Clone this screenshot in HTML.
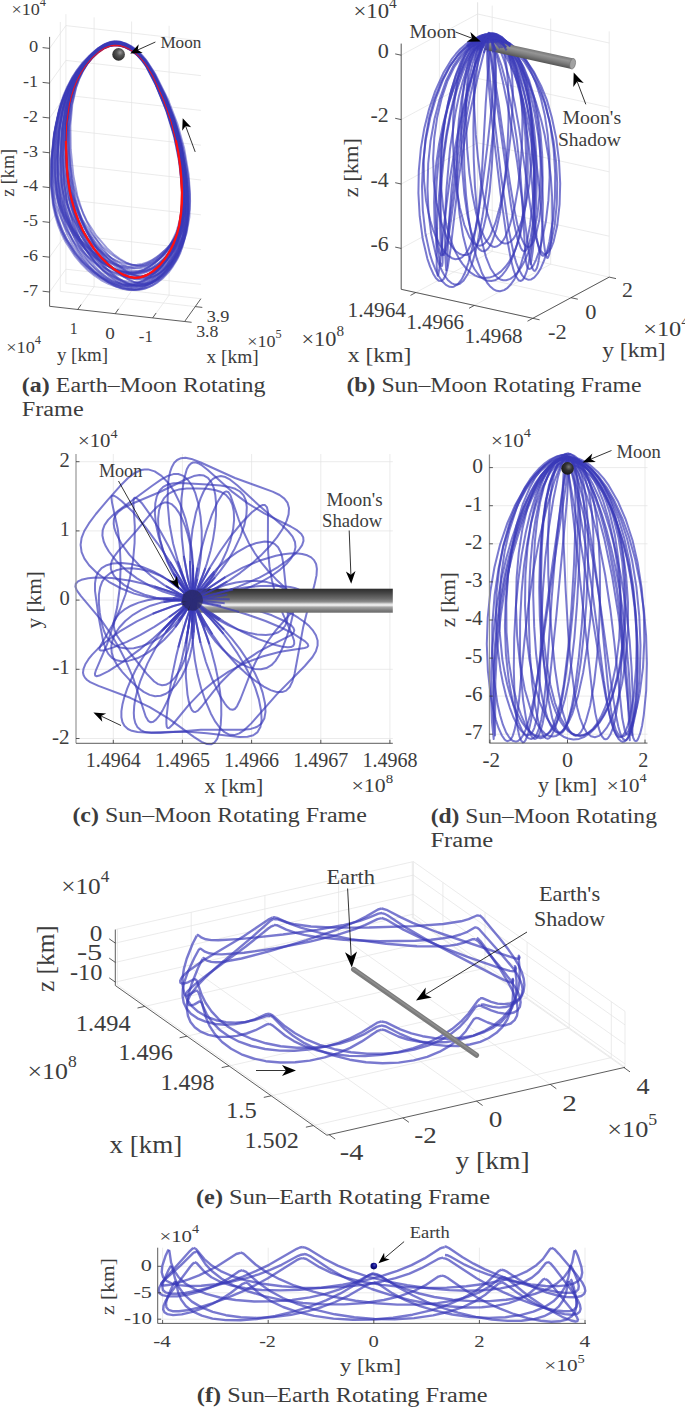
<!DOCTYPE html>
<html><head><meta charset="utf-8"><style>
html,body{margin:0;padding:0;background:#fff;}
svg{display:block;}
text{font-family:"Liberation Serif",serif;fill:#3c3c3c;}
</style></head><body>
<svg width="685" height="1408" viewBox="0 0 685 1408">
<defs>
<radialGradient id="gm" cx="0.62" cy="0.35" r="0.75"><stop offset="0" stop-color="#9a9a9a"/><stop offset="0.35" stop-color="#555"/><stop offset="1" stop-color="#222"/></radialGradient>
<radialGradient id="gm2" cx="0.6" cy="0.38" r="0.7"><stop offset="0" stop-color="#777"/><stop offset="0.4" stop-color="#333"/><stop offset="1" stop-color="#111"/></radialGradient>
<radialGradient id="gearth" cx="0.6" cy="0.35" r="0.75"><stop offset="0" stop-color="#4a4ac0"/><stop offset="0.4" stop-color="#10108a"/><stop offset="1" stop-color="#000050"/></radialGradient>
<linearGradient id="gshc" x1="0" y1="0" x2="0" y2="1"><stop offset="0" stop-color="#2c2c2c"/><stop offset="0.18" stop-color="#454545"/><stop offset="0.42" stop-color="#6c6c6c"/><stop offset="0.55" stop-color="#8c8c8c"/><stop offset="0.64" stop-color="#e2e2e2"/><stop offset="0.69" stop-color="#f0f0f0"/><stop offset="0.77" stop-color="#a4a4a4"/><stop offset="0.9" stop-color="#7c7c7c"/><stop offset="1" stop-color="#6a6a6a"/></linearGradient>
<linearGradient id="gshb" x1="0" y1="0" x2="0" y2="1"><stop offset="0" stop-color="#777"/><stop offset="0.3" stop-color="#959595"/><stop offset="0.6" stop-color="#7d7d7d"/><stop offset="1" stop-color="#555"/></linearGradient>
</defs>
<rect width="685" height="1408" fill="#fff"/>
<line x1="152.7" y1="317.9" x2="169.1" y2="295.1" stroke="#e3e3e3" stroke-width="0.7" />
<line x1="115.2" y1="313.7" x2="131.6" y2="290.9" stroke="#e3e3e3" stroke-width="0.7" />
<line x1="77.7" y1="309.5" x2="94.1" y2="286.7" stroke="#e3e3e3" stroke-width="0.7" />
<line x1="195.3" y1="306.6" x2="60.3" y2="291.4" stroke="#e3e3e3" stroke-width="0.7" />
<line x1="200.9" y1="298.7" x2="65.9" y2="283.5" stroke="#e3e3e3" stroke-width="0.7" />
<line x1="169.1" y1="295.1" x2="169.1" y2="25.8" stroke="#e3e3e3" stroke-width="0.7" />
<line x1="131.6" y1="290.9" x2="131.6" y2="21.5" stroke="#e3e3e3" stroke-width="0.7" />
<line x1="94.1" y1="286.7" x2="94.1" y2="17.3" stroke="#e3e3e3" stroke-width="0.7" />
<line x1="200.9" y1="40.8" x2="65.9" y2="25.6" stroke="#e3e3e3" stroke-width="0.7" />
<line x1="200.9" y1="75.6" x2="65.9" y2="60.4" stroke="#e3e3e3" stroke-width="0.7" />
<line x1="200.9" y1="110.4" x2="65.9" y2="95.2" stroke="#e3e3e3" stroke-width="0.7" />
<line x1="200.9" y1="145.2" x2="65.9" y2="130.0" stroke="#e3e3e3" stroke-width="0.7" />
<line x1="200.9" y1="180.0" x2="65.9" y2="164.8" stroke="#e3e3e3" stroke-width="0.7" />
<line x1="200.9" y1="214.8" x2="65.9" y2="199.6" stroke="#e3e3e3" stroke-width="0.7" />
<line x1="200.9" y1="249.6" x2="65.9" y2="234.4" stroke="#e3e3e3" stroke-width="0.7" />
<line x1="200.9" y1="284.4" x2="65.9" y2="269.2" stroke="#e3e3e3" stroke-width="0.7" />
<line x1="65.9" y1="283.5" x2="65.9" y2="14.2" stroke="#e3e3e3" stroke-width="0.7" />
<line x1="60.3" y1="291.4" x2="60.3" y2="22.0" stroke="#e3e3e3" stroke-width="0.7" />
<line x1="49.6" y1="48.4" x2="65.9" y2="25.6" stroke="#e3e3e3" stroke-width="0.7" />
<line x1="49.6" y1="83.2" x2="65.9" y2="60.4" stroke="#e3e3e3" stroke-width="0.7" />
<line x1="49.6" y1="118.0" x2="65.9" y2="95.2" stroke="#e3e3e3" stroke-width="0.7" />
<line x1="49.6" y1="152.8" x2="65.9" y2="130.0" stroke="#e3e3e3" stroke-width="0.7" />
<line x1="49.6" y1="187.6" x2="65.9" y2="164.8" stroke="#e3e3e3" stroke-width="0.7" />
<line x1="49.6" y1="222.4" x2="65.9" y2="199.6" stroke="#e3e3e3" stroke-width="0.7" />
<line x1="49.6" y1="257.2" x2="65.9" y2="234.4" stroke="#e3e3e3" stroke-width="0.7" />
<line x1="49.6" y1="292.0" x2="65.9" y2="269.2" stroke="#e3e3e3" stroke-width="0.7" />
<path d="M115.1 45.2l4.8 0.4l4.9 1.4l4.6 2.2l5.9 4l4 3.6l4.7 5.4l4.2 6l4.5 7.9l10.5 23l8 22.9l5.8 23.3l2 11.9l1.7 13.9l1.3 21.4l-0.6 18l-2.4 16l-2.3 8.5l-2.3 6.7l-3.7 8l-3.6 6.1l-4.2 5.8l-4.8 5.3l-5.2 4.5l-4.2 2.7l-5.9 2.6l-4.5 0.9l-4.7 0.1l-6.3 -1.4l-6.3 -2.7l-6.1 -3.8l-5.8 -4.5l-6.7 -6.4l-4.9 -5.6l-5.6 -7.4l-4.9 -7.8l-4.3 -7.9l-3.7 -8l-3.7 -9.6l-4.9 -18l-3 -20.3l-1.4 -26.2l0.6 -23.5l2.7 -19.5l2.1 -8.7l2.6 -8.4l3.3 -8.1l4.1 -7.7l4.9 -7.4l5.7 -6.8l6.6 -6l5.7 -3.8l6.1 -2.4l4.7 -0.6" fill="none" stroke="#ff1010" stroke-width="2.2" stroke-opacity="1.0" stroke-linejoin="round"/>
<path d="M115.2 43.4l4.8 0.4l4.9 1.5l4.9 2.3l6.1 4.2l4.2 3.7l5 5.6l4.4 6.2l5 8.2l11.5 23.7l9 23.8l6.7 24.1l4.7 26.7l2.1 22.2l0 18.6l-1.9 16.5l-4.2 15.8l-3.5 8.3l-3.5 6.3l-4.1 6l-4.7 5.5l-5.2 4.6l-4.2 2.9l-5.9 2.6l-4.6 1l-4.8 0.1l-6.5 -1.5l-6.4 -2.8l-6.4 -3.9l-6 -4.6l-7 -6.7l-11 -13.5l-9.8 -16.2l-7.4 -16.5l-5.6 -18.7l-3.8 -20.9l-2.4 -27.1l-0.1 -24.2l2.2 -22.2l4.2 -17.6l3 -8.4l3.8 -8l4.6 -7.6l5.5 -7.1l6.2 -6.2l5.6 -3.9l5.9 -2.5l4.7 -0.7" fill="none" stroke="#3a3ab8" stroke-width="1.8" stroke-opacity="0.5" stroke-linejoin="round"/>
<path d="M115.1 43.1l4.8 0.4l6.2 2l6 3.3l5.5 4.4l4.8 5l4.4 5.6l9.1 15.4l11.9 25.2l8.6 23.8l6.1 24.3l3.5 25.4l0.6 17.3l-1.5 15.5l-3.5 13.3l-5.9 12.7l-4 6l-4.8 5.8l-10.2 8.9l-6.7 4.2l-5.4 2.4l-5.6 1.7l-5.8 0.9l-5.9 0.1l-7.9 -1.4l-5.9 -1.8l-7.6 -3.4l-7.2 -4.2l-6.7 -4.7l-6.1 -5.2l-6.8 -7l-10 -13.4l-4.4 -7.6l-3.6 -7.7l-2.9 -7.7l-2.6 -9.5l-2.6 -17.6l-0.5 -11.5l0.2 -11.7l1 -13.7l1.6 -12.1l4.5 -20.7l3.5 -10.1l3.5 -8.2l5 -9.4l5 -7.5l5.6 -7.2l6.5 -6.6l7.2 -6l6.2 -3.9l6.4 -2.7l6.4 -1.1" fill="none" stroke="#3a3ab8" stroke-width="1.8" stroke-opacity="0.5" stroke-linejoin="round"/>
<path d="M115.1 42.4l4.9 0.5l6.4 2.1l4.7 2.6l5.8 4.5l8.6 9.8l8.9 14.7l11.6 25.8l8.4 24.1l6.2 24.5l4.2 27.2l1.4 20.7l-0.4 18.9l-2.5 16.6l-2.4 8.9l-2.5 6.9l-6.8 13.1l-4.4 6.1l-5 5.6l-5.5 4.7l-4.5 2.9l-6.2 2.7l-4.9 1l-5 0l-6.8 -1.4l-5.1 -2.1l-6.6 -3.6l-6.3 -4.6l-7.3 -6.6l-5.3 -5.7l-6.1 -7.8l-10 -16.3l-7.4 -16.8l-5.5 -18.8l-3.4 -21.1l-1.6 -27.4l0.8 -26.4l1.2 -11.3l1.9 -11.1l4.9 -17.9l3.5 -8.5l4.2 -8.1l5 -7.7l5.8 -7.2l6.6 -6.3l5.7 -3.9l6.1 -2.5l4.7 -0.8" fill="none" stroke="#3a3ab8" stroke-width="1.8" stroke-opacity="0.5" stroke-linejoin="round"/>
<path d="M115.1 44l4.8 0.4l6.3 2.2l4.6 2.6l5.6 4.5l5 5.4l4.3 6l8.2 15l10.9 25.9l8.2 26l5.4 24.7l3.4 27.5l0.8 20.9l-1 17.1l-3.1 16.6l-4.9 14.1l-7.2 13.2l-4.6 6.1l-5.3 5.6l-5.8 4.7l-4.6 2.9l-6.5 2.7l-5 1l-5.2 0.1l-6.9 -1.5l-5.2 -2l-6.7 -3.7l-6.4 -4.6l-7.3 -6.6l-5.3 -5.8l-6 -7.8l-5.3 -8.1l-4.6 -8.3l-7 -16.8l-5.1 -19l-2.8 -21.2l-0.7 -25.6l1.4 -26.6l3.7 -22.6l5.5 -18.1l4.5 -10.3l4.5 -8.1l5.3 -7.7l6.2 -7.2l6.9 -6.4l6 -4l6.2 -2.5l4.8 -0.7" fill="none" stroke="#3a3ab8" stroke-width="1.8" stroke-opacity="0.5" stroke-linejoin="round"/>
<path d="M115.1 41.4l4.9 0.4l6.4 2l4.7 2.4l5.8 4.1l8.6 9l8.8 13.5l10.9 22.1l9 23.7l6.1 22.5l4.1 25l1.4 19l-0.5 17.4l-2.4 15.2l-4.9 14.6l-6.7 12l-4.4 5.6l-4.9 5.1l-5.5 4.3l-4.3 2.7l-6.2 2.4l-4.8 1l-5 0l-6.7 -1.3l-6.6 -2.6l-6.5 -3.7l-6.1 -4.3l-7.1 -6.2l-11 -12.5l-9.7 -15.1l-7.1 -15.4l-5.3 -17.4l-3.3 -19.4l-1.5 -25.2l0.7 -22.6l1.1 -10.4l1.8 -10.2l4.9 -16.4l3.4 -7.8l4.2 -7.5l4.9 -7l5.7 -6.6l6.6 -5.8l5.8 -3.6l6 -2.3l4.7 -0.7" fill="none" stroke="#3a3ab8" stroke-width="1.8" stroke-opacity="0.5" stroke-linejoin="round"/>
<path d="M115.1 44.2l4.9 0.4l6.4 2.1l4.7 2.5l5.9 4.4l5.3 5.1l4.6 5.8l9 14.4l12.1 24.8l9.5 25l6.9 25.4l4.4 26.5l1.4 20l-0.7 16.4l-2.8 15.9l-4.9 13.4l-3.4 6.4l-4.2 6.1l-4.8 5.8l-5.5 5.2l-6.1 4.3l-4.8 2.5l-5.1 1.9l-5.3 0.9l-5.5 0.1l-7.3 -1.4l-5.5 -2l-7.1 -3.5l-6.9 -4.4l-6.3 -5l-5.8 -5.5l-6.7 -7.4l-5.8 -7.7l-5.1 -7.9l-7.9 -16.2l-5.8 -18.1l-3.3 -18.6l-1.5 -24.5l0.9 -27.2l3.2 -21.7l2.7 -10.6l2.9 -8.5l4.3 -9.9l4.4 -7.8l5.2 -7.5l6 -6.9l6.8 -6.1l5.8 -3.8l6.1 -2.4l4.7 -0.7" fill="none" stroke="#3a3ab8" stroke-width="1.8" stroke-opacity="0.5" stroke-linejoin="round"/>
<path d="M115.1 43.1l4.7 0.4l6.2 2.1l5.9 3.6l5.3 4.7l4.8 5.5l4.1 6l9.5 18.4l11.2 27.2l7.9 25.8l5.4 26.4l2.8 27.5l0 18.8l-2 16.7l-3.9 14.3l-2.9 6.9l-3.5 6.7l-4.2 6.4l-5.1 6.2l-5.7 5.6l-4.8 3.8l-6.8 4.2l-5.4 2.4l-5.6 1.6l-5.8 0.7l-5.8 -0.3l-7.8 -1.8l-5.7 -2.3l-7.4 -3.9l-6.9 -4.7l-6.4 -5.2l-5.8 -5.8l-6.4 -7.6l-9.4 -14.6l-4.1 -8.2l-3.3 -8.4l-2.6 -8.4l-2.3 -10.2l-2.2 -19.1l0.2 -25.2l2.7 -26.1l4.9 -22.3l3.5 -11l3.6 -8.8l5.1 -10.2l5.1 -8.2l5.8 -7.7l6.6 -7.2l7.3 -6.5l6.3 -4.2l6.4 -2.9l6.5 -1.1" fill="none" stroke="#3a3ab8" stroke-width="1.8" stroke-opacity="0.5" stroke-linejoin="round"/>
<path d="M115.1 44.3l4.8 0.4l6.3 2.1l4.6 2.5l5.7 4.3l5 5.1l4.5 5.7l9.4 16l11.2 24.7l8.7 24.7l6.2 25.4l3.7 26.3l0.8 19.9l-1.2 16.2l-3 14.1l-5.3 13.3l-3.6 6.3l-4.3 6.1l-5 5.7l-5.7 5.2l-6.3 4.3l-5 2.5l-5.2 1.8l-5.4 1l-5.5 0l-7.4 -1.4l-5.6 -1.9l-7.2 -3.5l-6.8 -4.4l-6.3 -5l-5.8 -5.4l-6.5 -7.3l-5.7 -7.7l-5 -7.9l-7.6 -16l-2.8 -8.1l-2.5 -9.9l-2.8 -18.4l-0.8 -24.3l1.5 -25.3l3.8 -21.6l2.9 -10.5l3.1 -8.6l4.6 -9.9l4.6 -7.8l5.3 -7.5l6.1 -6.9l7 -6.3l5.9 -4.1l6.2 -2.7l6.4 -1.2" fill="none" stroke="#3a3ab8" stroke-width="1.8" stroke-opacity="0.5" stroke-linejoin="round"/>
<path d="M115.1 43.7l4.8 0.4l6.4 2.2l4.7 2.6l5.8 4.5l8.6 9.7l8.7 14.8l11.7 25.7l8.9 25.8l6 24.5l4.1 27.2l1.3 20.7l-0.7 18.9l-2.8 16.5l-4.6 14l-7 13.1l-4.5 6.1l-5.2 5.5l-5.7 4.7l-4.6 2.9l-6.4 2.7l-5 1l-5.1 0l-7 -1.4l-5.2 -2l-6.7 -3.7l-6.5 -4.6l-7.4 -6.5l-5.4 -5.8l-6.2 -7.7l-5.4 -8.1l-4.7 -8.2l-7.3 -16.7l-5.4 -18.8l-3.2 -21.1l-1.2 -25.5l0.9 -26.4l3.2 -22.4l5.1 -18l4.2 -10.2l4.3 -8.1l5.2 -7.7l5.9 -7.1l6.7 -6.4l5.9 -3.9l6.1 -2.5l4.7 -0.7" fill="none" stroke="#3a3ab8" stroke-width="1.8" stroke-opacity="0.5" stroke-linejoin="round"/>
<path d="M115.1 42.9l4.8 0.4l6.2 2l4.5 2.4l5.7 4.3l4.9 5l4.4 5.6l9.2 15.6l11.7 25.9l8.4 24.3l5.9 24.9l3.3 26l0.5 19.5l-1.6 15.9l-3.4 13.7l-5.8 13l-3.9 6.2l-4.6 5.9l-9.8 9.2l-6.5 4.2l-5.1 2.5l-5.4 1.8l-5.5 0.9l-5.6 0l-7.6 -1.3l-5.7 -1.9l-7.3 -3.5l-6.9 -4.3l-6.3 -4.8l-5.9 -5.4l-6.6 -7.1l-5.7 -7.6l-4.9 -7.7l-7.5 -15.8l-2.7 -7.9l-2.5 -9.7l-2.5 -18.1l-0.3 -23.9l2 -24.7l4.2 -21.3l3.2 -10.3l3.3 -8.4l4.8 -9.7l4.8 -7.7l5.6 -7.3l6.3 -6.9l7.1 -6.1l6.1 -4l6.3 -2.7l6.4 -1.1" fill="none" stroke="#3a3ab8" stroke-width="1.8" stroke-opacity="0.5" stroke-linejoin="round"/>
<path d="M115.1 42.5l4.8 0.4l6.4 2.1l4.6 2.5l5.7 4.2l5.1 5.1l4.4 5.7l8.5 14.2l11.2 24.5l8.7 24.6l5.7 23.5l3.8 26l1 19.8l-0.8 16.1l-2.9 15.8l-4.8 13.3l-3.3 6.4l-3.9 6.1l-4.6 5.8l-5.3 5.3l-5.9 4.5l-4.6 2.7l-6.6 2.6l-5.1 0.9l-5.3 0.1l-7 -1.4l-5.3 -1.9l-6.9 -3.5l-6.5 -4.4l-7.5 -6.2l-5.4 -5.5l-6.2 -7.4l-5.4 -7.7l-4.7 -7.8l-7.3 -16l-5.1 -17.9l-2.9 -18.4l-1 -26l1.3 -25.1l3.2 -19.7l2.8 -10.4l3 -8.4l4.5 -9.8l4.5 -7.7l5.3 -7.3l6.1 -6.9l6.8 -6l6 -3.7l6.2 -2.4l4.7 -0.7" fill="none" stroke="#3a3ab8" stroke-width="1.8" stroke-opacity="0.5" stroke-linejoin="round"/>
<path d="M115.1 43.5l4.9 0.4l6.4 2.2l4.7 2.6l5.8 4.5l5.2 5.4l4.6 6l8.8 15.1l11.8 25.9l9.1 26l6.2 24.8l4.2 27.6l1.4 20.8l-0.6 17.2l-2.7 16.6l-4.5 14.2l-3.2 6.7l-3.9 6.4l-4.5 6.2l-5.2 5.6l-5.8 4.7l-4.7 2.9l-6.5 2.7l-5.1 1l-5.3 0.1l-7.1 -1.5l-5.3 -2l-6.9 -3.7l-6.6 -4.6l-7.6 -6.6l-5.5 -5.8l-6.3 -7.8l-5.6 -8.2l-4.8 -8.3l-7.5 -16.8l-5.5 -19l-3.1 -19.4l-1.4 -27.6l0.9 -26.5l2.8 -20.8l2.6 -11.1l2.8 -8.9l4.3 -10.3l4.3 -8.2l5.1 -7.7l6 -7.2l6.7 -6.4l5.8 -3.9l6.1 -2.6l4.7 -0.7" fill="none" stroke="#3a3ab8" stroke-width="1.8" stroke-opacity="0.5" stroke-linejoin="round"/>
<path d="M115.1 43.5l4.9 0.4l6.5 2l4.8 2.5l5.9 4.3l8.8 9.3l9.1 14.1l11.3 23l8.8 22.9l6.5 23.4l4.6 25.8l1.9 19.7l-0.1 18.1l-2 15.9l-4.3 15.2l-3.6 8l-3.6 6.2l-4.2 5.8l-4.9 5.3l-5.3 4.5l-4.3 2.7l-6.1 2.6l-4.8 0.9l-4.9 0.1l-6.6 -1.4l-6.7 -2.7l-6.4 -3.8l-6.2 -4.5l-7.1 -6.4l-11.2 -13.1l-9.8 -15.6l-7.3 -16l-5.5 -18l-3.7 -20.2l-1.9 -26.2l0.2 -23.5l2.5 -21.4l4.6 -17.1l3.2 -8.1l3.9 -7.7l4.8 -7.3l5.6 -6.9l6.4 -6l5.6 -3.8l6 -2.4l4.6 -0.6" fill="none" stroke="#3a3ab8" stroke-width="1.8" stroke-opacity="0.5" stroke-linejoin="round"/>
<path d="M115.1 43.5l4.8 0.4l6.3 1.9l4.6 2.4l5.8 4.1l5.1 4.8l4.5 5.4l9.4 15.1l11.3 23.4l8.8 23.5l6.2 24l3.7 24.9l0.9 18.9l-1.2 15.4l-3 13.2l-5.1 12.7l-3.6 6l-4.2 5.7l-5 5.5l-5.7 4.8l-6.2 4.1l-4.9 2.4l-5.2 1.7l-5.3 0.9l-5.5 0.1l-7.4 -1.3l-5.5 -1.9l-7.1 -3.3l-6.8 -4.2l-6.3 -4.7l-5.7 -5.1l-6.6 -6.9l-5.7 -7.3l-4.9 -7.5l-7.7 -15.2l-2.8 -7.6l-2.6 -9.4l-2.9 -17.5l-0.9 -23l1.5 -25.6l3.8 -20.5l3 -9.9l3.2 -8.1l4.6 -9.2l4.7 -7.4l5.4 -7l6.2 -6.5l7 -5.7l6 -3.6l6.2 -2.3l4.8 -0.6" fill="none" stroke="#3a3ab8" stroke-width="1.8" stroke-opacity="0.5" stroke-linejoin="round"/>
<path d="M115.1 43.1l4.9 0.4l4.9 1.4l4.8 2.3l6.1 4.2l4.2 3.7l4.9 5.6l4.5 6.2l4.9 8.2l11.4 23.7l8.9 23.7l6.6 24.1l4.7 26.6l2 22.2l-0.1 18.6l-1.9 16.5l-4.3 15.7l-3.5 8.3l-3.5 6.3l-4.2 6l-4.7 5.5l-5.2 4.6l-4.2 2.8l-6 2.7l-4.6 1l-4.8 0l-6.5 -1.4l-6.5 -2.8l-6.4 -3.9l-6 -4.7l-7 -6.6l-11 -13.5l-9.8 -16.1l-7.3 -16.6l-5.5 -18.6l-3.8 -20.8l-2.2 -27.1l0 -24.2l2.3 -22.1l4.3 -17.6l3.1 -8.4l3.9 -8l4.6 -7.6l5.5 -7.1l6.4 -6.2l5.5 -3.9l6 -2.4l4.6 -0.7" fill="none" stroke="#3a3ab8" stroke-width="1.8" stroke-opacity="0.5" stroke-linejoin="round"/>
<path d="M115.1 44.9l4.8 0.4l6.3 2.1l6 3.3l5.5 4.5l5 5.1l4.3 5.7l9.3 15.8l12.1 25.6l8.8 24.3l6.3 24.8l3.7 25.9l0.6 17.7l-1.4 15.8l-3.3 13.6l-5.8 13l-4 6.1l-4.7 5.8l-10.1 9.2l-6.7 4.2l-5.3 2.5l-5.6 1.8l-5.7 0.9l-5.9 0l-7.9 -1.3l-5.9 -1.9l-7.6 -3.5l-7.2 -4.2l-6.6 -4.9l-6.1 -5.3l-6.9 -7.1l-10.1 -13.7l-4.4 -7.7l-3.7 -7.9l-2.9 -7.9l-2.6 -9.6l-2.8 -18l-0.6 -11.7l0.1 -12l0.8 -13.9l1.5 -12.4l4.3 -21.1l3.3 -10.3l3.4 -8.4l4.9 -9.6l4.9 -7.7l5.6 -7.3l6.4 -6.8l7.1 -6.1l6.1 -3.9l6.3 -2.8l6.4 -1.1" fill="none" stroke="#3a3ab8" stroke-width="1.8" stroke-opacity="0.5" stroke-linejoin="round"/>
<path d="M115.1 41.3l4.8 0.4l6.3 2.2l4.5 2.7l5.6 4.6l5 5.4l4.4 6.1l9.2 17l10.9 26.3l8.4 26.4l5.8 27l3.4 28l0.6 21.2l-1.4 17.3l-3.1 14.9l-5.3 14.2l-3.6 6.8l-4.3 6.5l-5 6l-5.6 5.5l-6.2 4.6l-4.9 2.7l-5.2 1.9l-5.3 1.1l-5.4 0l-7.3 -1.5l-5.4 -2l-7 -3.8l-6.7 -4.7l-7.7 -6.6l-5.5 -5.9l-6.3 -7.9l-5.4 -8.3l-4.7 -8.4l-7.1 -17.1l-5 -19.2l-2.5 -19.7l-0.6 -12.8l0.1 -15.1l1.9 -26.9l3.7 -21l3.1 -11.2l3.3 -9.1l4.7 -10.4l4.8 -8.3l5.5 -7.8l6.3 -7.4l7.1 -6.4l6 -4l6.3 -2.6l4.8 -0.7" fill="none" stroke="#3a3ab8" stroke-width="1.8" stroke-opacity="0.5" stroke-linejoin="round"/>
<path d="M115.1 41.8l4.8 0.4l6.2 2l4.6 2.4l5.6 4.2l5 4.9l4.5 5.6l9.3 15.4l11.9 25.5l8.7 24.1l6.1 24.6l3.6 25.6l0.6 19.4l-1.5 15.6l-3.4 13.5l-5.8 12.9l-3.9 6.1l-4.7 5.8l-9.9 9.1l-6.6 4.2l-5.2 2.4l-5.4 1.8l-5.7 0.9l-5.7 0l-7.7 -1.3l-5.8 -1.9l-7.4 -3.4l-7 -4.2l-6.5 -4.8l-6 -5.3l-6.7 -7.1l-9.8 -13.6l-4.4 -7.7l-3.6 -7.8l-2.8 -7.8l-2.7 -9.6l-2.7 -17.8l-0.6 -11.6l0.1 -11.9l2.1 -26.2l4.3 -20.9l3.2 -10.3l3.4 -8.2l4.8 -9.6l4.9 -7.6l5.5 -7.3l6.4 -6.7l7.1 -6.1l6.1 -3.9l6.3 -2.7l6.4 -1.1" fill="none" stroke="#3a3ab8" stroke-width="1.8" stroke-opacity="0.5" stroke-linejoin="round"/>
<path d="M115.1 42.2l4.8 0.4l6.5 2.1l4.6 2.5l5.8 4.3l8.6 9.5l8.8 14.2l11.6 24.9l8.9 25l6 23.7l4 26.3l1.2 20l-0.7 18.3l-2.7 16l-4.5 13.5l-7 12.7l-4.4 5.9l-5.1 5.3l-5.6 4.6l-4.5 2.8l-6.3 2.6l-4.9 0.9l-5.1 0.1l-6.8 -1.4l-5.1 -2l-6.7 -3.5l-6.4 -4.4l-7.3 -6.4l-5.4 -5.6l-6 -7.4l-10.1 -15.8l-7.3 -16.2l-5.4 -18.2l-3.4 -20.4l-1.4 -24.6l0.8 -25.5l3 -21.7l4.9 -17.4l4.2 -9.9l4.2 -7.9l5.1 -7.4l5.8 -6.9l6.7 -6.1l5.8 -3.8l6.1 -2.4l4.7 -0.7" fill="none" stroke="#3a3ab8" stroke-width="1.8" stroke-opacity="0.5" stroke-linejoin="round"/>
<path d="M115.1 43.9l4.9 0.4l6.4 2l4.7 2.4l5.8 4.2l8.6 9.2l8.7 13.9l10.7 22.5l8.4 22.6l6 23l4.1 25.5l1.5 19.3l-0.4 17.8l-2.2 15.7l-4.6 14.9l-3.7 7.9l-3.6 6l-4.3 5.8l-4.9 5.2l-5.3 4.4l-4.4 2.7l-6 2.5l-4.7 1l-4.9 0l-6.5 -1.3l-6.6 -2.7l-6.3 -3.7l-6 -4.5l-7 -6.3l-10.8 -12.8l-9.6 -15.4l-7 -15.8l-5.3 -17.7l-3.3 -19.9l-1.6 -25.7l0.5 -23.1l2.9 -21.1l4.7 -16.8l3.4 -7.9l4.1 -7.7l4.9 -7.2l5.7 -6.7l6.5 -5.9l5.8 -3.7l6 -2.4l4.7 -0.6" fill="none" stroke="#3a3ab8" stroke-width="1.8" stroke-opacity="0.5" stroke-linejoin="round"/>
<path d="M115.1 43.4l4.9 0.4l6.4 2.1l4.7 2.6l5.8 4.5l8.6 9.7l8.8 14.6l10.9 23.9l8.4 23.9l6.1 24.3l4.2 26.9l1.5 20.5l-0.3 18.8l-2.2 16.6l-4.5 15.8l-3.7 8.4l-3.7 6.3l-4.2 6.1l-4.9 5.5l-5.4 4.7l-4.4 2.8l-6.1 2.7l-4.7 1l-4.9 0l-6.6 -1.4l-6.6 -2.8l-6.4 -3.9l-6 -4.7l-7.1 -6.7l-10.9 -13.6l-9.6 -16.3l-7.1 -16.7l-5.3 -18.7l-3.3 -21l-1.6 -27.3l0.5 -24.4l1.1 -11.2l1.8 -11l4.8 -17.8l3.3 -8.4l4.1 -8.1l4.9 -7.6l5.7 -7.2l6.6 -6.2l5.7 -3.9l6 -2.5l4.7 -0.7" fill="none" stroke="#3a3ab8" stroke-width="1.8" stroke-opacity="0.5" stroke-linejoin="round"/>
<path d="M115.1 43.3l4.8 0.4l6.3 2.2l4.5 2.6l5.7 4.4l5.1 5.3l4.4 6l9.4 16.5l12 27.3l8.7 25.7l6.1 26.4l3.7 27.4l0.6 20.7l-1.4 16.7l-3.4 14.5l-5.6 13.7l-3.9 6.6l-4.6 6.2l-9.8 9.7l-6.5 4.5l-5.1 2.6l-5.4 1.9l-5.5 1l-5.7 0l-7.7 -1.4l-5.6 -2l-7.4 -3.7l-7 -4.5l-6.4 -5.2l-6 -5.6l-6.6 -7.6l-5.8 -7.9l-5 -8.2l-4.2 -8.3l-3.5 -8.3l-2.8 -8.5l-2.5 -10.2l-2.6 -19.2l-0.5 -25.2l1.8 -26.1l4.1 -22.5l3.1 -10.9l3.3 -8.9l4.7 -10.2l4.7 -8.2l5.5 -7.7l6.3 -7.2l7 -6.5l6 -4.2l6.3 -2.9l6.4 -1.2" fill="none" stroke="#3a3ab8" stroke-width="1.8" stroke-opacity="0.5" stroke-linejoin="round"/>
<path d="M115.1 42l4.8 0.4l6.3 2.2l4.6 2.6l5.7 4.6l5.1 5.4l4.5 6.1l9.5 16.9l12.2 28l8.9 26.3l6.4 27l3.9 28l0.8 21.2l-1.4 17.1l-3.3 14.8l-5.7 14.1l-3.9 6.7l-4.7 6.3l-5.4 6l-4.6 4l-6.5 4.6l-5.3 2.7l-5.4 1.9l-5.7 1l-5.8 0l-7.8 -1.4l-5.8 -2.1l-7.5 -3.7l-7.1 -4.7l-6.6 -5.2l-6 -5.8l-6.8 -7.8l-10.1 -14.8l-4.4 -8.5l-3.6 -8.5l-3 -8.6l-2.6 -10.4l-2.9 -19.6l-0.7 -12.7l0 -13l2.1 -28.7l4.1 -22.9l3.2 -11.2l3.3 -9.1l4.8 -10.5l4.8 -8.3l5.5 -7.9l6.3 -7.4l7.1 -6.7l6 -4.3l6.3 -2.9l6.4 -1.2" fill="none" stroke="#3a3ab8" stroke-width="1.8" stroke-opacity="0.5" stroke-linejoin="round"/>
<path d="M115.2 44l4.8 0.5l5 1.4l4.8 2.2l6.2 4l4.2 3.7l5.1 5.4l4.5 6l4.9 8l11.7 23l9.1 23l6.8 23.4l4.6 24.1l2.3 21.5l0.2 18.1l-1.6 16l-3.8 15.4l-3.2 8.1l-3.3 6.2l-3.9 5.9l-4.5 5.5l-5 4.8l-4 2.9l-5.8 2.9l-4.5 1.3l-4.7 0.3l-6.4 -1l-6.4 -2.4l-6.4 -3.5l-6.1 -4.4l-7.1 -6.3l-11.2 -12.9l-10.1 -15.7l-8.3 -17.6l-5.7 -18.1l-4 -20.2l-2.6 -26.3l-0.3 -23.5l1.9 -21.5l4 -17.1l3 -8.2l3.7 -7.7l4.5 -7.4l5.4 -6.9l6.2 -6l5.4 -3.8l5.9 -2.4l4.7 -0.7" fill="none" stroke="#3a3ab8" stroke-width="1.8" stroke-opacity="0.5" stroke-linejoin="round"/>
<path d="M115.1 44.6l4.8 0.4l6.3 2.1l4.7 2.5l5.7 4.4l5.1 5.2l4.6 5.8l9.5 16.3l12.3 26.8l9 25.2l6.3 25.9l3.9 26.9l0.8 20.3l-1.3 16.5l-3.2 14.2l-5.6 13.4l-3.8 6.4l-4.5 6.1l-9.8 9.6l-6.4 4.4l-5.1 2.6l-5.4 1.8l-5.5 1l-5.7 0l-7.6 -1.4l-5.7 -1.9l-7.4 -3.7l-7 -4.4l-6.5 -5.1l-6 -5.5l-6.7 -7.4l-5.9 -7.8l-5.1 -8.1l-7.7 -16.3l-2.9 -8.3l-2.6 -10l-2.8 -18.8l-0.8 -24.8l1.7 -25.6l3.8 -22.1l3 -10.7l3.2 -8.7l4.6 -10.1l4.7 -8l5.4 -7.5l6.1 -7.1l7 -6.4l5.9 -4.1l6.2 -2.9l6.4 -1.1" fill="none" stroke="#3a3ab8" stroke-width="1.8" stroke-opacity="0.5" stroke-linejoin="round"/>
<path d="M115.1 41.9l4.9 0.4l4.8 1.4l4.8 2.3l5.9 4l4.1 3.7l4.9 5.4l4.2 6l4.8 8l10.9 23.1l8.5 23.1l6.2 23.5l4.2 26l1.7 21.6l-0.4 18.2l-2.2 16l-4.4 15.3l-3.7 8.1l-3.5 6.1l-4.2 5.9l-4.8 5.3l-5.3 4.6l-4.2 2.7l-5.9 2.6l-4.7 1l-4.7 0l-6.5 -1.4l-6.4 -2.7l-6.3 -3.8l-5.9 -4.5l-6.9 -6.5l-10.7 -13.1l-9.6 -15.8l-7.6 -17.8l-5.1 -18.1l-3.3 -20.4l-1.7 -26.5l0.5 -23.6l2.5 -19.7l4.6 -17.2l3.3 -8.2l4 -7.8l4.7 -7.4l5.7 -6.9l6.4 -6l5.7 -3.8l6 -2.4l4.7 -0.7" fill="none" stroke="#3a3ab8" stroke-width="1.8" stroke-opacity="0.5" stroke-linejoin="round"/>
<path d="M115.1 41.9l4.8 0.4l6.4 2.2l4.7 2.5l5.8 4.5l5.2 5.3l4.6 6l8.7 14.9l11.8 25.7l9.2 25.8l6.6 26.3l4.1 27.4l1.3 20.7l-0.8 16.9l-3.1 16.5l-5 13.9l-3.5 6.6l-4.1 6.3l-4.9 5.9l-5.6 5.4l-6.1 4.5l-4.9 2.6l-5.1 1.9l-5.3 1l-5.4 0l-7.3 -1.4l-5.5 -2l-7.1 -3.7l-6.8 -4.5l-6.3 -5.2l-5.8 -5.7l-6.5 -7.6l-5.8 -8l-5 -8.2l-7.8 -16.7l-5.6 -18.7l-3.1 -19.2l-1.3 -25.3l1.2 -28.2l3.4 -22.5l2.9 -10.9l3 -8.9l4.5 -10.2l4.5 -8.1l5.3 -7.6l6 -7.2l6.9 -6.3l5.9 -3.9l6.2 -2.5l4.7 -0.7" fill="none" stroke="#3a3ab8" stroke-width="1.8" stroke-opacity="0.5" stroke-linejoin="round"/>
<path d="M115.1 43.3l4.9 0.4l4.9 1.3l4.7 2.2l6.1 3.8l4 3.5l4.9 5.2l4.3 5.7l4.8 7.6l11 22l8.6 22l6.2 22.3l4.3 24.7l1.7 20.6l-0.3 17.3l-2.1 15.2l-4.4 14.6l-3.5 7.7l-3.5 5.8l-4.1 5.6l-4.7 5.1l-5.2 4.3l-4.1 2.6l-5.8 2.5l-4.6 0.9l-4.7 0l-6.3 -1.3l-6.4 -2.6l-6.1 -3.6l-5.9 -4.3l-6.8 -6.2l-10.7 -12.5l-9.6 -15l-7.7 -16.9l-5.2 -17.2l-3.4 -19.4l-1.9 -25.2l0.2 -22.5l2.2 -18.8l4.4 -16.3l3.1 -7.8l3.9 -7.4l4.7 -7l5.5 -6.6l6.4 -5.8l5.6 -3.6l6 -2.3l4.6 -0.6" fill="none" stroke="#3a3ab8" stroke-width="1.8" stroke-opacity="0.5" stroke-linejoin="round"/>
<path d="M115.1 41.9l4.8 0.4l6.4 2.2l4.7 2.6l5.7 4.6l5.2 5.4l4.5 6.1l8.7 15.2l11.6 26.2l9 26.3l6.5 26.9l3.9 27.9l1.1 21.1l-0.9 17.3l-3 16.8l-5 14.1l-3.5 6.8l-4.1 6.4l-4.9 6.1l-5.5 5.5l-6 4.5l-4.9 2.7l-5 1.9l-5.2 1.1l-5.4 0l-7.2 -1.5l-5.4 -2l-7 -3.8l-6.7 -4.6l-7.7 -6.7l-5.6 -5.9l-6.3 -7.8l-5.5 -8.2l-4.8 -8.5l-7.4 -17l-5.4 -19.1l-2.9 -19.7l-1 -27.8l1.3 -26.9l3.2 -21l2.8 -11.1l3 -9l4.4 -10.5l4.5 -8.2l5.3 -7.8l6 -7.3l6.9 -6.5l5.9 -4l6.2 -2.5l4.7 -0.7" fill="none" stroke="#3a3ab8" stroke-width="1.8" stroke-opacity="0.5" stroke-linejoin="round"/>
<path d="M115.1 42.5l4.9 0.4l6.4 2l4.6 2.4l5.8 4.2l8.5 9l8.6 13.7l10.6 22.2l8.2 22.3l5.9 22.7l4 25.1l1.3 19.1l-0.4 17.5l-2.3 15.5l-4.7 14.7l-3.7 7.8l-3.7 5.9l-4.2 5.7l-4.9 5.1l-5.4 4.4l-4.3 2.6l-6.1 2.5l-4.7 1l-4.8 0l-6.5 -1.3l-6.5 -2.7l-6.4 -3.6l-6 -4.4l-6.9 -6.2l-10.8 -12.7l-9.4 -15.2l-7 -15.5l-5.2 -17.5l-3.2 -19.6l-1.5 -25.4l0.7 -22.8l2.9 -20.7l4.9 -16.6l3.4 -7.8l4.1 -7.6l4.9 -7.1l5.8 -6.6l6.6 -5.9l5.7 -3.6l6.1 -2.3l4.7 -0.7" fill="none" stroke="#3a3ab8" stroke-width="1.8" stroke-opacity="0.5" stroke-linejoin="round"/>
<path d="M115.1 44.5l4.9 0.4l6.4 2.1l4.7 2.6l5.9 4.4l8.7 9.7l8.9 14.6l11.1 23.8l9.2 25.5l6.2 24.3l4.2 26.9l1.5 20.4l-0.3 18.7l-2.4 16.5l-2.3 8.8l-2.5 6.9l-6.7 12.9l-4.3 6l-5 5.5l-5.4 4.7l-4.4 2.9l-6.2 2.6l-4.8 1l-4.9 0l-6.8 -1.4l-5 -2l-6.5 -3.6l-6.3 -4.6l-7.3 -6.4l-11.3 -13.4l-10.1 -16.2l-7.4 -16.5l-5.6 -18.6l-3.6 -20.9l-1.7 -27.1l0.4 -26.2l1.1 -11.2l1.8 -11l4.8 -17.7l3.4 -8.4l4.1 -8l4.8 -7.6l5.8 -7.1l6.5 -6.2l5.7 -3.9l6 -2.5l4.7 -0.7" fill="none" stroke="#3a3ab8" stroke-width="1.8" stroke-opacity="0.5" stroke-linejoin="round"/>
<path d="M115.1 43l4.7 0.5l6.2 2.1l5.9 3.6l5.3 4.7l4.7 5.5l4.1 6.1l9.4 18.5l11 27.4l7.8 25.8l5.2 26.6l2.7 27.6l-0.1 18.9l-2 16.8l-4 14.4l-6.3 13.7l-4.3 6.5l-4.9 6.1l-5.8 5.7l-4.7 3.8l-6.7 4.2l-5.4 2.4l-5.5 1.6l-5.7 0.7l-5.8 -0.3l-7.7 -1.8l-5.6 -2.2l-7.3 -4l-6.9 -4.7l-6.3 -5.3l-5.7 -5.7l-6.4 -7.7l-9.3 -14.7l-4 -8.3l-3.3 -8.3l-2.6 -8.5l-2.3 -10.3l-2.1 -19.2l0.2 -25.3l2.6 -26.2l4.8 -22.5l3.5 -11l3.6 -8.9l5.1 -10.3l5 -8.2l5.8 -7.7l6.6 -7.3l7.3 -6.5l6.3 -4.2l6.4 -2.9l6.5 -1.2" fill="none" stroke="#3a3ab8" stroke-width="1.8" stroke-opacity="0.5" stroke-linejoin="round"/>
<path d="M115.1 44.5l4.7 0.4l6.2 2.2l5.9 3.6l5.4 4.7l4.8 5.5l4.2 6.1l9.6 18.6l11.4 27.4l8.1 25.9l5.6 26.7l3 27.7l0.2 18.9l-2 16.9l-3.9 14.4l-2.8 7l-3.5 6.8l-4.3 6.4l-5.1 6.2l-5.8 5.7l-4.8 3.8l-6.9 4.3l-5.5 2.4l-5.6 1.6l-5.9 0.7l-5.9 -0.3l-7.9 -1.9l-5.8 -2.2l-7.5 -3.9l-7 -4.8l-6.5 -5.3l-5.9 -5.8l-6.5 -7.7l-9.6 -14.7l-4.1 -8.3l-3.4 -8.4l-2.6 -8.5l-2.3 -10.2l-2.2 -19.3l-0.3 -12.6l0.5 -12.8l2.8 -26.3l4.8 -22.6l3.6 -11l3.6 -8.9l5.2 -10.3l5.1 -8.2l5.8 -7.8l6.6 -7.3l7.3 -6.5l6.3 -4.2l6.4 -2.9l6.5 -1.2" fill="none" stroke="#3a3ab8" stroke-width="1.8" stroke-opacity="0.5" stroke-linejoin="round"/>
<path d="M115.1 43.4l4.7 0.4l6.2 2.1l5.9 3.6l5.4 4.7l4.7 5.4l4.2 6.1l9.6 18.2l11.3 27.1l7.9 25.6l5.5 26.3l2.9 27.4l0.1 18.7l-2 16.6l-3.9 14.3l-2.8 6.9l-3.5 6.6l-4.2 6.4l-5 6.1l-5.8 5.7l-4.7 3.7l-6.8 4.2l-5.4 2.4l-5.6 1.5l-5.8 0.7l-5.8 -0.3l-7.8 -1.8l-5.8 -2.2l-7.3 -3.9l-7 -4.6l-6.3 -5.3l-5.9 -5.7l-6.4 -7.6l-9.5 -14.5l-4.1 -8.2l-3.3 -8.3l-2.7 -8.4l-2.3 -10.1l-2.2 -19l0.1 -25.1l2.7 -26l4.7 -22.2l3.5 -10.9l3.6 -8.8l5.1 -10.2l5 -8.1l5.8 -7.7l6.6 -7.1l7.3 -6.5l6.2 -4.2l6.4 -2.8l6.5 -1.2" fill="none" stroke="#3a3ab8" stroke-width="1.8" stroke-opacity="0.5" stroke-linejoin="round"/>
<path d="M115.1 42.5l4.7 0.4l6.2 2.2l5.9 3.6l5.4 4.7l4.8 5.5l4.2 6.2l8.8 16.8l11.3 27.4l8.1 26l5.6 26.5l3 27.7l0.1 20.8l-1.9 16.9l-3.9 14.5l-6.3 13.7l-4.1 6.5l-5 6.1l-5.6 5.8l-4.7 3.8l-6.7 4.2l-5.4 2.4l-5.5 1.6l-5.7 0.7l-5.7 -0.3l-7.7 -1.8l-5.7 -2.3l-7.3 -3.9l-6.8 -4.7l-6.3 -5.4l-5.8 -5.7l-6.4 -7.8l-9.4 -14.6l-4.1 -8.4l-3.3 -8.4l-2.6 -8.5l-2.4 -10.3l-2.3 -19.2l0.1 -25.4l2.4 -26.3l4.6 -22.6l3.4 -11l3.5 -9l5 -10.3l5 -8.2l5.7 -7.8l6.5 -7.2l7.2 -6.6l6.2 -4.2l6.4 -2.9l6.5 -1.2" fill="none" stroke="#3a3ab8" stroke-width="1.8" stroke-opacity="0.5" stroke-linejoin="round"/>
<path d="M115.1 45l4.8 0.4l6.3 2l4.5 2.4l5.6 4.2l5 5l4.4 5.6l8.2 13.9l11 24l8.5 24.1l5.9 24.6l3.4 25.5l0.7 19.4l-1.2 15.8l-3.4 15.4l-5.2 13l-3.6 6.1l-4.3 5.9l-4.9 5.6l-5.6 5l-6.2 4.2l-4.9 2.5l-5.1 1.7l-5.2 1l-5.4 0l-7.2 -1.3l-5.4 -1.9l-6.9 -3.5l-6.6 -4.2l-7.6 -6.1l-5.5 -5.4l-6.2 -7.2l-5.4 -7.5l-4.6 -7.7l-7.2 -15.7l-4.9 -17.5l-2.5 -18l-0.6 -11.7l0 -13.8l1.9 -24.6l3.7 -19.2l3.1 -10.2l3.2 -8.3l4.7 -9.5l4.7 -7.6l5.5 -7.2l6.3 -6.6l7.1 -5.9l6 -3.7l6.3 -2.3l4.8 -0.7" fill="none" stroke="#3a3ab8" stroke-width="1.8" stroke-opacity="0.5" stroke-linejoin="round"/>
<path d="M115.1 45.1l4.7 0.4l6.2 2.1l5.9 3.4l5.4 4.4l4.7 5.2l4.1 5.7l8.7 15.8l11.1 25.9l7.9 24.3l5.4 25l2.9 26l0 19.6l-2 15.9l-3.9 13.6l-6.3 12.9l-4.2 6.1l-4.9 5.8l-10.3 8.9l-6.7 4l-5.3 2.3l-5.4 1.5l-5.7 0.6l-5.7 -0.2l-7.6 -1.8l-5.6 -2.1l-7.2 -3.7l-6.8 -4.4l-7.7 -6.3l-5.6 -5.6l-6.2 -7.3l-9 -13.9l-7 -15.7l-2.5 -8l-2.1 -9.7l-2.1 -18.2l0.3 -23.9l2.7 -24.8l2 -10.7l2.8 -10.5l3.6 -10.3l3.6 -8.4l5.2 -9.6l5.1 -7.6l5.9 -7.3l6.6 -6.7l7.4 -6l6.3 -3.7l6.4 -2.3l4.9 -0.7" fill="none" stroke="#3a3ab8" stroke-width="1.8" stroke-opacity="0.5" stroke-linejoin="round"/>
<path d="M115.1 45.1l4.9 0.4l4.8 1.4l4.7 2.2l5.9 4.1l4 3.6l4.8 5.4l4.1 6l4.7 8l10.6 23.1l8.3 23l5.9 23.4l4 26l1.4 21.5l-0.5 18.1l-2.3 16l-4.6 15.3l-3.7 8.1l-3.6 6.1l-4.2 5.8l-4.9 5.4l-5.3 4.5l-4.2 2.8l-5.9 2.5l-4.7 1l-4.7 0l-6.5 -1.3l-6.4 -2.8l-6.2 -3.8l-5.9 -4.5l-6.8 -6.4l-10.6 -13.1l-9.4 -15.8l-7.5 -17.7l-4.9 -18.1l-3.1 -20.4l-1.5 -26.4l0.7 -23.5l2.8 -19.7l4.7 -17.2l3.3 -8.1l4.1 -7.8l4.9 -7.4l5.7 -6.8l6.6 -6.1l5.7 -3.8l6.1 -2.4l4.7 -0.6" fill="none" stroke="#3a3ab8" stroke-width="1.8" stroke-opacity="0.5" stroke-linejoin="round"/>
<path d="M115.1 44.6l4.8 0.4l6.3 2l4.6 2.5l5.6 4.2l5.1 5l4.4 5.6l9.3 15.7l11.2 24.1l8.7 24.3l6.1 24.9l3.7 25.8l0.7 19.5l-1.2 15.9l-3.1 13.8l-5.3 13.1l-3.6 6.2l-4.3 5.9l-5.1 5.6l-5.8 5.1l-6.3 4.2l-5 2.5l-5.3 1.8l-5.4 0.9l-5.6 0l-7.4 -1.3l-5.6 -1.9l-7.2 -3.5l-6.8 -4.3l-6.4 -4.8l-5.8 -5.4l-6.5 -7.1l-5.7 -7.6l-5 -7.7l-7.6 -15.7l-2.7 -8l-2.6 -9.6l-2.7 -18.1l-0.6 -23.9l1.6 -24.7l3.9 -21.2l3 -10.3l3.2 -8.4l4.6 -9.7l4.6 -7.7l5.4 -7.3l6.2 -6.8l7 -6.2l6 -3.9l6.2 -2.8l6.4 -1.1" fill="none" stroke="#3a3ab8" stroke-width="1.8" stroke-opacity="0.5" stroke-linejoin="round"/>
<path d="M115.1 41.2l4.9 0.4l6.4 2l4.7 2.5l5.9 4.2l5.3 5l4.6 5.7l9 14.1l12.1 24.3l9.4 24.3l6.9 24.9l4.4 25.9l1.4 19.6l-0.7 16l-2.8 15.5l-4.9 13.2l-3.4 6.2l-4.1 6l-4.9 5.6l-5.4 5.1l-6.1 4.3l-4.9 2.4l-5.1 1.8l-5.2 1l-5.4 0l-7.4 -1.3l-5.4 -2l-7.2 -3.4l-6.8 -4.3l-6.3 -4.9l-5.8 -5.4l-6.6 -7.2l-5.9 -7.5l-5 -7.8l-8 -15.8l-5.8 -17.7l-3.3 -18.2l-1.5 -23.9l0.9 -26.6l3.1 -21.3l2.7 -10.3l2.9 -8.4l4.4 -9.6l4.4 -7.7l5.1 -7.2l6 -6.8l6.8 -6l5.8 -3.7l6.1 -2.3l4.7 -0.7" fill="none" stroke="#3a3ab8" stroke-width="1.8" stroke-opacity="0.5" stroke-linejoin="round"/>
<path d="M115.1 45.2l4.8 0.4l4.9 1.4l4.6 2.2l5.9 4l4 3.6l4.7 5.4l4.2 6l4.5 7.9l10.5 23l8 22.9l5.8 23.3l2 11.9l1.7 13.9l1.3 21.4l-0.6 18l-2.4 16l-2.3 8.5l-2.3 6.7l-3.7 8l-3.6 6.1l-4.2 5.8l-4.8 5.3l-5.2 4.5l-4.2 2.7l-5.9 2.6l-4.5 0.9l-4.7 0.1l-6.3 -1.4l-6.3 -2.7l-6.1 -3.8l-5.8 -4.5l-6.7 -6.4l-4.9 -5.6l-5.6 -7.4l-4.9 -7.8l-4.3 -7.9l-3.7 -8l-3.7 -9.6l-4.9 -18l-3 -20.3l-1.4 -26.2l0.6 -23.5l2.7 -19.5l2.1 -8.7l2.6 -8.4l3.3 -8.1l4.1 -7.7l4.9 -7.4l5.7 -6.8l6.6 -6l5.7 -3.8l6.1 -2.4l4.7 -0.6" fill="none" stroke="#ff1010" stroke-width="1.0" stroke-opacity="1.0" stroke-linejoin="round"/>
<path d="M175.9 140.3l2.3 11.8l2 13.7l1.3 14.1l0.5 12.6l-0.1 10.8l-0.9 10.8l-1.6 10.6l-2.2 8.6l-3.5 10l-3.9 7.9l-4.7 7.5l-5.7 6.9l-6.5 5.8l-5.6 3.5l-6 2.2l-6.1 0.7l-6.3 -1l-6.3 -2.4l-7.7 -4.6l-7.2 -5.7l-6.5 -6.6l-7.1 -8.6l-6.1 -9.2l-5.3 -9.5l-4.3 -9.6l-3.6 -9.6l-2.8 -9.8l-2.2 -10l-1.8 -11.7l-1.2 -12l-0.9 -26.6" fill="none" stroke="#ff1010" stroke-width="2.2" stroke-opacity="1.0" stroke-linejoin="round"/>
<line x1="49.6" y1="306.3" x2="49.6" y2="36.9" stroke="#333" stroke-width="0.8" />
<line x1="184.6" y1="321.5" x2="49.6" y2="306.3" stroke="#333" stroke-width="0.8" />
<line x1="184.6" y1="321.5" x2="200.9" y2="298.7" stroke="#333" stroke-width="0.8" />
<line x1="49.6" y1="48.4" x2="42.6" y2="47.6" stroke="#333" stroke-width="0.8" />
<line x1="49.6" y1="83.2" x2="42.6" y2="82.4" stroke="#333" stroke-width="0.8" />
<line x1="49.6" y1="118.0" x2="42.6" y2="117.2" stroke="#333" stroke-width="0.8" />
<line x1="49.6" y1="152.8" x2="42.6" y2="152.0" stroke="#333" stroke-width="0.8" />
<line x1="49.6" y1="187.6" x2="42.6" y2="186.8" stroke="#333" stroke-width="0.8" />
<line x1="49.6" y1="222.4" x2="42.6" y2="221.6" stroke="#333" stroke-width="0.8" />
<line x1="49.6" y1="257.2" x2="42.6" y2="256.4" stroke="#333" stroke-width="0.8" />
<line x1="49.6" y1="292.0" x2="42.6" y2="291.2" stroke="#333" stroke-width="0.8" />
<line x1="152.7" y1="317.9" x2="156.1" y2="313.0" stroke="#333" stroke-width="0.8" />
<line x1="115.2" y1="313.7" x2="118.6" y2="308.8" stroke="#333" stroke-width="0.8" />
<line x1="77.7" y1="309.5" x2="81.1" y2="304.6" stroke="#333" stroke-width="0.8" />
<line x1="184.6" y1="321.5" x2="191.6" y2="322.3" stroke="#333" stroke-width="0.8" />
<line x1="195.3" y1="306.6" x2="202.3" y2="307.4" stroke="#333" stroke-width="0.8" />
<circle cx="118.6" cy="54.4" r="6.3" fill="url(#gm)"/>
<line x1="155.4" y1="42.0" x2="137.7" y2="50.0" stroke="#000" stroke-width="0.8" />
<path d="M130.2 53.4 L138.7 44.3 L137.7 50.0 L142.7 53.0 Z" fill="#000"/>
<line x1="195.2" y1="151.9" x2="185.6" y2="126.0" stroke="#000" stroke-width="0.8" />
<path d="M182.7 118.2 L191.2 127.3 L185.6 126.0 L182.2 130.7 Z" fill="#000"/>
<text x="29.1" y="52.2" font-size="17.5" textLength="9.2" lengthAdjust="spacingAndGlyphs">0</text>
<text x="23.0" y="86.8" font-size="17.5" textLength="15.0" lengthAdjust="spacingAndGlyphs">-1</text>
<text x="23.0" y="121.7" font-size="17.5" textLength="15.0" lengthAdjust="spacingAndGlyphs">-2</text>
<text x="23.0" y="156.5" font-size="17.5" textLength="15.0" lengthAdjust="spacingAndGlyphs">-3</text>
<text x="23.0" y="191.3" font-size="17.5" textLength="15.0" lengthAdjust="spacingAndGlyphs">-4</text>
<text x="23.0" y="226.1" font-size="17.5" textLength="15.0" lengthAdjust="spacingAndGlyphs">-5</text>
<text x="23.0" y="261.0" font-size="17.5" textLength="15.0" lengthAdjust="spacingAndGlyphs">-6</text>
<text x="23.0" y="295.8" font-size="17.5" textLength="15.0" lengthAdjust="spacingAndGlyphs">-7</text>
<text x="11.4" y="15.0" font-size="17.5" textLength="34.6" lengthAdjust="spacingAndGlyphs">&#215;10<tspan dy="-8.8" font-size="11.9">4</tspan></text>
<text transform="translate(13.9,196.7) rotate(-90)" font-size="19" textLength="47.7" lengthAdjust="spacingAndGlyphs">z [km]</text>
<text x="69.7" y="334.1" font-size="17.5" textLength="7.9" lengthAdjust="spacingAndGlyphs">1</text>
<text x="105.2" y="338.5" font-size="17.5" textLength="9.6" lengthAdjust="spacingAndGlyphs">0</text>
<text x="138.8" y="342.1" font-size="17.5" textLength="14.0" lengthAdjust="spacingAndGlyphs">-1</text>
<text x="6.2" y="352.9" font-size="17.5" textLength="34.9" lengthAdjust="spacingAndGlyphs">&#215;10<tspan dy="-8.8" font-size="11.9">4</tspan></text>
<text x="56.9" y="360.9" font-size="19" textLength="51.1" lengthAdjust="spacingAndGlyphs">y [km]</text>
<text x="206.7" y="322.3" font-size="17.5" textLength="22.8" lengthAdjust="spacingAndGlyphs">3.9</text>
<text x="196.2" y="336.6" font-size="17.5" textLength="22.3" lengthAdjust="spacingAndGlyphs">3.8</text>
<text x="247.2" y="346.6" font-size="17.5" textLength="34.5" lengthAdjust="spacingAndGlyphs">&#215;10<tspan dy="-8.8" font-size="11.9">5</tspan></text>
<text x="206.6" y="363.4" font-size="19" textLength="52.1" lengthAdjust="spacingAndGlyphs">x [km]</text>
<text x="160.4" y="48.2" font-size="17" textLength="40.9" lengthAdjust="spacingAndGlyphs">Moon</text>
<text x="21.8" y="391.8" font-size="20" textLength="243.8" lengthAdjust="spacingAndGlyphs"><tspan font-weight="bold">(a)</tspan> Earth–Moon Rotating</text>
<text x="21.8" y="415.8" font-size="20" textLength="61.9" lengthAdjust="spacingAndGlyphs">Frame</text>
<line x1="415.8" y1="292.5" x2="492.2" y2="251.3" stroke="#e3e3e3" stroke-width="0.7" />
<line x1="474.3" y1="305.4" x2="550.7" y2="264.2" stroke="#e3e3e3" stroke-width="0.7" />
<line x1="532.8" y1="318.3" x2="609.2" y2="277.1" stroke="#e3e3e3" stroke-width="0.7" />
<line x1="401.2" y1="289.3" x2="532.8" y2="318.3" stroke="#e3e3e3" stroke-width="0.7" />
<line x1="439.4" y1="268.7" x2="571.0" y2="297.7" stroke="#e3e3e3" stroke-width="0.7" />
<line x1="477.6" y1="248.1" x2="609.2" y2="277.1" stroke="#e3e3e3" stroke-width="0.7" />
<line x1="401.2" y1="289.3" x2="401.2" y2="43.6" stroke="#e3e3e3" stroke-width="0.7" />
<line x1="439.4" y1="268.7" x2="439.4" y2="23.0" stroke="#e3e3e3" stroke-width="0.7" />
<line x1="477.6" y1="248.1" x2="477.6" y2="2.4" stroke="#e3e3e3" stroke-width="0.7" />
<line x1="401.2" y1="55.2" x2="477.6" y2="14.0" stroke="#e3e3e3" stroke-width="0.7" />
<line x1="401.2" y1="119.6" x2="477.6" y2="78.4" stroke="#e3e3e3" stroke-width="0.7" />
<line x1="401.2" y1="184.0" x2="477.6" y2="142.8" stroke="#e3e3e3" stroke-width="0.7" />
<line x1="401.2" y1="248.4" x2="477.6" y2="207.2" stroke="#e3e3e3" stroke-width="0.7" />
<line x1="492.2" y1="251.3" x2="492.2" y2="5.6" stroke="#e3e3e3" stroke-width="0.7" />
<line x1="550.7" y1="264.2" x2="550.7" y2="18.5" stroke="#e3e3e3" stroke-width="0.7" />
<line x1="609.2" y1="277.1" x2="609.2" y2="31.4" stroke="#e3e3e3" stroke-width="0.7" />
<line x1="477.6" y1="14.0" x2="609.2" y2="43.0" stroke="#e3e3e3" stroke-width="0.7" />
<line x1="477.6" y1="78.4" x2="609.2" y2="107.4" stroke="#e3e3e3" stroke-width="0.7" />
<line x1="477.6" y1="142.8" x2="609.2" y2="171.8" stroke="#e3e3e3" stroke-width="0.7" />
<line x1="477.6" y1="207.2" x2="609.2" y2="236.2" stroke="#e3e3e3" stroke-width="0.7" />
<line x1="477.6" y1="248.1" x2="477.6" y2="2.4" stroke="#e3e3e3" stroke-width="0.7" />
<path d="M489.5 39l2.2 -0.7l3 -0.3l5.4 1.6l5.4 4.1l5.3 6.4l5.1 8.8l4.8 10.7l4.2 12.5l3.7 14.1l2.6 13l2.5 16l1.7 16.5l1 16.7l0.4 23.5l-0.8 26.2l-1.8 24.3l-3.5 31.6l2 -12.3l1.8 -19.5l0.9 -30.8l-1.2 -31.7l-3.3 -30.7l-5.2 -27.5l-3.3 -12.9l-4.2 -14l-4 -10.8l-5 -11.1l-4.4 -8.1l-5.2 -7.5l-5.2 -5.3l-4.9 -3" fill="none" stroke="#3a3ab8" stroke-width="2.0" stroke-opacity="0.68" stroke-linejoin="round"/>
<path d="M489.5 42.2l-2.9 -0.5l-2.7 0.3l-2.6 1l-2.9 2.3l-4.1 6l-3.6 10l-2.4 11.5l-1.6 15.4l-0.7 17.7l0.2 21.3l1 22.2l2.2 24.2l3 20.7l3.6 18.3l4.3 15l4.3 10.2l2.5 4.1l2.7 2.9l2.6 1.6l2.2 0.5l2.7 -0.6l2.6 -1.8l2.6 -3l2.6 -4.2l4.7 -11.8l4.6 -17.3l3.7 -21.1l2.6 -23.5l1.5 -24.5l0.2 -22l-1.1 -18.7l-1.8 -15.1l-3.2 -14.8l-3.8 -10.8l-4.7 -8.2l-2.7 -3l-2.9 -2.4l-3 -1.6l-3.3 -0.9l-3.4 -0.1l-3.5 0.7" fill="none" stroke="#3a3ab8" stroke-width="2.0" stroke-opacity="0.68" stroke-linejoin="round"/>
<path d="M489.1 35.4l-5.7 2.4l-6.6 5.4l-6.5 8.2l-5.6 9.2l-5.2 11.1l-5.5 14.5l-4.9 16.2l-4.2 17.4l-3.3 18.2l-2.9 20.7l-2 22.5l-0.9 21l0.2 20.2l1.4 18.5l2.3 11.9l1.4 2.4l1.3 0l1 -1.5l1.2 -3.5l2.4 -11.9l12.2 -93.1l4.5 -28.1l4.7 -24.3l5.8 -24.8l6 -20.1l2.7 -6.8l2.4 -4.4l2.2 -2l1.4 0.9" fill="none" stroke="#3a3ab8" stroke-width="2.0" stroke-opacity="0.68" stroke-linejoin="round"/>
<path d="M488.9 36.6l2 2.7l1.4 3l2.4 9.8l1.2 13.5l0.2 18.6l-1 24.1l-1.6 19.1l-3.7 35.2l-4.1 32.4l-3.5 23.3l-3.4 18.9l-3.3 14.7l-3.6 12.3l-3.9 9.5l-4.3 6.7l-3.9 3.3l-2.4 0.8l-2.4 0.1l-3.6 -1.5l-3.6 -3.2l-3.6 -4.9l-2.8 -5.3l-3.2 -7.9l-2.5 -7.7l-4.5 -20.1l-2.7 -21.6l-1 -23.8l0.7 -25l2.4 -22.9l4 -22.2l4.9 -18.7l6.6 -19.1l7.1 -14.6l8.1 -12.1l4.3 -4.9l4.5 -4.2l4.6 -3.3l4.8 -2.5l4.8 -1.7l4.9 -0.8" fill="none" stroke="#3a3ab8" stroke-width="2.0" stroke-opacity="0.68" stroke-linejoin="round"/>
<path d="M489.2 36.7l3.5 0.4l3.5 1.2l6 4.3l5.6 6.8l6 10.7l5.3 13.5l4.5 15.8l3.8 17.8l2.9 19.2l2.3 22.5l1.4 25.4l0.2 24.6l-0.8 25l-2.1 23.3l-3 17.9l-1.7 6.6l-1.9 4.9l-1.9 3.2l-1.9 1.2l-2.3 -0.8l-2.7 -3.9l-2.3 -6.1l-2.5 -9.7l-5 -27.2l-5.6 -40l-8.2 -69.3l-4.3 -46l-0.8 -15.7l-0.1 -12.4l0.8 -8.7l1.7 -4.6" fill="none" stroke="#3a3ab8" stroke-width="2.0" stroke-opacity="0.68" stroke-linejoin="round"/>
<path d="M489.6 36.9l1.4 -1.8l1.9 0.7l2.5 3.3l2.5 4.7l6 16l6 20.7l4.8 22.9l4.5 25.2l11.3 79.1l3.5 21l2.1 9.7l2.3 7.5l2.5 5.2l2.6 2.7l1.1 0.4l1.6 -0.2l2.3 -1.8l2.8 -4.5l2.2 -5.7l3.7 -16.2l2.4 -21.5l0.6 -20.9l-1.2 -22.6l-2.9 -23.2l-4.3 -20.4l-5 -17.3l-5.7 -14l-7.4 -14.4l-7.3 -10.8l-7.9 -9l-9.5 -7.8l-4.9 -2.9l-4.9 -2.2l-5 -1.4l-4.9 -0.7" fill="none" stroke="#3a3ab8" stroke-width="2.0" stroke-opacity="0.68" stroke-linejoin="round"/>
<path d="M489.4 36l-2.8 -0.1l-2.8 0.7l-2.6 1.4l-2.5 2.2l-4.6 6.6l-4.3 10.7l-3.2 12.3l-2.7 16.2l-1.6 16.4l-0.9 19.8l-0.1 23l1 25.2l2.1 23.9l2.7 19.2l3.8 17.4l4 11.6l2.2 4l2.2 2.9l2.3 1.5l2.3 0.3l1.9 -0.7l2.3 -2l2.2 -3.3l2.2 -4.5l3.7 -10.9l3.7 -16.1l3.1 -19.3l2.7 -23.9l1.9 -25.4l0.9 -23.2l0.1 -22.2l-0.7 -18.2l-1.5 -15.8l-2 -11.7l-3.1 -10l-3.5 -5.7l-2 -1.8l-2.2 -0.9l-2.3 -0.2l-2.4 0.6" fill="none" stroke="#3a3ab8" stroke-width="2.0" stroke-opacity="0.68" stroke-linejoin="round"/>
<path d="M488.9 39.3l-3 2.9l-3.8 6.3l-4.1 9.1l-3.6 10.1l-7.3 25.5l-6.5 30.5l-5 30.8l-3.9 33.1l-2.4 30.5l-2.4 47.7l-0.7 4.4l-0.8 -12.2l-0.4 -22.9l0.4 -23.1l1 -22.2l3.6 -40.8l5.4 -35.7l3.6 -17.6l3.7 -14.1l4.5 -14.1l4.1 -10.3l4.3 -8.2l4.8 -6.4l2.4 -2l2.3 -1.2l1.7 -0.3l2.2 0.3" fill="none" stroke="#3a3ab8" stroke-width="2.0" stroke-opacity="0.68" stroke-linejoin="round"/>
<path d="M489 38l4.4 1.7l3.5 2.3l3.3 3.1l3.2 3.9l3 4.6l3.5 6.9l5.5 14.9l4.4 17.8l3.3 20l2.3 24l0.8 22.3l-0.5 24.7l-1.6 21.2l-3.1 21.7l-3.9 17.1l-4.9 14.3l-3.1 6.5l-3.3 5.5l-3.5 4.4l-3.6 3.3l-3.7 2.1l-3.8 0.8l-3.7 -0.3l-3.6 -1.5l-3.6 -2.7l-2.7 -3.1l-3.3 -4.8l-2.4 -4.6l-4.9 -12.8l-4 -15.9l-3.4 -20.7l-2 -20.6l-0.9 -24.3l0.5 -24.9l1.6 -24.4l3 -22.8l3.7 -18.4l4.7 -15.7l5.7 -12.4l3.5 -5.3l2.9 -3.3l3.9 -3.1l3.2 -1.5" fill="none" stroke="#3a3ab8" stroke-width="2.0" stroke-opacity="0.68" stroke-linejoin="round"/>
<path d="M489.4 33.6l3.3 -0.2l3.5 0.7l6 3.3l6 5.8l6.5 9.6l5.4 10.8l5.5 14.7l4.9 16.7l4.1 18.3l3.6 21.9l2.6 22.4l1.5 22.1l0.6 23.4l-0.5 23.1l-1.7 22.1l-2.5 15.1l-1.4 4.8l-1.6 2.4l-0.6 0.3l-0.9 -0.3l-1.4 -2.6l-1.5 -5l-1.6 -8.5l-12 -92.1l-4.6 -29.3l-5 -28.2l-4.8 -23.4l-5 -21.3l-4.9 -17.9l-3.3 -8.9" fill="none" stroke="#3a3ab8" stroke-width="2.0" stroke-opacity="0.68" stroke-linejoin="round"/>
<path d="M489.6 33.6l-0.6 -0.7l-0.5 0.1l-0.3 2.6l1.5 15.8l21.3 154.2l3.3 19.2l3.3 14.5l3.1 8.4l1.5 2.4l1.5 1.1l1.8 -0.4l1.7 -2.2l1.9 -4.9l1.6 -6l2.5 -16.6l1.6 -21.9l0.5 -23.3l-0.6 -22.8l-1.8 -23.2l-2.6 -20.4l-3.2 -17l-4 -15.6l-4.7 -13.7l-4.8 -10.1l-5.9 -9.2l-5.7 -5.8l-5.9 -3.5l-3.4 -0.9l-3.5 -0.2" fill="none" stroke="#3a3ab8" stroke-width="2.0" stroke-opacity="0.68" stroke-linejoin="round"/>
<path d="M489.2 36.8l-5.1 0.9l-5.1 1.7l-6.3 3.1l-4.9 3.3l-6 5.2l-4.5 4.9l-8.6 11.8l-7.4 14l-7.2 18.1l-4.9 17.6l-3.7 21l-1.8 21.4l0.3 21.1l2.1 20l4.2 19.9l2.7 8.7l3.1 7.8l3.9 7.9l4.2 6.2l3.5 3.9l4.3 2.9l3.5 1l4.2 -0.6l2.6 -1.5l3.1 -3l2.9 -4.3l2.6 -5.4l4.4 -14.4l3.2 -18.1l3 -32.5l4.2 -75.7l4.3 -59.1l0.2 -9.4l-0.5 -0.4l-0.8 2.1" fill="none" stroke="#3a3ab8" stroke-width="2.0" stroke-opacity="0.68" stroke-linejoin="round"/>
<path d="M488.9 36.6l-5.1 16.5l-6.2 24.7l-8 36.9l-4.7 24.4l-6.3 40.2l-8 69.4l-2.9 18.7l-1.8 7l-2.1 4.5l-2.4 2.2l-2.7 -0.3l-2.9 -2.8l-2.6 -4.3l-3.1 -7.1l-2.7 -7.8l-4.7 -20l-3 -22.6l-1.3 -23.1l0.4 -22.2l2.1 -22.7l3.4 -20l4.8 -19.2l6.1 -17.9l8.1 -18l8.1 -13.4l4.4 -5.7l4.5 -5l4.7 -4.1l4.7 -3.4l4.9 -2.5l4.8 -1.6l4.9 -0.8l4.8 0.1" fill="none" stroke="#3a3ab8" stroke-width="2.0" stroke-opacity="0.68" stroke-linejoin="round"/>
<path d="M489 38l4.5 1.2l4.4 2l4.2 2.9l4 3.7l3.7 4.5l3.6 5.3l6.3 12.8l5.3 15.4l4.6 19.7l2.6 19.3l1.6 22.8l0.4 25.8l-1.4 27.9l-2.7 23.6l-4.3 23l-5.1 17.3l-2.9 7.2l-3.6 7.2l-3.3 4.7l-3.3 3.5l-3.4 2.3l-4.2 1.1l-3.4 -0.4l-3.4 -1.7l-3.3 -2.9l-2.6 -3.2l-5.4 -10l-5.4 -15.3l-4.1 -16.9l-3.7 -21.8l-2.7 -24.2l-1.7 -25.5l-0.4 -23.2l0.5 -22.7l1.9 -25.9l2.6 -18.8l3.9 -15.9l4.4 -11.3l3.3 -5.5l2.8 -3.5l3 -2.7l3.2 -1.8" fill="none" stroke="#3a3ab8" stroke-width="2.0" stroke-opacity="0.68" stroke-linejoin="round"/>
<path d="M489.6 36.7l1.9 -1.1l2.1 -0.2l4.1 1.7l4.3 4.1l4.6 6.6l5.2 10.2l4.6 11.1l4.3 12.9l4.1 14.4l5.4 24.6l5 30.9l4 34.9l4.9 57.7l1.3 9.1l1.5 4.1l0.6 0.2l0.6 -0.5l1.3 -3.6l2.1 -14.9l0.9 -20.4l-0.3 -21.6l-1.3 -19.7l-2.4 -20.6l-3.6 -21l-3.7 -15.9l-5.2 -17.5l-5.2 -14.2l-5.8 -13l-7.1 -12.9l-6.6 -9.4l-7.6 -8.3l-6.7 -4.9l-3.8 -1.9l-3.7 -1.1" fill="none" stroke="#3a3ab8" stroke-width="2.0" stroke-opacity="0.68" stroke-linejoin="round"/>
<path d="M489.5 38.4l-2.8 -0.7l-2.1 0.2l-1.9 1l-2.1 2.3l-3.1 7l-2.1 10.4l-1.2 13.6l-0.4 18.1l0.5 18.3l1.5 26.3l2.1 22.4l2.7 21.7l3.4 19.9l3.7 15.5l4.1 12.7l4 8.5l2.6 3.8l2.2 2.2l2.2 1.4l2.2 0.6l2.8 -0.4l2.8 -1.6l2.8 -2.8l3.1 -5l4.9 -11.9l4.5 -17.5l3.5 -21.1l1.9 -21.3l0.8 -24.5l-0.8 -22l-2.1 -18.8l-2.9 -15.3l-4.4 -15l-5 -11l-5.9 -8.5l-3.3 -3.2l-3.4 -2.5l-3.6 -1.8l-3.8 -1.1l-3.9 -0.3l-3.9 0.4" fill="none" stroke="#3a3ab8" stroke-width="2.0" stroke-opacity="0.68" stroke-linejoin="round"/>
<path d="M489.1 37.5l-5 2.1l-5.8 5.1l-5.8 7.9l-5 9l-4.7 10.8l-4.9 14.2l-3.9 13.9l-3.9 17l-3.3 17.8l-2.8 20.4l-2.2 22.4l-1.3 21l-0.5 22.2l0.6 18.6l1.5 12.1l1 2.7l1 0.2l1.9 -4.5l2.3 -11.3l12.4 -88.9l4.6 -28l5 -26.4l5.6 -24.8l5.6 -20.2l4.5 -11.5l1.8 -2.3l1.1 0.6" fill="none" stroke="#3a3ab8" stroke-width="2.0" stroke-opacity="0.68" stroke-linejoin="round"/>
<path d="M488.9 36.1l1.6 2.9l1.1 3.2l1.7 11.5l0.4 16l-0.7 19.7l-1.4 17.9l-4 37l-5.1 40.9l-4.5 31.3l-6.1 33l-3.5 13.3l-3.2 9.4l-3.5 7.2l-3.8 4.8l-4.1 2.5l-1.8 0.3l-2.4 -0.2l-3.7 -1.9l-3.7 -3.7l-3.7 -5.4l-2.9 -5.8l-3.3 -8.3l-2.5 -8.1l-4.5 -20.9l-2.5 -22.2l-0.8 -24.3l1 -22.9l2.7 -23.1l4.5 -22.5l5.4 -18.8l7.4 -19.1l7.7 -14.7l8.7 -12l4.7 -4.9l4.8 -4.1l4.9 -3.3l5.1 -2.4l5.1 -1.6l5.2 -0.6" fill="none" stroke="#3a3ab8" stroke-width="2.0" stroke-opacity="0.68" stroke-linejoin="round"/>
<path d="M489.2 37.5l5.1 0.2l5.1 1l3.8 1.4l4.9 2.5l4.9 3.4l4.7 4.2l4.4 4.9l4.3 5.7l7.9 13.4l6.7 15.7l4.9 15.3l4.6 21.2l3.1 22.3l1.6 25l-0.3 24.2l-1.9 22.4l-3.7 21.7l-2.5 10l-2.8 8.7l-3.1 7.2l-3.2 5.5l-3.3 3.9l-3.2 2.1l-3.2 0.3l-3.1 -1.4l-2.9 -3.2l-3.3 -6l-2.6 -6.8l-2.4 -8.5l-5.1 -24.9l-7.8 -54.9l-10.8 -93.3l-2 -29l0.4 -9.3l1.2 -5" fill="none" stroke="#3a3ab8" stroke-width="2.0" stroke-opacity="0.68" stroke-linejoin="round"/>
<path d="M489.6 36.1l1.2 -1.1l1.8 -0.7l3.5 0.7l3.8 3.3l4 5.7l4.1 8l3.5 8.6l3.9 11.7l3.1 11.4l5.2 25.7l4.4 30.4l2.6 26.1l4.2 54.6l1.7 16.9l2.5 12.6l1.6 3.7l1.4 1.7l0.9 0.4l1.3 -0.2l2.3 -2.3l2.4 -4.8l2 -6l3.6 -16.6l2.2 -22l0.4 -21.2l-1.1 -20.4l-2.5 -21l-4.2 -20.7l-4.9 -17.6l-5.5 -14.4l-6.3 -13.1l-8 -13.1l-7.7 -9.5l-9.1 -8.5l-4.6 -3.2l-4.7 -2.5l-4.6 -1.8l-4.6 -1" fill="none" stroke="#3a3ab8" stroke-width="2.0" stroke-opacity="0.68" stroke-linejoin="round"/>
<path d="M489.4 38.6l-3.8 -0.2l-3.6 0.5l-3.4 1.3l-3.3 1.9l-3 2.7l-2.9 3.4l-5 8.8l-4.2 11.3l-3.1 13.5l-2.6 19.3l-1.3 17l-0.3 22.2l1.2 24.6l2.1 21.4l3.6 21.1l4.5 17.4l4.8 11.6l2.5 4.2l2.7 3l2.7 1.7l2.7 0.5l2.7 -0.8l2.7 -2.1l2.7 -3.2l2.6 -4.5l5 -12.3l4.5 -16.2l4.3 -21.3l3.6 -23.9l2.9 -27.2l1.6 -24.6l0.5 -18.7l-0.7 -15l-1.8 -14.4l-2.5 -10.3l-3.6 -7.6l-2.1 -2.7l-2.4 -1.9l-2.6 -1.2l-2.1 -0.3l-2.9 0.1l-3.2 1" fill="none" stroke="#3a3ab8" stroke-width="2.0" stroke-opacity="0.68" stroke-linejoin="round"/>
<path d="M489 35.9l-6 3.7l-7 7.1l-6.2 8.5l-6 10.4l-5.8 12.3l-5.4 13.7l-5.5 17.3l-4.2 16.1l-3.8 19l-2.8 19.3l-1.6 19l-0.6 20.3l0.5 20.4l1.9 20.2l3.3 18.3l1.3 3.8l0.5 0.7l0.5 -0.2l0.5 -3.1l0.1 -7.2l-2.3 -52.5l0.2 -34.4l0.9 -16.9l1.6 -16.9l2.3 -16.7l2.5 -13.8l3.6 -15.1l4.8 -15.7l4.5 -11.9l5.7 -11.3l5.1 -7.4l6 -5.6l2.9 -1.6l2.9 -0.7l2.8 0.1l2.7 1" fill="none" stroke="#3a3ab8" stroke-width="2.0" stroke-opacity="0.68" stroke-linejoin="round"/>
<path d="M489 34.2l4.7 2.2l3.6 2.6l3.6 3.5l4.1 5.4l3.2 5.2l3.6 7.4l3.3 8.5l2.9 9.4l4.9 21l2.8 21l1.9 27l0.2 24.8l-1.3 24l-2.4 20.1l-3.8 18l-5 15.4l-2.7 5.9l-3.7 6.5l-3.3 4.4l-4.3 4.6l-3.6 2.8l-4.6 2.5l-3.8 1.2l-4.9 0.4l-4.8 -0.7l-4.7 -2l-4.6 -3l-3.6 -3.3l-4.2 -5.1l-3.2 -4.8l-3.7 -7l-3.4 -7.9l-5.2 -16.4l-3.7 -18.8l-2.1 -20.7l-0.5 -24.3l1.4 -24.9l3 -21.9l5 -22.9l5.7 -18.5l6.9 -15.8l4.4 -7.4l3.7 -5.1l4.9 -5.3l4.1 -3.4l5.3 -3.1l4.3 -1.5" fill="none" stroke="#3a3ab8" stroke-width="2.0" stroke-opacity="0.68" stroke-linejoin="round"/>
<path d="M489.4 38.4l4.3 -0.5l4.3 0.3l7.5 2.6l4.2 2.6l4.2 3.3l8 9.1l7.2 11.8l6.4 14.2l5.3 16.3l4.1 17.7l2.8 18.8l1.7 21.6l0.2 21.4l-1.2 22.8l-2.5 20.7l-4.3 20.9l-2.7 9.8l-2.8 7.8l-2.6 5.5l-2.4 3.2l-2 0.8l-1.4 -1.3l-1.1 -3l-1 -5.7l-3.6 -62.7l-1.9 -25.5l-3.3 -31.2l-4 -25.7l-5.3 -25.7l-6.2 -23.2l-6.1 -17l-3 -6.1l-2.6 -3.7" fill="none" stroke="#3a3ab8" stroke-width="2.0" stroke-opacity="0.68" stroke-linejoin="round"/>
<path d="M489.6 37.2l-0.8 -1.1l-0.2 1l0.9 8.1l9.1 58l11.1 78.2l4.5 27.5l3.2 15.9l3.5 12l3.2 7l1.8 2.2l1.5 0.9l2.2 -0.2l2.1 -2l2.1 -3.7l2 -5.5l3.5 -15.4l2.3 -20.7l1 -22.3l-0.4 -22l-1.8 -22.4l-2.9 -19.8l-3.6 -16.6l-4.6 -15.3l-5.5 -13.5l-5.4 -10.1l-6.9 -9.2l-6.5 -5.8l-3.9 -2.4l-3.9 -1.7l-4 -1l-4 -0.2" fill="none" stroke="#3a3ab8" stroke-width="2.0" stroke-opacity="0.68" stroke-linejoin="round"/>
<path d="M489.2 39.7l-4.5 0.6l-4.5 1.3l-5.5 2.7l-4.2 3l-5.2 4.7l-4 4.6l-7.3 10.9l-6.4 13.3l-5.9 17.3l-4.5 19.1l-2.9 20.3l-1.2 20.9l0.7 22.7l2.6 21.3l4.3 18.7l5.5 15.3l3.1 6.2l3.3 4.9l3.4 3.8l3.4 2.5l3.5 1.3l4.1 -0.2l3.9 -2.1l3.7 -4l3.3 -5.6l3.1 -7.3l2.7 -8.9l2.3 -10.2l3.7 -25.8l2.1 -24.6l1.6 -30.3l1.5 -40.1l0.3 -27.8l-0.5 -16.5l-1.1 -9.7l-1 -2.9l-1.1 -1l-1.2 0.2l-1.4 1.5" fill="none" stroke="#3a3ab8" stroke-width="2.0" stroke-opacity="0.68" stroke-linejoin="round"/>
<path d="M488.9 34.2l-2.7 3.2l-3.5 6.5l-4 9.6l-3.7 10.5l-7.7 26.5l-6.9 29.4l-5.7 29.4l-4.8 29.7l-4.6 35l-5.9 54.2l-1 6.2l-0.7 1.2l-1 -9.1l-0.2 -21.3l0.7 -22.7l1.6 -24.7l2 -22l2.7 -22.8l3.1 -20.3l3.8 -19.7l4.3 -18.5l4.2 -14.9l5.1 -14.9l4.8 -11l5.5 -9.7l4.9 -5.9l2.7 -2.2l2.6 -1.4l2 -0.4l2.5 0.2" fill="none" stroke="#3a3ab8" stroke-width="2.0" stroke-opacity="0.68" stroke-linejoin="round"/>
<path d="M489.1 34.3l4.5 0.7l4.4 1.6l4.3 2.5l4.1 3.3l4.1 4.1l3.8 4.9l3.6 5.6l4.2 8l6 14.8l5.4 19.1l4 21.1l2.3 22.3l0.9 25.1l-0.9 24.7l-2.5 23l-3.9 20.6l-2.5 9.2l-2.9 8.2l-3.1 7.3l-4 7.3l-3.5 4.9l-3.5 3.7l-3.6 2.6l-4.3 1.4l-2.8 0l-2.7 -0.8l-2.7 -1.6l-2.5 -2.4l-4.7 -7l-4.6 -11.4l-3.9 -14.7l-2.8 -15.5l-2.6 -19.6l-1.8 -21.5l-1.2 -27.5l-0.3 -30.1l0.6 -26.3l1.5 -21.5l2.4 -18.4l3.1 -13.1l3.9 -9.4l2.5 -3.4l2.1 -1.9" fill="none" stroke="#3a3ab8" stroke-width="2.0" stroke-opacity="0.68" stroke-linejoin="round"/>
<g transform="rotate(12.43 485.5 44.6)"><rect x="485.5" y="39.3" width="89.2" height="10.6" fill="url(#gshb)"/><ellipse cx="574.7" cy="44.6" rx="2.8" ry="5.3" fill="#a2a2a2" stroke="#707070" stroke-width="0.6"/></g>
<path d="M489.5 39l2.9 -0.9l3.1 0l5.3 1.9" fill="none" stroke="#3a3ab8" stroke-width="2.0" stroke-opacity="0.68" stroke-linejoin="round"/>
<path d="M500.3 48.1l-5.1 -5.6l-5.7 -3.7" fill="none" stroke="#3a3ab8" stroke-width="2.0" stroke-opacity="0.68" stroke-linejoin="round"/>
<path d="M489.5 42.2l-3.6 -0.5l-3.3 0.7" fill="none" stroke="#3a3ab8" stroke-width="2.0" stroke-opacity="0.68" stroke-linejoin="round"/>
<path d="M497.6 42l-4.2 -0.5l-4.4 0.7" fill="none" stroke="#3a3ab8" stroke-width="2.0" stroke-opacity="0.68" stroke-linejoin="round"/>
<path d="M489.1 35.4l-3.3 1.1l-4 2.4l-4.2 3.5l-4.1 4.5" fill="none" stroke="#3a3ab8" stroke-width="2.0" stroke-opacity="0.68" stroke-linejoin="round"/>
<path d="M484 38.9l3 -4l0.9 -0.2l1 0.9" fill="none" stroke="#3a3ab8" stroke-width="2.0" stroke-opacity="0.68" stroke-linejoin="round"/>
<path d="M488.9 36.6l2 2.7l1.4 3l2.4 9.8" fill="none" stroke="#3a3ab8" stroke-width="2.0" stroke-opacity="0.68" stroke-linejoin="round"/>
<path d="M467.8 46.9l5.8 -4.6l4.7 -2.7l6 -2.2l4.9 -0.8" fill="none" stroke="#3a3ab8" stroke-width="2.0" stroke-opacity="0.68" stroke-linejoin="round"/>
<path d="M489.2 36.7l4.4 0.6l3.5 1.5l3.4 2.3l4.1 4.1" fill="none" stroke="#3a3ab8" stroke-width="2.0" stroke-opacity="0.68" stroke-linejoin="round"/>
<path d="M487.1 49.9l0.8 -8.7l1.7 -4.6" fill="none" stroke="#3a3ab8" stroke-width="2.0" stroke-opacity="0.68" stroke-linejoin="round"/>
<path d="M489.6 36.9l0.7 -1.4l0.9 -0.5l1.4 0.6l1.3 1.3" fill="none" stroke="#3a3ab8" stroke-width="2.0" stroke-opacity="0.68" stroke-linejoin="round"/>
<path d="M510.2 44.7l-4.9 -3.1l-4.9 -2.3l-4.9 -1.6l-6.2 -1" fill="none" stroke="#3a3ab8" stroke-width="2.0" stroke-opacity="0.68" stroke-linejoin="round"/>
<path d="M489.4 36l-2.8 -0.1l-3.4 1l-2.6 1.6l-3.1 3.1" fill="none" stroke="#3a3ab8" stroke-width="2.0" stroke-opacity="0.68" stroke-linejoin="round"/>
<path d="M498.7 39.4l-2.4 -2.5l-2.1 -1.2l-2.3 -0.3l-3 0.6" fill="none" stroke="#3a3ab8" stroke-width="2.0" stroke-opacity="0.68" stroke-linejoin="round"/>
<path d="M488.9 39.3l-3 2.9l-3.3 5.3" fill="none" stroke="#3a3ab8" stroke-width="2.0" stroke-opacity="0.68" stroke-linejoin="round"/>
<path d="M481 42l4.1 -2.6l1.7 -0.3l2.2 0.3" fill="none" stroke="#3a3ab8" stroke-width="2.0" stroke-opacity="0.68" stroke-linejoin="round"/>
<path d="M489 38l3.6 1.3l3.5 2l3.3 2.9l3.2 3.7" fill="none" stroke="#3a3ab8" stroke-width="2.0" stroke-opacity="0.68" stroke-linejoin="round"/>
<path d="M477.2 49l2.9 -4l3 -3.1l3.1 -2.4l3.2 -1.5" fill="none" stroke="#3a3ab8" stroke-width="2.0" stroke-opacity="0.68" stroke-linejoin="round"/>
<path d="M489.4 33.6l4.2 -0.1l4.3 1.3l4.3 2.6l5.1 4.8" fill="none" stroke="#3a3ab8" stroke-width="2.0" stroke-opacity="0.68" stroke-linejoin="round"/>
<path d="M495.2 50.2l-3.2 -10.6l-2.4 -6.2" fill="none" stroke="#3a3ab8" stroke-width="2.0" stroke-opacity="0.68" stroke-linejoin="round"/>
<path d="M489.6 33.6l-0.8 -0.8l-0.4 0.5l0 5.6" fill="none" stroke="#3a3ab8" stroke-width="2.0" stroke-opacity="0.68" stroke-linejoin="round"/>
<path d="M506.9 42.9l-4.1 -4.1l-4.1 -2.9l-4.3 -1.8l-5.2 -0.6" fill="none" stroke="#3a3ab8" stroke-width="2.0" stroke-opacity="0.68" stroke-linejoin="round"/>
<path d="M489.2 36.8l-5.1 0.9l-5.1 1.7l-6.3 3.1l-4.9 3.3" fill="none" stroke="#3a3ab8" stroke-width="2.0" stroke-opacity="0.68" stroke-linejoin="round"/>
<path d="M490.2 36.2l-0.4 -1.5l-0.9 2.2" fill="none" stroke="#3a3ab8" stroke-width="2.0" stroke-opacity="0.68" stroke-linejoin="round"/>
<path d="M488.9 36.6l-5.1 16.5" fill="none" stroke="#3a3ab8" stroke-width="2.0" stroke-opacity="0.68" stroke-linejoin="round"/>
<path d="M467.3 43.1l6.1 -3.6l4.8 -1.8l6.1 -1.1l4.8 0.1" fill="none" stroke="#3a3ab8" stroke-width="2.0" stroke-opacity="0.68" stroke-linejoin="round"/>
<path d="M489 38l4.5 1.2l4.4 2l4.2 2.9l4 3.7" fill="none" stroke="#3a3ab8" stroke-width="2.0" stroke-opacity="0.68" stroke-linejoin="round"/>
<path d="M477.8 50.3l2.7 -4.3l2.8 -3.5l3 -2.7l3.2 -1.8" fill="none" stroke="#3a3ab8" stroke-width="2.0" stroke-opacity="0.68" stroke-linejoin="round"/>
<path d="M489.6 36.7l1.9 -1.1l2.7 -0.1l2.9 1.2l2.4 1.8" fill="none" stroke="#3a3ab8" stroke-width="2.0" stroke-opacity="0.68" stroke-linejoin="round"/>
<path d="M506.4 47.2l-3.8 -3.6l-4.8 -3.6l-3.8 -2l-4.6 -1.5" fill="none" stroke="#3a3ab8" stroke-width="2.0" stroke-opacity="0.68" stroke-linejoin="round"/>
<path d="M489.5 38.4l-2.3 -0.7l-2.1 0.1l-2 0.8l-1.7 1.6" fill="none" stroke="#3a3ab8" stroke-width="2.0" stroke-opacity="0.68" stroke-linejoin="round"/>
<path d="M504.3 41.2l-3.6 -1.8l-3.8 -1.1l-3.9 -0.3l-3.9 0.4" fill="none" stroke="#3a3ab8" stroke-width="2.0" stroke-opacity="0.68" stroke-linejoin="round"/>
<path d="M489.1 37.5l-2.9 0.9l-2.8 1.7l-3.7 3.1l-2.9 3.3" fill="none" stroke="#3a3ab8" stroke-width="2.0" stroke-opacity="0.68" stroke-linejoin="round"/>
<path d="M485.5 40.4l2.1 -3.3l0.7 -0.1l0.6 0.6" fill="none" stroke="#3a3ab8" stroke-width="2.0" stroke-opacity="0.68" stroke-linejoin="round"/>
<path d="M488.9 36.1l1.6 2.9l1.1 3.2l1.6 10.1" fill="none" stroke="#3a3ab8" stroke-width="2.0" stroke-opacity="0.68" stroke-linejoin="round"/>
<path d="M466.5 46l6.1 -4.5l5 -2.6l6.4 -2.1l5.2 -0.6" fill="none" stroke="#3a3ab8" stroke-width="2.0" stroke-opacity="0.68" stroke-linejoin="round"/>
<path d="M489.2 37.5l5.1 0.2l5.1 1l5 1.9l6.2 3.6" fill="none" stroke="#3a3ab8" stroke-width="2.0" stroke-opacity="0.68" stroke-linejoin="round"/>
<path d="M488 51.7l0.4 -9.3l1.2 -5" fill="none" stroke="#3a3ab8" stroke-width="2.0" stroke-opacity="0.68" stroke-linejoin="round"/>
<path d="M489.6 36.1l1.6 -1.4l2.3 -0.5l2.6 0.8l2.1 1.6" fill="none" stroke="#3a3ab8" stroke-width="2.0" stroke-opacity="0.68" stroke-linejoin="round"/>
<path d="M510.2 46.3l-4.6 -3.6l-5.8 -3.5l-4.7 -1.9l-5.7 -1.4" fill="none" stroke="#3a3ab8" stroke-width="2.0" stroke-opacity="0.68" stroke-linejoin="round"/>
<path d="M489.4 38.6l-6.5 0.1l-3.4 1.1l-3.4 1.8" fill="none" stroke="#3a3ab8" stroke-width="2.0" stroke-opacity="0.68" stroke-linejoin="round"/>
<path d="M499.7 39.1l-2.6 -1.2l-2.1 -0.3l-2.9 0.1l-3.2 1" fill="none" stroke="#3a3ab8" stroke-width="2.0" stroke-opacity="0.68" stroke-linejoin="round"/>
<path d="M489 35.9l-3.4 1.9l-4.3 3.3l-7.9 9" fill="none" stroke="#3a3ab8" stroke-width="2.0" stroke-opacity="0.68" stroke-linejoin="round"/>
<path d="M476.1 38.4l3 -2l3.6 -1.3l2.8 -0.1l3.4 1.1" fill="none" stroke="#3a3ab8" stroke-width="2.0" stroke-opacity="0.68" stroke-linejoin="round"/>
<path d="M489 34.2l4.7 2.2l4.5 3.4l4.4 4.7l4 5.9" fill="none" stroke="#3a3ab8" stroke-width="2.0" stroke-opacity="0.68" stroke-linejoin="round"/>
<path d="M468.9 50l4.8 -5.8l5 -4.6l5.3 -3.3l5.4 -2.1" fill="none" stroke="#3a3ab8" stroke-width="2.0" stroke-opacity="0.68" stroke-linejoin="round"/>
<path d="M489.4 38.4l4.3 -0.5l4.3 0.3l4.3 1.2l4.3 1.9" fill="none" stroke="#3a3ab8" stroke-width="2.0" stroke-opacity="0.68" stroke-linejoin="round"/>
<path d="M496.1 50.3l-3.5 -7.5l-3 -4.5" fill="none" stroke="#3a3ab8" stroke-width="2.0" stroke-opacity="0.68" stroke-linejoin="round"/>
<path d="M489.6 37.2l-0.8 -1l-0.1 2.6" fill="none" stroke="#3a3ab8" stroke-width="2.0" stroke-opacity="0.68" stroke-linejoin="round"/>
<path d="M505.9 43.1l-3.8 -2.6l-3.9 -1.9l-4 -1.1l-5 -0.4" fill="none" stroke="#3a3ab8" stroke-width="2.0" stroke-opacity="0.68" stroke-linejoin="round"/>
<path d="M489.2 39.7l-7.9 1.5l-7.6 3.8" fill="none" stroke="#3a3ab8" stroke-width="2.0" stroke-opacity="0.68" stroke-linejoin="round"/>
<path d="M492.4 38.8l-1.6 -0.7l-1.9 1.7" fill="none" stroke="#3a3ab8" stroke-width="2.0" stroke-opacity="0.68" stroke-linejoin="round"/>
<path d="M488.9 34.2l-3.9 5.3l-4.7 10.1" fill="none" stroke="#3a3ab8" stroke-width="2.0" stroke-opacity="0.68" stroke-linejoin="round"/>
<path d="M475.7 42l3.5 -3.9l3.4 -2.6l3.2 -1.3l3.2 0.1" fill="none" stroke="#3a3ab8" stroke-width="2.0" stroke-opacity="0.68" stroke-linejoin="round"/>
<path d="M489.1 34.3l5.6 1.1l5.4 2.4l5.3 3.7l5.1 5" fill="none" stroke="#3a3ab8" stroke-width="2.0" stroke-opacity="0.68" stroke-linejoin="round"/>
<path d="M480.2 51.5l2 -6.1l2.2 -5l2.4 -3.7l2.7 -2.5" fill="none" stroke="#3a3ab8" stroke-width="2.0" stroke-opacity="0.68" stroke-linejoin="round"/>
<line x1="401.2" y1="289.3" x2="401.2" y2="43.6" stroke="#333" stroke-width="0.8" />
<line x1="401.2" y1="289.3" x2="532.8" y2="318.3" stroke="#333" stroke-width="0.8" />
<line x1="532.8" y1="318.3" x2="609.2" y2="277.1" stroke="#333" stroke-width="0.8" />
<line x1="401.2" y1="55.2" x2="395.2" y2="53.9" stroke="#333" stroke-width="0.8" />
<line x1="401.2" y1="119.6" x2="395.2" y2="118.3" stroke="#333" stroke-width="0.8" />
<line x1="401.2" y1="184.0" x2="395.2" y2="182.7" stroke="#333" stroke-width="0.8" />
<line x1="401.2" y1="248.4" x2="395.2" y2="247.1" stroke="#333" stroke-width="0.8" />
<line x1="415.8" y1="292.5" x2="410.5" y2="295.4" stroke="#333" stroke-width="0.8" />
<line x1="474.3" y1="305.4" x2="469.0" y2="308.3" stroke="#333" stroke-width="0.8" />
<line x1="532.8" y1="318.3" x2="527.5" y2="321.2" stroke="#333" stroke-width="0.8" />
<line x1="532.8" y1="318.3" x2="539.6" y2="319.8" stroke="#333" stroke-width="0.8" />
<line x1="571.0" y1="297.7" x2="577.8" y2="299.2" stroke="#333" stroke-width="0.8" />
<line x1="609.2" y1="277.1" x2="616.0" y2="278.6" stroke="#333" stroke-width="0.8" />
<text x="353.5" y="17.5" font-size="20" textLength="43.3" lengthAdjust="spacingAndGlyphs">&#215;10<tspan dy="-10.0" font-size="13.6">4</tspan></text>
<text x="409.4" y="37.7" font-size="18.5" textLength="46.9" lengthAdjust="spacingAndGlyphs">Moon</text>
<line x1="455.5" y1="32.0" x2="471.9" y2="38.2" stroke="#000" stroke-width="0.8" />
<path d="M480.7 41.5 L466.7 41.8 L471.9 38.2 L470.4 32.0 Z" fill="#000"/>
<text x="377.7" y="57.8" font-size="20" textLength="11.1" lengthAdjust="spacingAndGlyphs">0</text>
<text x="370.4" y="122.4" font-size="20" textLength="18.2" lengthAdjust="spacingAndGlyphs">-2</text>
<text x="370.4" y="186.8" font-size="20" textLength="18.2" lengthAdjust="spacingAndGlyphs">-4</text>
<text x="370.4" y="251.2" font-size="20" textLength="18.2" lengthAdjust="spacingAndGlyphs">-6</text>
<text transform="translate(358.2,197.2) rotate(-90)" font-size="21" textLength="59.1" lengthAdjust="spacingAndGlyphs">z [km]</text>
<text x="347.6" y="317.2" font-size="20" textLength="58.3" lengthAdjust="spacingAndGlyphs">1.4964</text>
<text x="406.3" y="329.4" font-size="20" textLength="57.6" lengthAdjust="spacingAndGlyphs">1.4966</text>
<text x="464.6" y="342.6" font-size="20" textLength="57.8" lengthAdjust="spacingAndGlyphs">1.4968</text>
<text x="301.5" y="345.9" font-size="20" textLength="42.5" lengthAdjust="spacingAndGlyphs">&#215;10<tspan dy="-10.0" font-size="13.6">8</tspan></text>
<text x="347.8" y="362.0" font-size="21" textLength="63.6" lengthAdjust="spacingAndGlyphs">x [km]</text>
<text x="622.1" y="296.9" font-size="20" textLength="10.9" lengthAdjust="spacingAndGlyphs">2</text>
<text x="585.2" y="318.5" font-size="20" textLength="11.2" lengthAdjust="spacingAndGlyphs">0</text>
<text x="548.0" y="338.8" font-size="20" textLength="18.7" lengthAdjust="spacingAndGlyphs">-2</text>
<text x="643.2" y="336.1" font-size="20" textLength="46.4" lengthAdjust="spacingAndGlyphs">&#215;10<tspan dy="-10.0" font-size="13.6">4</tspan></text>
<text x="602.2" y="357.3" font-size="21" textLength="63.3" lengthAdjust="spacingAndGlyphs">y [km]</text>
<text x="562.5" y="123.9" font-size="19.4" textLength="58.6" lengthAdjust="spacingAndGlyphs">Moon's</text>
<text x="557.9" y="145.8" font-size="19.4" textLength="63.0" lengthAdjust="spacingAndGlyphs">Shadow</text>
<line x1="585.8" y1="104.3" x2="577.2" y2="81.6" stroke="#000" stroke-width="0.8" />
<path d="M573.7 72.5 L583.7 83.1 L577.2 81.6 L573.3 87.1 Z" fill="#000"/>
<text x="346.4" y="392.0" font-size="20" textLength="295.2" lengthAdjust="spacingAndGlyphs"><tspan font-weight="bold">(b)</tspan> Sun–Moon Rotating Frame</text>
<line x1="113.3" y1="454.0" x2="113.3" y2="743.3" stroke="#e3e3e3" stroke-width="0.7" />
<line x1="182.4" y1="454.0" x2="182.4" y2="743.3" stroke="#e3e3e3" stroke-width="0.7" />
<line x1="251.6" y1="454.0" x2="251.6" y2="743.3" stroke="#e3e3e3" stroke-width="0.7" />
<line x1="320.8" y1="454.0" x2="320.8" y2="743.3" stroke="#e3e3e3" stroke-width="0.7" />
<line x1="389.9" y1="454.0" x2="389.9" y2="743.3" stroke="#e3e3e3" stroke-width="0.7" />
<line x1="76.0" y1="461.7" x2="392.8" y2="461.7" stroke="#e3e3e3" stroke-width="0.7" />
<line x1="76.0" y1="530.9" x2="392.8" y2="530.9" stroke="#e3e3e3" stroke-width="0.7" />
<line x1="76.0" y1="600.1" x2="392.8" y2="600.1" stroke="#e3e3e3" stroke-width="0.7" />
<line x1="76.0" y1="669.3" x2="392.8" y2="669.3" stroke="#e3e3e3" stroke-width="0.7" />
<line x1="76.0" y1="738.5" x2="392.8" y2="738.5" stroke="#e3e3e3" stroke-width="0.7" />
<circle cx="192.5" cy="600.2" r="11.3" fill="#2a2a2a"/>
<path d="M193.2 600l1.9 -17.4l2.7 -17l3.9 -17.8l4.4 -16.1l5.6 -16.5l5.4 -12.4l5.1 -8.4l2.2 -2.2l1.9 -0.8l2.2 0.9l2 3.2l8.1 23.8l4.1 10.7l5.8 12.4l6.4 10.9l6.3 9.1l7.5 9.1l7.5 7.9l13.7 12.8l3.8 4.5l1 2.6l-0.6 2.2l-2.1 2l-3.2 1.4l-11 2.5l-16.4 1.2l-17.2 -0.3l-17.6 -1.8l-16.8 -2.9l-17.1 -4.3" fill="none" stroke="#3a3ab8" stroke-width="2.0" stroke-opacity="0.68" stroke-linejoin="round"/>
<path d="M192.6 599.2l-14.4 -2.8l-15.5 -4.9l-12.8 -5.6l-12.9 -7.5l-11.1 -8.3l-9.9 -9.4l-7.1 -9.2l-3.1 -5.2l-2.1 -4.8l-1.3 -6l0.3 -5.4l1.8 -5l3.6 -5.2l4.4 -4.4l5.9 -4.9l33.8 -24.9l8.8 -6.1l6.8 -3.7l5.7 -1.8l4.8 -0.1l5.1 1.9l4.4 3.8l4.6 6.6l3 7.1l3.2 11.4l2 12.2l1.1 13.8l0 13.2l-1 14l-2.1 14.5l-2.6 12.6l-4.1 14.6" fill="none" stroke="#3a3ab8" stroke-width="2.0" stroke-opacity="0.68" stroke-linejoin="round"/>
<path d="M191.9 599.6l-5.5 10.9l-7.2 11.5l-6.9 9l-8.4 9l-8.5 7.4l-9.4 6.5l-8.8 4.4l-8.8 2.6l-6.1 0.5l-5.7 -1.1l-4.7 -2.5l-3.6 -3.9l-2.8 -5.2l-2.2 -7l-4.7 -24.8l-3.6 -26l0 -7.5l0.9 -5.9l2.1 -5.1l3.6 -4.2l5.1 -3l5.9 -1.7l9.1 -0.6l9.8 1.2l10.9 2.9l10.4 4.2l10.7 5.8l9.4 6.3l9.2 7.5l10 9.7" fill="none" stroke="#3a3ab8" stroke-width="2.0" stroke-opacity="0.68" stroke-linejoin="round"/>
<path d="M192.1 600.6l11.4 9.2l9.1 8.1l10 10.2l9.2 10.5l8.2 10.5l8.1 12.2l6.7 11.7l4.4 9.5l3.5 10.4l2.3 10.3l0.5 8.6l-1.2 6.8l-2.8 4.9l-4.3 3.3l-6.4 2.1l-8.1 0.9l-41.8 0l-40.1 3.2l-9.4 0.1l-6.3 -1l-4.4 -2l-3.4 -3.2l-2 -3.9l-1.2 -5l-0.3 -5l0.4 -7l1 -6.6l2.2 -8.9l3 -9.7l7 -17.2l8.7 -16.5l10.9 -16.8l13 -16.2l12.9 -13.6" fill="none" stroke="#3a3ab8" stroke-width="2.0" stroke-opacity="0.68" stroke-linejoin="round"/>
<path d="M192.9 600.6l9.8 -6l11.6 -5.6l10.3 -3.7l11.4 -2.8l10.9 -1.4l10.1 -0.2l10 1.2l8.5 2.4l6.2 2.9l5.2 3.9l3.7 4.6l2.2 5.7l0.7 6.2l-0.7 7.3l-2 8.5l-3.6 11.8l-4.3 11.6l-3.6 7.8l-3.8 6.1l-4.1 4.3l-5 2.9l-5.5 1.2l-6.3 -0.4l-6.4 -1.8l-7.9 -3.8l-8.4 -5.6l-8.6 -7.6l-7.6 -8.3l-7.1 -9.7l-5.7 -9.6l-5.7 -11.8l-4.1 -10.9" fill="none" stroke="#3a3ab8" stroke-width="2.0" stroke-opacity="0.68" stroke-linejoin="round"/>
<path d="M193.1 599.6l-8 -17.8l-6.5 -18.1l-5.5 -20.2l-3.6 -19.3l-1.9 -21.2l0.4 -18.9l0.8 -6.3l1.5 -6.5l1.6 -4.4l2.3 -4.1l2.9 -2.8l3.9 -1.8l4.5 -0.4l5.9 1.1l9.3 3.6l34.3 15.5l37.6 13.6l7 3.4l4.8 3.6l3.2 4.3l1.4 5.2l-0.4 6.3l-2 6.5l-4.2 8.4l-5.5 8.1l-7.3 8.9l-8.9 9.3l-10.5 9.3l-10 7.9l-11 7.5l-11.7 7l-12.4 6.4l-12.8 5.6" fill="none" stroke="#3a3ab8" stroke-width="2.0" stroke-opacity="0.68" stroke-linejoin="round"/>
<path d="M192.4 599.2l-11.9 0.8l-11.8 -0.5l-12.6 -1.8l-11.5 -3.1l-11.2 -4.4l-9.1 -5.1l-7.4 -6l-2.8 -3.3l-1.9 -3.2l-1.3 -3.7l-0.1 -4.2l1.1 -4l2.2 -4.1l4.5 -5.9l17.3 -19.3l15.9 -19l4.8 -5.1l4.1 -3.2l3.6 -1.5l3.6 0l3.6 1.5l3.7 3.3l3.7 5.2l3.1 5.9l3.4 8.5l2.7 8.7l2.2 9.9l1.6 10.8l1 11.6l0.3 10.5l-1.3 21.4" fill="none" stroke="#3a3ab8" stroke-width="2.0" stroke-opacity="0.68" stroke-linejoin="round"/>
<path d="M191.9 600l0.5 12.7l-0.4 12.5l-1.4 11.8l-2.6 12.2l-3.5 10.7l-4.4 9.9l-5.3 8l-5.3 5.1l-3.8 1.9l-3.6 0.4l-4 -1.1l-3.9 -2.6l-7.1 -7.4l-21.9 -27.1l-5.3 -7l-3.4 -5.3l-2 -4.7l-0.7 -4l0.6 -4.6l1.9 -3.9l3.2 -4l4.7 -3.8l6.8 -4l7.6 -3.1l8.7 -2.4l8.4 -1.5l9.1 -0.7l9.5 0.1l8.3 0.8l9.8 1.8" fill="none" stroke="#3a3ab8" stroke-width="2.0" stroke-opacity="0.68" stroke-linejoin="round"/>
<path d="M192.5 600.7l16.3 0.8l15.9 1.8l16.7 3l15 3.8l15.5 5.2l12.5 5.7l7.1 4.7l2 2.4l0.8 2.2l-0.9 2.7l-2.8 2.4l-21.9 10.9l-10 5.4l-11.4 7.4l-10 7.6l-8.3 7.5l-8.4 8.6l-7.1 8.5l-11.8 15.2l-3.8 4.1l-2.5 1.4l-1.8 -0.2l-1.6 -1.5l-1.4 -2.8l-1.8 -5.9l-1.3 -7l-1.6 -17.5l-0.1 -18.6l1.1 -19.1l2.6 -20.5l3.7 -18.7" fill="none" stroke="#3a3ab8" stroke-width="2.0" stroke-opacity="0.68" stroke-linejoin="round"/>
<path d="M193.1 600.4l7.5 -11.9l8.3 -10.9l8.8 -9.6l9 -8.2l10.1 -7.4l10.5 -6l9.4 -3.5l8 -1.3l5.2 0.4l4.7 1.9l3.5 3.4l2.5 4.6l1.5 4.9l1.3 7.3l3.4 32.2l0.9 11.3l0.1 7.2l-0.7 5.8l-1.8 4.9l-3 4l-3.9 2.7l-5.9 2l-6.6 0.8l-8.8 -0.5l-8.8 -1.7l-9.7 -3l-10.2 -4.4l-9.1 -5l-9.1 -6l-8.9 -7l-8.3 -7.9" fill="none" stroke="#3a3ab8" stroke-width="2.0" stroke-opacity="0.68" stroke-linejoin="round"/>
<path d="M192.9 599.4l-7.4 -8.2l-7.6 -10.2l-5.7 -9.3l-5.3 -11l-4 -10.8l-2.8 -10.5l-1.7 -10.9l-0.3 -9.7l0.9 -8.3l2 -6.8l2.9 -5.3l4.1 -4.3l5 -2.8l5.6 -1.7l8.1 -1l10 -0.2l10 0.4l8.2 1.2l6.2 2l4.8 2.9l3.9 4.4l2.5 5.3l1.5 6.9l0.3 8.3l-1 9.7l-2.6 10.8l-3.6 10.4l-5 10.8l-6.3 10.7l-6.6 9.3l-8.6 9.9l-8.3 8" fill="none" stroke="#3a3ab8" stroke-width="2.0" stroke-opacity="0.68" stroke-linejoin="round"/>
<path d="M192.1 599.5l-11.6 12.7l-13.5 13.6l-13.4 12.2l-14.4 11.9l-15.7 11.5l-15 9.7l-9.1 4.5l-2.7 0.6l-1.5 -0.6l-0.3 -1.8l0.8 -2.9l11.4 -26.7l5.5 -17.2l4.6 -19.9l2.6 -19.6l0.9 -22l-1 -20.9l-1.9 -15.3l-5.8 -26.7l-0.6 -5.2l0.8 -1.7l1.7 0l3.2 1.8l4.7 3.7l11 10.6l12.3 14.9l12.7 17.1l12.1 17.9l10.6 17.6l11.5 21.1" fill="none" stroke="#3a3ab8" stroke-width="2.0" stroke-opacity="0.68" stroke-linejoin="round"/>
<path d="M191.9 600.3l10.6 24.4l4.5 12.2l4.5 14.5l3.7 14.1l2.8 13.3l2 12.5l1.2 11.4l0.1 12l-0.6 10.2l-1.5 8l-2 5.9l-2.8 3.8l-3.3 1.7l-4.1 -0.2l-5.4 -2.3l-7.4 -4.7l-25.9 -18.7l-18.6 -11.3l-19.5 -9.3l-31.7 -11.9l-8.3 -3.8l-3.1 -2.1l-2.2 -2.4l-1.4 -2.6l-0.5 -2.3l0.5 -3.9l1.8 -4.5l3.2 -5.1l3.7 -4.6l5.8 -6l7.2 -6.4l14.2 -10.5l17.4 -10.3l18 -8.5l19.6 -7.2l18.3 -5" fill="none" stroke="#3a3ab8" stroke-width="2.0" stroke-opacity="0.68" stroke-linejoin="round"/>
<path d="M192.6 600.7l18.7 -1.6l20.6 0.2l19.4 2.2l17.7 4l17 5.8l7.2 3.4l5 3l5.5 3.8l5.4 4.6l4 4.6l2.8 4.6l1.7 5.2l0 5l-1.7 5.7l-3.4 5.8l-7.7 9l-28 28.4l-25.3 28.7l-6.9 6.7l-5.3 3.6l-5.1 1.7l-4.5 -0.3l-5.2 -2.6l-4.6 -4.3l-4.6 -6.2l-4.5 -8.3l-5.6 -13.2l-4.1 -12l-3.5 -13.6l-2.8 -15l-1.9 -15.9l-0.8 -14.3l0.1 -14.6l1 -14.7" fill="none" stroke="#3a3ab8" stroke-width="2.0" stroke-opacity="0.68" stroke-linejoin="round"/>
<path d="M193.2 599.8l-2.3 -17.4l-0.9 -17.2l0.5 -18.7l2 -17.2l3.5 -17l4.6 -13.9l3 -6.9l3.2 -5.5l2.6 -3.6l3.2 -3.3l3.8 -2.2l4.4 -0.8l4.6 1l4.8 2.6l7 5.5l23.3 21.6l21.8 18.7l6.1 6l4.2 5.2l2.4 5.3l0.5 5.1l-1.2 5.3l-3 5.6l-5 6.1l-6.1 5.5l-8.8 6.4l-9.3 5.4l-10.5 5l-11.6 4.4l-12.6 3.7l-11.3 2.3l-11.7 1.7l-11.9 0.7" fill="none" stroke="#3a3ab8" stroke-width="2.0" stroke-opacity="0.68" stroke-linejoin="round"/>
<path d="M192.7 599.3l-13.8 -6l-14.6 -8.2l-13.2 -9.3l-11.4 -10l-10.4 -11.2l-7.8 -10.7l-5.4 -10.6l-1.7 -5l-0.7 -4.4l0.2 -4.6l1.5 -3.9l3.1 -3.8l4.3 -3.2l8.6 -4.4l28.5 -12l26.6 -13l7.2 -2.9l5.8 -1.1l4.5 0.6l3.9 2.2l3.2 4.1l2.7 6l1.5 7.1l0.8 8.6l-0.1 11.6l-1 11.5l-1.9 12.4l-2.5 11.4l-3.9 13.6l-4.2 12l-4.9 11.9l-5.6 11.6" fill="none" stroke="#3a3ab8" stroke-width="2.0" stroke-opacity="0.68" stroke-linejoin="round"/>
<path d="M192 599.6l-5.2 9.2l-5.9 8.4l-6.4 7.6l-7.8 7.4l-8.1 6l-8.1 4.6l-8.7 3.5l-8.1 1.9l-7.3 0.3l-6.2 -1l-5.2 -2.2l-4.6 -3.6l-3.9 -5.1l-2.7 -6.1l-2.3 -8.2l-1.7 -9.4l-0.9 -9.6l0 -8.6l1.2 -7.3l2 -5.6l3.4 -4.8l4.9 -4l5.7 -2.7l7.1 -1.7l8.2 -0.4l9.4 1l9 2.3l9.4 3.7l9.5 5.2l8.1 5.7l7.9 6.7l7.4 7.7" fill="none" stroke="#3a3ab8" stroke-width="2.0" stroke-opacity="0.68" stroke-linejoin="round"/>
<path d="M192.1 600.5l11.3 10.7l8.8 9.2l8.3 9.6l9 11.7l8 11.7l6.9 11.4l6.7 12.9l4.3 10.4l3.5 11.3l2.2 11.3l0.5 9.2l-1.2 7.2l-2.8 5l-4.3 3.1l-5.8 1.5l-8.1 0.2l-32.5 -3.6l-15.3 -1.2l-16.8 -0.4l-28.6 0.7l-8.8 -0.4l-5.6 -1.2l-3.9 -1.8l-3.5 -3.2l-2 -3.8l-1 -4.8l0 -6l1.1 -7l1.7 -6.7l3 -8.9l3.4 -8.1l4.7 -10l4.8 -8.8l10.5 -16.2l12.8 -16.3l14.9 -15.7l14.6 -12.9" fill="none" stroke="#3a3ab8" stroke-width="2.0" stroke-opacity="0.68" stroke-linejoin="round"/>
<path d="M192.9 600.6l15 -12l17.4 -11.5l17.3 -9.4l16.5 -6.9l16.8 -5.1l7.5 -1.5l6.7 -0.8l6 -0.1l6.1 0.7l5 1.3l4 2.1l2.8 2.7l2.1 3.9l0.8 4.9l-0.4 6.5l-2.1 9.7l-7.3 26.3l-4 16.2l-8.5 46.1l-2.3 7.9l-2.6 5.4l-3.6 3.6l-3.9 1.5l-5.7 -0.1l-5.9 -1.9l-6.8 -3.5l-8.8 -6l-8.6 -6.9l-9.1 -8.5l-9.3 -10.1l-7.9 -9.8l-7.7 -10.8l-7.3 -11.7l-6.8 -12.4l-5.2 -10.7" fill="none" stroke="#3a3ab8" stroke-width="2.0" stroke-opacity="0.68" stroke-linejoin="round"/>
<path d="M193.1 599.7l-4.9 -19.5l-4 -21.9l-2.4 -21l-0.9 -19.5l0.5 -18.9l2.4 -19l3 -10.7l2.1 -3.7l2.4 -2.3l1.8 -0.7l2.4 -0.1l2.7 0.8l2.9 1.6l6.7 5.2l23.6 21.1l16 12l16.9 10.3l26.4 13.1l6.6 3.9l4 3.5l1.9 3.3l0.3 3.7l-1.4 4.2l-3.2 4.7l-5 5.2l-6.8 5.6l-8.8 6.2l-8.9 5.4l-10 5.4l-20.9 9.1l-12.5 4.4l-11 3.2l-22.6 4.9" fill="none" stroke="#3a3ab8" stroke-width="2.0" stroke-opacity="0.68" stroke-linejoin="round"/>
<path d="M192.4 599.2l-13.8 1l-15.5 -0.6l-15 -2.3l-14 -3.7l-12.8 -5.1l-12.4 -6.7l-12.2 -9l-7.6 -7.5l-4.7 -6.7l-2.8 -6.5l-1 -7.2l1 -7l2.7 -6.9l4.6 -7.6l7 -9.4l11.5 -13.7l12.4 -14l8 -8.1l6.7 -5.1l6.7 -3.1l3.4 -0.6l3.5 0l6.6 2l6.8 4.5l6.2 6.3l6.1 8.6l6.2 12.6l5.4 15.2l3.8 15.6l2.7 17l1.2 15.8l0 16.4l-1.2 16.5" fill="none" stroke="#3a3ab8" stroke-width="2.0" stroke-opacity="0.68" stroke-linejoin="round"/>
<path d="M191.9 599.9l-2.2 19.9l-3.7 21.5l-4.6 20l-5.3 17.7l-6.8 18l-6.8 13.6l-3.4 5.3l-3.1 3.7l-2.7 2.2l-2.4 0.5l-1.4 -0.5l-1.3 -1.1l-2.5 -4.2l-12.4 -38.1l-7.1 -16.6l-7.7 -15.1l-7.8 -13l-9.1 -13.1l-20.8 -24.7l-4 -5.6l-1.4 -3.6l0.4 -2.9l2.2 -2.4l3.4 -1.6l6.7 -1.5l8 -0.8l15.6 0.5l19 2.7l21.6 5.1l20.9 6.9l19.1 8" fill="none" stroke="#3a3ab8" stroke-width="2.0" stroke-opacity="0.68" stroke-linejoin="round"/>
<path d="M192.4 600.7l19.3 3.9l18.6 4.7l17.5 5.4l17.7 6.3l16.6 7l11.6 5.9l11.4 7.5l2.6 2.6l0.6 1.9l-1.1 1.2l-2.6 0.9l-24.4 3.8l-17.8 4.7l-17.8 6.8l-16 8.3l-14.8 10l-14.2 12l-10.6 11l-16.3 19.9l-3.4 3.3l-1.5 0.3l-1 -1.2l-0.4 -3l0 -5.6l2.5 -22.5l3.2 -20.2l4 -19l4.6 -18.3l5.7 -18.9l6.7 -19.1" fill="none" stroke="#3a3ab8" stroke-width="2.0" stroke-opacity="0.68" stroke-linejoin="round"/>
<path d="M193.1 600.3l8.1 -16.9l8.8 -16l10.3 -16.4l10.1 -14.4l11.6 -14.1l9.9 -10.2l8 -6.1l2.9 -1.2l2.2 0.1l1.9 2l1.1 4.7l-0.1 29.5l0.3 11.5l1.3 13.6l2.4 13.8l3 11.9l3.7 11.2l4.6 11.4l8.4 18.7l2.5 7.3l0.1 3.2l-0.9 1.9l-2.4 1.3l-3.2 0.2l-6.1 -0.8l-7.1 -1.7l-16.7 -5.9l-17 -7.9l-16.8 -9.5l-15.7 -10.3l-15.4 -11.8" fill="none" stroke="#3a3ab8" stroke-width="2.0" stroke-opacity="0.68" stroke-linejoin="round"/>
<path d="M193 599.4l-9.3 -11.3l-8.1 -12.2l-6.9 -12.5l-5.4 -12.5l-4.5 -13.6l-2.8 -12.6l-1.1 -11.2l0.4 -10.4l1.5 -6.7l2.6 -5.6l3.8 -3.9l4.7 -2.5l5.6 -1.2l7.2 -0.3l26.6 1.6l13.3 1.1l8.2 1.3l6.4 1.9l4.8 2.7l3.6 3.9l2.4 5.5l0.8 6.3l-0.4 7.6l-2 10.1l-3.9 11.4l-5.8 12.4l-6.7 11.5l-8.3 11.5l-8.3 9.8l-9.3 9.3l-10 8.6" fill="none" stroke="#3a3ab8" stroke-width="2.0" stroke-opacity="0.68" stroke-linejoin="round"/>
<path d="M192.1 599.4l-11.5 9.3l-13.3 9.6l-13 8.5l-13.8 8l-13.7 7l-13.3 5.6l-9.7 3l-2.9 0.2l-1.3 -0.7l-0.1 -1.6l1.2 -3l11.9 -20.5l7.3 -15.3l5.6 -15l4.4 -16.4l3.1 -17.1l1.6 -18.2l0.2 -16.4l-1.4 -22.8l0.2 -4.5l1 -1.4l1.5 0.3l2.7 2l3.6 3.8l8.7 12.3l9.3 15.1l8.2 15.1l8.5 17.3l7.2 16.8l7.6 19.9" fill="none" stroke="#3a3ab8" stroke-width="2.0" stroke-opacity="0.68" stroke-linejoin="round"/>
<path d="M191.9 600.1l1.6 11.5l0.6 11.4l-0.4 11.1l-1.6 12.1l-2.5 11.1l-3.4 9.9l-4.6 9.5l-5.1 7.6l-5.2 5.7l-5.4 3.8l-5.2 2l-5.6 0.4l-5.5 -1.3l-5.9 -3l-6.8 -5.1l-7.6 -7.1l-7.1 -7.8l-5.3 -7.1l-3.4 -6.2l-1.8 -6l-0.4 -6.3l1.1 -6l2.6 -6.3l4.3 -6.5l6 -6.5l7.7 -6.2l8.3 -4.9l9.3 -4.2l10.4 -3.1l9.7 -1.7l10 -0.7l11.8 0.5" fill="none" stroke="#3a3ab8" stroke-width="2.0" stroke-opacity="0.68" stroke-linejoin="round"/>
<path d="M192.7 600.7l16.3 -5.4l18.2 -4.6l17.4 -3.1l15.9 -1.7l16.6 -0.2l13 1.2l4.5 1l4.1 1.6l2.9 1.8l1.6 2.1l0.4 1.5l-0.3 2.1l-2.6 5l-25.1 28.6l-7.6 10.4l-7.1 11.1l-4.8 8.9l-4.8 10.2l-10.8 27.8l-3.5 7.3l-2.2 2.7l-2.1 0.8l-2.6 -0.6l-2.5 -2.1l-2.8 -3.5l-4.7 -7.7l-7.7 -16.1l-6.5 -17.8l-5.9 -21.1l-4.2 -21.1l-2.6 -19.9" fill="none" stroke="#3a3ab8" stroke-width="2.0" stroke-opacity="0.68" stroke-linejoin="round"/>
<rect x="197" y="588.7" width="195.8" height="24" fill="url(#gshc)"/>
<path d="M193.2 600l1.6 -15.3l2.6 -17" fill="none" stroke="#3a3ab8" stroke-width="2.0" stroke-opacity="0.68" stroke-linejoin="round"/>
<path d="M221.1 605.7l-15.1 -3l-13.3 -3.4" fill="none" stroke="#3a3ab8" stroke-width="2.0" stroke-opacity="0.68" stroke-linejoin="round"/>
<path d="M192.6 599.2l-9 -1.5l-8.9 -2.2" fill="none" stroke="#3a3ab8" stroke-width="2.0" stroke-opacity="0.68" stroke-linejoin="round"/>
<path d="M197.4 578.8l-5.5 20.9" fill="none" stroke="#3a3ab8" stroke-width="2.0" stroke-opacity="0.68" stroke-linejoin="round"/>
<path d="M191.9 599.6l-7.2 13.9l-9.4 13.8" fill="none" stroke="#3a3ab8" stroke-width="2.0" stroke-opacity="0.68" stroke-linejoin="round"/>
<path d="M167.6 579.6l13.2 10.1l11.3 10.8" fill="none" stroke="#3a3ab8" stroke-width="2.0" stroke-opacity="0.68" stroke-linejoin="round"/>
<path d="M192.1 600.6l16.9 14l15.2 15.2" fill="none" stroke="#3a3ab8" stroke-width="2.0" stroke-opacity="0.68" stroke-linejoin="round"/>
<path d="M165.7 632.2l12.8 -16.4l14.4 -15.3" fill="none" stroke="#3a3ab8" stroke-width="2.0" stroke-opacity="0.68" stroke-linejoin="round"/>
<path d="M192.9 600.6l12.7 -7.5l13.1 -5.8" fill="none" stroke="#3a3ab8" stroke-width="2.0" stroke-opacity="0.68" stroke-linejoin="round"/>
<path d="M205.2 626.7l-6.7 -12.9l-5.4 -14" fill="none" stroke="#3a3ab8" stroke-width="2.0" stroke-opacity="0.68" stroke-linejoin="round"/>
<path d="M193.1 599.6l-8 -17.8l-7.2 -20.4" fill="none" stroke="#3a3ab8" stroke-width="2.0" stroke-opacity="0.68" stroke-linejoin="round"/>
<path d="M227.3 581.5l-18 10.2l-17 7.6" fill="none" stroke="#3a3ab8" stroke-width="2.0" stroke-opacity="0.68" stroke-linejoin="round"/>
<path d="M192.4 599.2l-13.4 0.8l-13.1 -0.8" fill="none" stroke="#3a3ab8" stroke-width="2.0" stroke-opacity="0.68" stroke-linejoin="round"/>
<path d="M192.9 568l0.2 15.8l-1.2 16.1" fill="none" stroke="#3a3ab8" stroke-width="2.0" stroke-opacity="0.68" stroke-linejoin="round"/>
<path d="M191.9 600l0.5 11.2l-0.2 10.9" fill="none" stroke="#3a3ab8" stroke-width="2.0" stroke-opacity="0.68" stroke-linejoin="round"/>
<path d="M172.9 598l9.7 0.9l9.8 1.8" fill="none" stroke="#3a3ab8" stroke-width="2.0" stroke-opacity="0.68" stroke-linejoin="round"/>
<path d="M192.5 600.7l16.3 0.8l15.9 1.8" fill="none" stroke="#3a3ab8" stroke-width="2.0" stroke-opacity="0.68" stroke-linejoin="round"/>
<path d="M187.5 633.3l2.4 -16.4l3.3 -16.7" fill="none" stroke="#3a3ab8" stroke-width="2.0" stroke-opacity="0.68" stroke-linejoin="round"/>
<path d="M193.1 600.4l9.5 -14.7l11.8 -14.2" fill="none" stroke="#3a3ab8" stroke-width="2.0" stroke-opacity="0.68" stroke-linejoin="round"/>
<path d="M219.3 620.4l-14.2 -9.9l-12.1 -11" fill="none" stroke="#3a3ab8" stroke-width="2.0" stroke-opacity="0.68" stroke-linejoin="round"/>
<path d="M192.9 599.4l-10.4 -11.9l-9.5 -14.5" fill="none" stroke="#3a3ab8" stroke-width="2.0" stroke-opacity="0.68" stroke-linejoin="round"/>
<path d="M214.7 573.6l-5.7 7.9l-5.2 6.3l-11.7 11.6" fill="none" stroke="#3a3ab8" stroke-width="2.0" stroke-opacity="0.68" stroke-linejoin="round"/>
<path d="M192.1 599.5l-13.3 14.5l-15.2 15" fill="none" stroke="#3a3ab8" stroke-width="2.0" stroke-opacity="0.68" stroke-linejoin="round"/>
<path d="M169.9 561.7l10.6 17.6l11.5 21.1" fill="none" stroke="#3a3ab8" stroke-width="2.0" stroke-opacity="0.68" stroke-linejoin="round"/>
<path d="M191.9 600.3l9.7 21.9l7.8 22" fill="none" stroke="#3a3ab8" stroke-width="2.0" stroke-opacity="0.68" stroke-linejoin="round"/>
<path d="M152.7 613.8l19.4 -7.4l20.6 -5.7" fill="none" stroke="#3a3ab8" stroke-width="2.0" stroke-opacity="0.68" stroke-linejoin="round"/>
<path d="M192.6 600.7l18.7 -1.6l18.4 0.1" fill="none" stroke="#3a3ab8" stroke-width="2.0" stroke-opacity="0.68" stroke-linejoin="round"/>
<path d="M192.6 639l-0.5 -19.3l1.1 -19.6" fill="none" stroke="#3a3ab8" stroke-width="2.0" stroke-opacity="0.68" stroke-linejoin="round"/>
<path d="M193.2 599.8l-2.5 -19.5l-0.7 -19.3" fill="none" stroke="#3a3ab8" stroke-width="2.0" stroke-opacity="0.68" stroke-linejoin="round"/>
<path d="M227.4 594.5l-17.1 3.3l-17.8 1.4" fill="none" stroke="#3a3ab8" stroke-width="2.0" stroke-opacity="0.68" stroke-linejoin="round"/>
<path d="M192.7 599.3l-13.8 -6l-13 -7.2" fill="none" stroke="#3a3ab8" stroke-width="2.0" stroke-opacity="0.68" stroke-linejoin="round"/>
<path d="M205.4 568.1l-6.1 15.9l-7.3 15.6" fill="none" stroke="#3a3ab8" stroke-width="2.0" stroke-opacity="0.68" stroke-linejoin="round"/>
<path d="M192 599.6l-6 10.5l-7.8 10.5" fill="none" stroke="#3a3ab8" stroke-width="2.0" stroke-opacity="0.68" stroke-linejoin="round"/>
<path d="M173.4 583.5l9.1 7.3l9.6 9.7" fill="none" stroke="#3a3ab8" stroke-width="2.0" stroke-opacity="0.68" stroke-linejoin="round"/>
<path d="M192.1 600.5l16.6 16.2l14.9 17.2" fill="none" stroke="#3a3ab8" stroke-width="2.0" stroke-opacity="0.68" stroke-linejoin="round"/>
<path d="M161.9 631l14.7 -15.8l16.3 -14.6" fill="none" stroke="#3a3ab8" stroke-width="2.0" stroke-opacity="0.68" stroke-linejoin="round"/>
<path d="M192.9 600.6l15 -12l17.4 -11.5" fill="none" stroke="#3a3ab8" stroke-width="2.0" stroke-opacity="0.68" stroke-linejoin="round"/>
<path d="M212.4 634.5l-10.8 -17.8l-8.5 -17" fill="none" stroke="#3a3ab8" stroke-width="2.0" stroke-opacity="0.68" stroke-linejoin="round"/>
<path d="M193.1 599.7l-5.4 -22l-3.9 -21.8" fill="none" stroke="#3a3ab8" stroke-width="2.0" stroke-opacity="0.68" stroke-linejoin="round"/>
<path d="M232.3 589l-19.5 5.9l-20.4 4.3" fill="none" stroke="#3a3ab8" stroke-width="2.0" stroke-opacity="0.68" stroke-linejoin="round"/>
<path d="M192.4 599.2l-13.8 1l-15.5 -0.6" fill="none" stroke="#3a3ab8" stroke-width="2.0" stroke-opacity="0.68" stroke-linejoin="round"/>
<path d="M193 564.7l0.2 16.3l-1.3 18.9" fill="none" stroke="#3a3ab8" stroke-width="2.0" stroke-opacity="0.68" stroke-linejoin="round"/>
<path d="M191.9 599.9l-2.6 22.4l-3.7 21.3" fill="none" stroke="#3a3ab8" stroke-width="2.0" stroke-opacity="0.68" stroke-linejoin="round"/>
<path d="M154.4 586.4l18.8 6.3l19.1 8" fill="none" stroke="#3a3ab8" stroke-width="2.0" stroke-opacity="0.68" stroke-linejoin="round"/>
<path d="M192.4 600.7l24 5l22.8 6.2" fill="none" stroke="#3a3ab8" stroke-width="2.0" stroke-opacity="0.68" stroke-linejoin="round"/>
<path d="M178.3 647.6l6.6 -23.4l8.2 -23.9" fill="none" stroke="#3a3ab8" stroke-width="2.0" stroke-opacity="0.68" stroke-linejoin="round"/>
<path d="M193.1 600.3l8.1 -16.9l8.8 -16" fill="none" stroke="#3a3ab8" stroke-width="2.0" stroke-opacity="0.68" stroke-linejoin="round"/>
<path d="M220.5 619.4l-13.9 -9.4l-13.7 -10.6" fill="none" stroke="#3a3ab8" stroke-width="2.0" stroke-opacity="0.68" stroke-linejoin="round"/>
<path d="M193 599.4l-9.3 -11.3l-9 -13.7" fill="none" stroke="#3a3ab8" stroke-width="2.0" stroke-opacity="0.68" stroke-linejoin="round"/>
<path d="M215.1 577.4l-11.6 12.1l-11.4 9.9" fill="none" stroke="#3a3ab8" stroke-width="2.0" stroke-opacity="0.68" stroke-linejoin="round"/>
<path d="M192.1 599.4l-11.5 9.3l-11.6 8.5" fill="none" stroke="#3a3ab8" stroke-width="2.0" stroke-opacity="0.68" stroke-linejoin="round"/>
<path d="M179.8 569.8l12.1 30.5" fill="none" stroke="#3a3ab8" stroke-width="2.0" stroke-opacity="0.68" stroke-linejoin="round"/>
<path d="M191.9 600.1l1.9 16.4l0 16.1" fill="none" stroke="#3a3ab8" stroke-width="2.0" stroke-opacity="0.68" stroke-linejoin="round"/>
<path d="M163.7 602l14.1 -1.8l14.7 0.5" fill="none" stroke="#3a3ab8" stroke-width="2.0" stroke-opacity="0.68" stroke-linejoin="round"/>
<path d="M192.7 600.7l20.4 -6.6l20 -4.6" fill="none" stroke="#3a3ab8" stroke-width="2.0" stroke-opacity="0.68" stroke-linejoin="round"/>
<path d="M200.5 642.9l-4.4 -20.9l-2.9 -22.1" fill="none" stroke="#3a3ab8" stroke-width="2.0" stroke-opacity="0.68" stroke-linejoin="round"/>
<circle cx="192.5" cy="600.2" r="10.5" fill="#202040" fill-opacity="0.55"/>
<line x1="76.0" y1="454.0" x2="76.0" y2="743.3" stroke="#8c8c8c" stroke-width="1.1" />
<line x1="76.0" y1="743.3" x2="392.8" y2="743.3" stroke="#333" stroke-width="0.8" />
<line x1="113.3" y1="743.3" x2="113.3" y2="739.8" stroke="#333" stroke-width="0.8" />
<line x1="182.4" y1="743.3" x2="182.4" y2="739.8" stroke="#333" stroke-width="0.8" />
<line x1="251.6" y1="743.3" x2="251.6" y2="739.8" stroke="#333" stroke-width="0.8" />
<line x1="320.8" y1="743.3" x2="320.8" y2="739.8" stroke="#333" stroke-width="0.8" />
<line x1="389.9" y1="743.3" x2="389.9" y2="739.8" stroke="#333" stroke-width="0.8" />
<line x1="76.0" y1="461.7" x2="79.5" y2="461.7" stroke="#333" stroke-width="0.8" />
<line x1="76.0" y1="530.9" x2="79.5" y2="530.9" stroke="#333" stroke-width="0.8" />
<line x1="76.0" y1="600.1" x2="79.5" y2="600.1" stroke="#333" stroke-width="0.8" />
<line x1="76.0" y1="669.3" x2="79.5" y2="669.3" stroke="#333" stroke-width="0.8" />
<line x1="76.0" y1="738.5" x2="79.5" y2="738.5" stroke="#333" stroke-width="0.8" />
<text x="59.4" y="466.8" font-size="20" textLength="10.3" lengthAdjust="spacingAndGlyphs">2</text>
<text x="60.1" y="536.0" font-size="20" textLength="9.6" lengthAdjust="spacingAndGlyphs">1</text>
<text x="59.4" y="605.2" font-size="20" textLength="10.3" lengthAdjust="spacingAndGlyphs">0</text>
<text x="52.4" y="674.4" font-size="20" textLength="17.3" lengthAdjust="spacingAndGlyphs">-1</text>
<text x="52.1" y="743.6" font-size="20" textLength="17.6" lengthAdjust="spacingAndGlyphs">-2</text>
<text x="85.8" y="767.2" font-size="20" textLength="55.0" lengthAdjust="spacingAndGlyphs">1.4964</text>
<text x="154.9" y="767.2" font-size="20" textLength="55.0" lengthAdjust="spacingAndGlyphs">1.4965</text>
<text x="224.1" y="767.2" font-size="20" textLength="55.0" lengthAdjust="spacingAndGlyphs">1.4966</text>
<text x="293.2" y="767.2" font-size="20" textLength="55.0" lengthAdjust="spacingAndGlyphs">1.4967</text>
<text x="362.4" y="767.2" font-size="20" textLength="55.0" lengthAdjust="spacingAndGlyphs">1.4968</text>
<text x="78.0" y="447.4" font-size="19.5" textLength="39.6" lengthAdjust="spacingAndGlyphs">&#215;10<tspan dy="-9.8" font-size="13.3">4</tspan></text>
<text x="351.5" y="792.4" font-size="19.5" textLength="41.6" lengthAdjust="spacingAndGlyphs">&#215;10<tspan dy="-9.8" font-size="13.3">8</tspan></text>
<text transform="translate(41.0,628.6) rotate(-90)" font-size="20.5" textLength="57.5" lengthAdjust="spacingAndGlyphs">y [km]</text>
<text x="204.6" y="793.3" font-size="20.5" textLength="58.6" lengthAdjust="spacingAndGlyphs">x [km]</text>
<text x="72.4" y="821.5" font-size="20" textLength="294.4" lengthAdjust="spacingAndGlyphs"><tspan font-weight="bold">(c)</tspan> Sun–Moon Rotating Frame</text>
<text x="98.9" y="477.2" font-size="18" textLength="43.4" lengthAdjust="spacingAndGlyphs">Moon</text>
<line x1="118.5" y1="481.0" x2="174.6" y2="581.1" stroke="#000" stroke-width="0.8" />
<path d="M179.0 589.0 L168.9 580.3 L174.6 581.1 L176.9 575.8 Z" fill="#000"/>
<text x="326.5" y="506.0" font-size="18.5" textLength="56.0" lengthAdjust="spacingAndGlyphs">Moon's</text>
<text x="322.1" y="526.5" font-size="18.5" textLength="60.1" lengthAdjust="spacingAndGlyphs">Shadow</text>
<line x1="349.2" y1="530.5" x2="350.9" y2="574.7" stroke="#000" stroke-width="0.8" />
<path d="M351.2 583.7 L345.9 571.4 L350.9 574.7 L355.5 571.0 Z" fill="#000"/>
<line x1="121.0" y1="725.5" x2="101.2" y2="716.1" stroke="#000" stroke-width="0.8" />
<path d="M93.4 712.4 L106.2 713.4 L101.2 716.1 L102.3 721.7 Z" fill="#000"/>
<line x1="490.0" y1="454.0" x2="490.0" y2="743.1" stroke="#e3e3e3" stroke-width="0.7" />
<line x1="567.5" y1="454.0" x2="567.5" y2="743.1" stroke="#e3e3e3" stroke-width="0.7" />
<line x1="645.0" y1="454.0" x2="645.0" y2="743.1" stroke="#e3e3e3" stroke-width="0.7" />
<line x1="490.0" y1="467.6" x2="647.5" y2="467.6" stroke="#e3e3e3" stroke-width="0.7" />
<line x1="490.0" y1="505.7" x2="647.5" y2="505.7" stroke="#e3e3e3" stroke-width="0.7" />
<line x1="490.0" y1="543.8" x2="647.5" y2="543.8" stroke="#e3e3e3" stroke-width="0.7" />
<line x1="490.0" y1="581.9" x2="647.5" y2="581.9" stroke="#e3e3e3" stroke-width="0.7" />
<line x1="490.0" y1="620.0" x2="647.5" y2="620.0" stroke="#e3e3e3" stroke-width="0.7" />
<line x1="490.0" y1="658.1" x2="647.5" y2="658.1" stroke="#e3e3e3" stroke-width="0.7" />
<line x1="490.0" y1="696.1" x2="647.5" y2="696.1" stroke="#e3e3e3" stroke-width="0.7" />
<line x1="490.0" y1="734.2" x2="647.5" y2="734.2" stroke="#e3e3e3" stroke-width="0.7" />
<path d="M567.5 460.3l4.9 0.5l4.8 1.4l4.8 2.5l4.7 3.3l4.5 4.3l4.4 5.2l4.2 6.1l4.9 8.7l7 16.3l6.6 21.3l4.5 21.1l3.4 25.3l1.8 26.1l-0.1 28.7l-2 27.4l-3.8 24.7l-5.2 21.1l-3.1 8.8l-3.8 8.9l-3.4 5.9l-4.2 5.2l-3.4 2.8l-4.1 1.3l-3.9 -1l-4.3 -3.8l-3.3 -5.6l-3.5 -9l-2.6 -9.9l-2.6 -13.6l-4.2 -33.2l-2.6 -32.8l-2.2 -37.6l-2 -45.1l-1 -37l0.1 -21.7l0.8 -14.6l1.7 -9l1.2 -2.3l1.4 -0.7" fill="none" stroke="#3a3ab8" stroke-width="2.0" stroke-opacity="0.68" stroke-linejoin="round"/>
<path d="M567.9 464.4l1.4 1.5l1.9 4.4l5.5 17.3l5.9 22.7l5.8 26l6.2 32.3l4.7 28.7l13.2 96l3.4 21.4l2.4 11.8l2.2 7.5l2.3 4.6l2.3 1.8l1.3 -0.4l1 -0.9l2 -3.5l2.2 -6.7l1.8 -7.9l2.9 -21.3l1.5 -27.5l-0.1 -26.4l-1.6 -28.2l-2.9 -26.1l-4.3 -25.7l-5.2 -21.7l-6.3 -20.1l-7.3 -17.9l-7 -13.5l-8.8 -12.4l-4.5 -5l-4.6 -4l-4.7 -3.2l-3.5 -1.7l-4.7 -1.4l-4.7 -0.5" fill="none" stroke="#3a3ab8" stroke-width="2.0" stroke-opacity="0.68" stroke-linejoin="round"/>
<path d="M567.7 456.1l-3.5 0.5l-3.4 1.5l-3.2 2.4l-3.1 3.4l-2.9 4.3l-2.7 5.2l-4.9 12.9l-3.9 15.9l-3 18.6l-2.2 20.6l-1.3 24.9l-0.4 28.9l1 31.7l1.9 27.3l3.2 27l4.1 22.4l4.4 15.4l2.8 6.6l2.4 3.9l2.5 2.4l2.6 0.9l2.5 -0.6l2.5 -2.1l2.5 -3.6l2.4 -5.1l4.6 -14.3l4.2 -19.2l4 -25.9l3.2 -29.5l2.3 -28.6l1.5 -31.8l0.4 -25.3l-0.4 -23.6l-1.4 -21l-2.2 -15.9l-3 -12.9l-3.9 -9.5l-2.2 -3.4l-2.5 -2.4l-2.6 -1.5l-2.8 -0.5" fill="none" stroke="#3a3ab8" stroke-width="2.0" stroke-opacity="0.68" stroke-linejoin="round"/>
<path d="M567.2 457.3l-2.5 0.3l-3.5 1.2l-3.7 2.2l-3.8 3.2l-7.7 9.1l-6.9 10.8l-7.7 15.3l-6.5 15.6l-6.8 20.1l-5.5 18.9l-4.7 19.9l-3.9 20.4l-3.1 20.4l-2.6 22.8l-1.8 21.7l-1.1 22.2l-0.4 54.2l-1.4 -18l-0.5 -25.1l0.5 -25.6l1.5 -23.8l2.2 -22.6l3.3 -23.3l3.8 -20.4l4.6 -20l5.4 -19.1l7 -20.3l6.6 -15.9l8.1 -15.7l7.2 -11.1l8.3 -9.6l4.1 -3.4l3.9 -2.4l3.9 -1.5l3.7 -0.5" fill="none" stroke="#3a3ab8" stroke-width="2.0" stroke-opacity="0.68" stroke-linejoin="round"/>
<path d="M567.2 457.4l1.9 0.5l1.8 1.4l1.7 2.5l1.4 3.4l2.2 9.7l1.3 13.1l0.7 16.2l-0.2 21.4l-2.6 52.6l-2.8 35.3l-3.1 31.7l-3.6 29.1l-3.5 23l-3.7 18.6l-3.6 12.3l-3.7 7.7l-2 2.2l-1.7 0.6l-2 -0.6l-2.5 -2.8l-2.3 -4.9l-2.2 -7.1l-3.7 -18l-3 -23.7l-2.1 -28.2l-1 -31.1l0.1 -29.4l1.4 -29.2l2 -22.4l2.9 -20.7l3.7 -18.6l4.5 -15.8l5.4 -12.7l2.9 -5.1l3.1 -4.1l3.3 -3.2l3.3 -2.2l3.5 -1.3l2.6 -0.2" fill="none" stroke="#3a3ab8" stroke-width="2.0" stroke-opacity="0.68" stroke-linejoin="round"/>
<path d="M567.7 457.8l4.9 0.5l5.1 1.5l5 2.5l5.1 3.4l5 4.4l5 5.3l8.5 11.4l8 13.8l8.3 18.4l6.4 17.9l6.1 22.2l4.8 23.3l3.9 26.8l2.3 26.4l0.8 27.8l-0.7 27.2l-2.4 24.2l-1.7 10.9l-2 8l-2 5.2l-1.1 1.7l-1.1 0.6l-1.3 -0.6l-1.4 -2.8l-2.4 -10.8l-2.2 -17.6l-5.9 -59.7l-4.3 -34.6l-6.2 -38.6l-7.7 -36.9l-4.1 -15.6l-5.1 -16.8l-4.5 -12.8l-5.2 -12.8l-5 -10.2l-4.8 -7.5l-4.2 -4.6l-1.7 -1l-2 -0.5" fill="none" stroke="#3a3ab8" stroke-width="2.0" stroke-opacity="0.68" stroke-linejoin="round"/>
<path d="M567.9 456.8l-0.4 4.5l1.3 14.6l23.5 217.5l3 19.7l3.3 14.5l1.7 5.2l1.8 3.7l1.8 2.2l1.5 0.6l1.5 -0.3l1.2 -1l2.3 -3.5l2.2 -5.7l2.2 -7.8l3.7 -21.2l2.4 -25.2l1 -26.4l-0.2 -28.7l-1.7 -29.6l-2.9 -26.3l-3.6 -22.5l-4.6 -20.8l-5.5 -18.6l-6.3 -15.9l-7.1 -12.8l-3.7 -5.1l-3.8 -4.1l-4 -3.2l-2.9 -1.8l-4 -1.5l-4 -0.5" fill="none" stroke="#3a3ab8" stroke-width="2.0" stroke-opacity="0.68" stroke-linejoin="round"/>
<path d="M567.5 460.8l-2.7 0.2l-3.5 1.3l-3.5 2.2l-3.5 3.1l-3.4 4.1l-3.3 5l-6.1 12.5l-5.6 15.7l-4.8 18.4l-3.9 20.5l-3.2 22.1l-2.4 25.9l-1.5 29.2l-0.1 28.2l0.9 26.1l2.2 24.8l3.3 20.9l2 7.6l2 5.6l2.1 3.5l2.2 1.3l1.7 -0.6l2.2 -2.8l2 -4.9l2 -7l3.8 -19.7l3.8 -28.7l6.2 -60.1l10.7 -116.5l1.6 -29.2l-0.4 -6.3l-0.4 -1.7l-0.8 -0.7" fill="none" stroke="#3a3ab8" stroke-width="2.0" stroke-opacity="0.68" stroke-linejoin="round"/>
<path d="M567.1 459.1l-5.7 38.2l-5.3 48l-4.3 51.5l-5.1 78.1l-2.9 28.9l-2.5 15.6l-2.7 10.3l-1.9 4.5l-1.7 2.6l-1.9 1.6l-1.9 0.6l-3 -0.9l-3.2 -3.2l-3.2 -5.2l-3.2 -7.4l-3.1 -9.3l-2.4 -9.2l-4.4 -24l-2.8 -25.7l-1 -28l0.8 -26.3l2.5 -26.3l4.1 -25.5l5 -21l6.3 -19.1l7.2 -16.5l5 -8.8l4.2 -6.1l4.4 -5.2l4.5 -4.4l4.6 -3.4l4.6 -2.4l4.6 -1.5l4.7 -0.5" fill="none" stroke="#3a3ab8" stroke-width="2.0" stroke-opacity="0.68" stroke-linejoin="round"/>
<path d="M567.3 453.6l3.4 0.5l3.2 1.5l2.4 1.8l3 3.2l2.8 4.1l2.6 5.1l4.7 12.7l3.9 15.9l3.3 21.1l2 21l1.2 25.5l0.3 29.4l-1 32.3l-1.9 27.9l-3.1 27.5l-4 22.8l-4.3 15.6l-2.7 6.8l-2.4 4l-2.4 2.4l-2.4 1l-2 -0.4l-2.4 -1.9l-2.4 -3.4l-2.3 -4.8l-4.4 -14.1l-3.9 -19.1l-3.5 -23.4l-3 -29.5l-2.3 -31.9l-1.4 -32.5l-0.3 -28.7l0.5 -24l1.4 -21.4l2.1 -16.3l2.8 -13.1l3.6 -9.7l2.1 -3.4l2.3 -2.5l2.4 -1.5l2.6 -0.5" fill="none" stroke="#3a3ab8" stroke-width="2.0" stroke-opacity="0.68" stroke-linejoin="round"/>
<path d="M567.8 453.8l2.6 0.5l2.7 1.5l5 5.1l5.2 7.9l5.4 10.8l5.3 13.3l5.2 15.5l4.9 17.4l5.2 21.8l4.1 20.3l4.1 23.8l6.1 47.6l4.2 49.8l2 51.1l-2.5 -53.4l-4.5 -50.4l-6.3 -47.7l-7.7 -41.1l-5.2 -21.8l-4.9 -17.4l-5.2 -15.5l-5.2 -13.3l-5.3 -10.8l-5.1 -7.9l-4.9 -5.1l-2.7 -1.5l-2.5 -0.5" fill="none" stroke="#3a3ab8" stroke-width="2.0" stroke-opacity="0.68" stroke-linejoin="round"/>
<path d="M567.8 457.8l-4.1 0.5l-5 2l-3.8 2.8l-4.5 4.7l-3.3 4.8l-3.9 7.3l-3.6 8.6l-3.1 9.8l-2.8 10.9l-2.8 14.4l-3.4 23.7l-2.1 28.5l-0.4 29.5l1.5 29.2l2.9 25l4.4 22.8l5.9 19.8l3.9 9.4l3.4 6.7l4.5 7.2l3.8 4.7l4 3.8l4.2 2.8l4.4 1.8l5.5 1l5.6 -0.6l5.6 -2.2l5.5 -3.7l4.2 -4l5.2 -6.3l4.8 -7.7l3.6 -7.1l4 -9.9l6 -20.6l2.7 -12.6l2.1 -13.4l2.6 -28.4l0.5 -29.5l-1.8 -29.3l-3.4 -25l-5.2 -23l-3.6 -11.5l-3.4 -8.5l-4.5 -9.5l-4 -6.8l-5.3 -7.3l-4.6 -4.8l-6 -4.7l-5 -2.8l-5.1 -1.7l-6.6 -0.8" fill="none" stroke="#3a3ab8" stroke-width="2.0" stroke-opacity="0.68" stroke-linejoin="round"/>
<path d="M567.3 457.4l-5.4 0.5l-5.4 1.5l-5.5 2.5l-5.5 3.5l-5.4 4.4l-5.3 5.3l-5.1 6.2l-5 7l-9.3 16.4l-8.3 19l-7.1 21.1l-5.6 22.7l-4 23.6l-2.7 26.8l-0.9 26.1l1.1 27.1l3 26.1l2.3 12.2l2.6 10.4l2.8 8.4l3.3 7.3l2.7 3.9l1.4 1.2l1.7 0.6l2.4 -1l2.5 -3.9l2.1 -6.9l1.9 -9.6l2.3 -18.3l5.5 -60.3l3.9 -35.2l5.1 -35.6l5.8 -31l7.7 -32.5l7.5 -25.6l3.9 -10.3l3.4 -7.5l3 -4.5l2.4 -1.6" fill="none" stroke="#3a3ab8" stroke-width="2.0" stroke-opacity="0.68" stroke-linejoin="round"/>
<path d="M567.1 459.1l0.6 0.5l0.3 1.4l0 5l-2.2 20.2l-13.8 91.2l-11.9 83.9l-5.2 32.2l-4.7 21.8l-4.6 14.6l-2.4 5.2l-2.6 3.7l-2.6 2.2l-2.1 0.6l-3.3 -0.9l-3.3 -3.2l-3.3 -5.3l-3.1 -7.5l-2.8 -9.4l-2.6 -11.2l-3.6 -24.7l-1.7 -26.2l0.1 -28.5l2.3 -29.6l3.9 -26.4l4.9 -22.6l7.2 -23.6l7.7 -18.6l7.6 -14.1l4.6 -7l4.9 -6.2l5.1 -5.3l5.2 -4.3l5.4 -3.5l5.4 -2.5l5.5 -1.4l5.5 -0.5" fill="none" stroke="#3a3ab8" stroke-width="2.0" stroke-opacity="0.68" stroke-linejoin="round"/>
<path d="M567.6 457.5l4.8 0.5l4.9 1.5l3.6 1.7l4.8 3.2l4.8 4.1l4.6 5l4.5 5.9l4.3 6.8l7.1 13.6l7.2 18.1l6.1 20.4l4.9 22.1l4 26l2.4 26.4l1.1 28.7l-0.6 26.7l-2.4 27.9l-3.8 21.6l-2.3 8.1l-2.3 6l-2.5 3.8l-1.2 1.1l-1.6 0.7l-1.7 -0.4l-1.5 -1.4l-3.1 -5.6l-2.9 -9.4l-2.7 -12.8l-4.3 -27.3l-11.3 -88.2l-6.3 -43.1l-9.5 -53.5l-5.3 -24.8l-3.5 -13.4" fill="none" stroke="#3a3ab8" stroke-width="2.0" stroke-opacity="0.68" stroke-linejoin="round"/>
<path d="M567.9 459.8l2.9 1.5l3.4 4.4l3.9 7.3l4.1 9.9l4.4 12.4l4.4 14.6l7.8 31.9l6.4 33.2l5.2 34.5l3.7 31l8.2 77.8l2.5 12.4l1.3 3.1l1.2 0.9l1 -0.4l1 -1.3l1.8 -4.6l1.8 -7.5l1.6 -10.1l2.2 -25.1l0.6 -26.5l-0.8 -27l-2 -25.6l-3.4 -25.9l-4.3 -22.6l-5.5 -21.5l-6.4 -19.8l-7.4 -17.5l-7 -13.1l-7.5 -10.7l-4.4 -4.9l-4.4 -4l-7.8 -4.9l-4.4 -1.4l-4.3 -0.5" fill="none" stroke="#3a3ab8" stroke-width="2.0" stroke-opacity="0.68" stroke-linejoin="round"/>
<path d="M567.7 458.7l-2.2 0.3l-2.9 1.2l-2.8 2.1l-2.6 3.1l-4.1 7.7l-4.1 12l-3.2 15l-2.5 17.8l-1.7 20l-0.9 21.7l-0.3 28.4l0.8 31.5l1.7 30.4l2.5 27.4l3.2 23.2l3.6 17.5l2.1 6.9l1.9 4.2l2.2 3.1l1.9 0.9l1.9 -0.6l1.9 -2.2l1.9 -3.5l2.3 -6.3l3.6 -14.7l3.6 -21.7l3.3 -26.4l3 -32.5l2 -31.5l1.2 -31.4l0.3 -24.4l-0.5 -20l-1.2 -17.8l-2 -15l-2.7 -12l-3.1 -7.7l-3.7 -4.8l-2.4 -1.4l-2.5 -0.5" fill="none" stroke="#3a3ab8" stroke-width="2.0" stroke-opacity="0.68" stroke-linejoin="round"/>
<path d="M567.2 456.8l-3.9 0.5l-4.1 1.5l-4.2 2.5l-4.3 3.4l-8.7 9.7l-7.5 11.3l-8.4 15.9l-7.8 18.6l-6.3 18.1l-5.6 19.4l-4.7 20.3l-4.3 23.7l-3.1 23.5l-2 22.8l-1.1 24l-0.1 25.5l0.9 24.8l1.7 16.8l0.1 -54.9l1 -22.6l1.6 -22l2.6 -23.1l3.1 -20.8l3.9 -20.6l4.8 -20.2l6.4 -21.9l7.2 -20l6.7 -15.6l6.9 -13.5l7.1 -10.9l8.1 -9.3l3.9 -3.2l3.8 -2.2l3.7 -1.2l2.6 -0.3" fill="none" stroke="#3a3ab8" stroke-width="2.0" stroke-opacity="0.68" stroke-linejoin="round"/>
<path d="M567.2 458.4l3.4 0.5l3.2 1.5l3.1 2.4l3.4 4.4l2.5 4.5l2.2 5.5l4 15.2l2.8 19l1.5 22.1l0.2 24.4l-0.9 28.7l-2.3 32l-3.1 28.3l-4.1 26l-5 22.7l-5.9 18.5l-3.3 7.3l-2.7 4.9l-3.6 4.8l-2.9 2.8l-3.8 2.1l-3 0.6l-4.6 -0.9l-3.8 -2.4l-3.8 -4l-3.6 -5.4l-3.4 -6.8l-3.2 -8.1l-5.8 -19.8l-4.8 -26.4l-2.8 -27l-1.1 -28.8l0.6 -29.1l2.2 -25.6l3.7 -23.9l5.1 -21.5l5.8 -16.4l4.2 -8.7l3.6 -6.1l4 -5.2l4.1 -4.3l4.3 -3.4l4.6 -2.4l4.7 -1.5l4.8 -0.5" fill="none" stroke="#3a3ab8" stroke-width="2.0" stroke-opacity="0.68" stroke-linejoin="round"/>
<path d="M567.7 456.8l5.4 0.5l5.5 1.4l5.4 2.5l5.4 3.4l9.3 8.2l5.1 5.9l4.9 6.7l9.1 15.8l8 18.5l6.7 20.6l5.1 22.2l4.1 26.2l2.2 26.4l0.4 25.8l-1.3 26.7l-3.3 25.8l-2.4 12l-2.7 10.2l-2.8 8.4l-3.5 7.2l-2.9 3.8l-1.5 1.1l-1.8 0.6l-1.4 -0.1l-1.7 -1.2l-3.1 -5.1l-2.7 -8.9l-2.4 -12.4l-3 -24.5l-6.1 -63.6l-3.5 -32.2l-4.7 -34.6l-5 -29.4l-5.5 -25.6l-5.8 -22l-5.5 -15.1l-2 -3.7l-1.8 -1.5" fill="none" stroke="#3a3ab8" stroke-width="2.0" stroke-opacity="0.68" stroke-linejoin="round"/>
<path d="M567.9 460.1l-0.5 1.1l0.1 3.4l1.7 13l12.1 69.3l18.3 114.9l6 34.2l4.2 19.6l4.4 14.5l2.2 5.2l2.2 3.7l2.3 2.1l1.8 0.7l1.4 -0.2l1.8 -1.1l2.6 -3.6l2.5 -5.6l2.4 -7.8l2.1 -9.7l1.8 -11.5l2.5 -27.6l0.7 -29.4l-1.2 -28.9l-2.9 -29.5l-4.2 -26.1l-5.1 -22l-6.5 -20.3l-7.7 -17.9l-7.5 -13.4l-4.6 -6.6l-4.8 -5.7l-8.8 -7.9l-5.2 -3.2l-3.9 -1.7l-5.3 -1.5l-5.2 -0.5" fill="none" stroke="#3a3ab8" stroke-width="2.0" stroke-opacity="0.68" stroke-linejoin="round"/>
<path d="M567.6 456.7l-5.6 0.5l-5.6 1.5l-5.4 2.4l-5.3 3.4l-5.1 4.4l-4.9 5.2l-4.7 6.1l-5.5 8.8l-4.1 7.9l-4.7 10.8l-7.1 21.9l-4.9 21.5l-3.7 25.7l-1.7 26.4l0.4 29l2.7 27.4l2.2 12.7l2.6 12l3 10.9l3.4 9.9l3.8 8.6l4.7 8.7l4.1 5.7l4.2 4.3l4.3 2.7l5.1 1.3l3.3 -0.4l3.2 -1.3l2.4 -1.7l3 -3l5 -7.6l4.4 -10.3l3.8 -12.8l3.7 -17.4l3 -19.7l2.8 -24.4l2.7 -34.6l2 -38l1 -38.1l-0.4 -23.8l-1.4 -19.7l-2.5 -14.7l-1.8 -5.3l-2 -3.8l-2.3 -2.3l-2.6 -0.8" fill="none" stroke="#3a3ab8" stroke-width="2.0" stroke-opacity="0.68" stroke-linejoin="round"/>
<path d="M567.1 454.4l-1.9 1.5l-2.2 4.5l-4.9 16l-4.7 22.6l-4.5 28.6l-3.5 30l-2.7 35l-1.4 32.2l-1.8 62.6l-1.3 19.9l-1.7 12.5l-2.1 8l-1.5 3.3l-1.6 2.4l-1.3 1.1l-2 0.6l-2.1 -0.4l-1.6 -0.9l-3.6 -3.5l-3.6 -5.7l-3.8 -7.7l-3.6 -9.7l-3.6 -11.4l-3.2 -13.1l-2.3 -11.9l-3.4 -26.3l-1.3 -25.6l0.7 -26.4l2.5 -23.5l4 -22.7l5.8 -21.4l4.2 -12.4l3.8 -9.2l8.4 -16.6l4.5 -7.1l4.9 -6.4l4.9 -5.4l5.2 -4.6l5.2 -3.7l6.7 -3.2l5.3 -1.5l5.3 -0.5" fill="none" stroke="#3a3ab8" stroke-width="2.0" stroke-opacity="0.68" stroke-linejoin="round"/>
<path d="M567.3 459.5l6 0.8l4.6 1.7l4.5 2.7l4.4 3.6l4.1 4.5l4 5.4l3.7 6.2l4.3 8.9l3.1 8l3.5 10.9l5.2 22l3.6 24.2l1.9 25.6l0.4 26.1l-1.4 28.4l-3.2 26.6l-4.9 23.7l-3 10.4l-3.4 9.3l-3.7 8.1l-3.9 6.7l-4.1 5.4l-4.2 3.9l-4.3 2.4l-4.3 0.9l-4.2 -0.6l-3.3 -1.6l-3.2 -2.5l-3.1 -3.5l-5.7 -9.7l-5.7 -14.9l-4.7 -18.7l-3.8 -21.8l-2.8 -24.1l-1.9 -28.4l-0.7 -31.9l0.7 -30.8l1.7 -25.8l3 -22.3l4.1 -18.1l2.6 -7.1l2.3 -4.8l3.1 -4.6l2.6 -2.7l3.6 -2l3 -0.5" fill="none" stroke="#3a3ab8" stroke-width="2.0" stroke-opacity="0.68" stroke-linejoin="round"/>
<path d="M567.8 458.2l3.1 0.5l3.3 1.4l5.9 4.9l7 9.1l6.1 10.7l6 13.2l5.7 15.3l5.4 17.1l5.5 21.3l4.2 19.7l4 23.1l3.2 23.2l2.4 22.6l1.9 26.5l1.1 25.5l0.3 26.3l-0.7 16.6l-3.2 -61.1l-3.7 -42.2l-2.8 -22.9l-3.1 -20.3l-3.7 -20.2l-4.3 -19.6l-4.7 -18.5l-5.1 -17.1l-5.5 -15.3l-6.4 -14.9l-5.6 -10.4l-5.5 -7.7l-5.3 -4.9l-2.8 -1.4l-2.6 -0.5" fill="none" stroke="#3a3ab8" stroke-width="2.0" stroke-opacity="0.68" stroke-linejoin="round"/>
<path d="M567.8 461.4l-3 0.5l-3.5 1.9l-3.4 3.5l-3.1 4.9l-2.3 4.9l-2.6 7.4l-4.3 18.3l-3.5 25.1l-2.1 28.8l-0.8 31l0.6 28.7l1.6 25.3l2.8 23.7l3.8 21.3l4.4 16.3l3.2 8.7l2.8 6.1l3 5.2l3.2 4.4l3.3 3.5l3.6 2.5l3.6 1.6l3.7 0.6l4.8 -0.6l4.7 -2.2l4.8 -3.5l4.6 -5.1l4.4 -6.4l4.2 -7.7l3.8 -9l3.5 -10.1l5.2 -20.7l3.9 -25.9l1.8 -28l-0.2 -28.7l-2 -25.5l-3.8 -24.2l-5.5 -22.1l-3.7 -11l-3.4 -8.1l-4.5 -9l-3.9 -6.4l-5.2 -6.9l-4.5 -4.4l-4.6 -3.6l-4.7 -2.7l-4.9 -1.6l-6.3 -0.8" fill="none" stroke="#3a3ab8" stroke-width="2.0" stroke-opacity="0.68" stroke-linejoin="round"/>
<path d="M567.4 454.6l-2.7 0.2l-3.7 1.3l-3.6 2.3l-3.6 3.2l-6.2 8.1l-6.7 12.5l-5.4 13.7l-5.5 18.3l-4.2 18.1l-4.1 22.3l-3.5 26.5l-2.5 27.2l-1.5 29.7l-0.4 30.7l0.8 29.1l2 22.8l1.2 8.6l1.7 7.4l1.6 4l1.9 1.8l1.2 -0.4l1.4 -1.9l2.7 -7.3l2.7 -12.2l3.1 -18.5l18.1 -135.9l13.8 -96.5l1.3 -11.3l-0.2 -3.8" fill="none" stroke="#3a3ab8" stroke-width="2.0" stroke-opacity="0.68" stroke-linejoin="round"/>
<path d="M567.1 454.4l2 0.8l1.7 2.4l1.4 3.8l1.2 5.4l1.5 14.9l0.6 20l-0.3 29.3l-1.2 33.5l-2.6 44.5l-3 37.6l-4.7 38.7l-2.8 15.2l-3.3 13l-3.7 10.4l-4.1 7.7l-4.5 4.8l-2 1.1l-2.8 0.7l-4.2 -1l-3.6 -2.5l-4.2 -5l-3.5 -5.8l-3.9 -8.8l-3.1 -8.7l-5.3 -21.1l-4 -25l-2.2 -27.9l-0.2 -29.4l1.7 -26.7l3.4 -26.1l4.9 -24.4l6.6 -21.9l7.1 -16.7l4.9 -8.9l4.2 -6.2l4.4 -5.3l4.6 -4.4l4.7 -3.5l4.9 -2.5l4.9 -1.5l4.9 -0.5" fill="none" stroke="#3a3ab8" stroke-width="2.0" stroke-opacity="0.68" stroke-linejoin="round"/>
<circle cx="567.5" cy="468.4" r="6.3" fill="url(#gm2)"/>
<line x1="489.4" y1="454.5" x2="489.4" y2="743.1" stroke="#8c8c8c" stroke-width="1.1" />
<line x1="489.4" y1="743.1" x2="647.5" y2="743.1" stroke="#333" stroke-width="0.8" />
<line x1="490.0" y1="743.1" x2="490.0" y2="739.6" stroke="#333" stroke-width="0.8" />
<line x1="567.5" y1="743.1" x2="567.5" y2="739.6" stroke="#333" stroke-width="0.8" />
<line x1="645.0" y1="743.1" x2="645.0" y2="739.6" stroke="#333" stroke-width="0.8" />
<line x1="489.4" y1="467.6" x2="492.9" y2="467.6" stroke="#333" stroke-width="0.8" />
<text x="472.2" y="472.7" font-size="20" textLength="10.8" lengthAdjust="spacingAndGlyphs">0</text>
<line x1="489.4" y1="505.7" x2="492.9" y2="505.7" stroke="#333" stroke-width="0.8" />
<text x="465.1" y="510.8" font-size="20" textLength="17.6" lengthAdjust="spacingAndGlyphs">-1</text>
<line x1="489.4" y1="543.8" x2="492.9" y2="543.8" stroke="#333" stroke-width="0.8" />
<text x="465.1" y="548.9" font-size="20" textLength="17.6" lengthAdjust="spacingAndGlyphs">-2</text>
<line x1="489.4" y1="581.9" x2="492.9" y2="581.9" stroke="#333" stroke-width="0.8" />
<text x="465.1" y="587.0" font-size="20" textLength="17.6" lengthAdjust="spacingAndGlyphs">-3</text>
<line x1="489.4" y1="620.0" x2="492.9" y2="620.0" stroke="#333" stroke-width="0.8" />
<text x="465.1" y="625.1" font-size="20" textLength="17.6" lengthAdjust="spacingAndGlyphs">-4</text>
<line x1="489.4" y1="658.1" x2="492.9" y2="658.1" stroke="#333" stroke-width="0.8" />
<text x="465.1" y="663.2" font-size="20" textLength="17.6" lengthAdjust="spacingAndGlyphs">-5</text>
<line x1="489.4" y1="696.1" x2="492.9" y2="696.1" stroke="#333" stroke-width="0.8" />
<text x="465.1" y="701.2" font-size="20" textLength="17.6" lengthAdjust="spacingAndGlyphs">-6</text>
<line x1="489.4" y1="734.2" x2="492.9" y2="734.2" stroke="#333" stroke-width="0.8" />
<text x="465.1" y="739.3" font-size="20" textLength="17.6" lengthAdjust="spacingAndGlyphs">-7</text>
<text x="482.4" y="767.2" font-size="20" textLength="17.6" lengthAdjust="spacingAndGlyphs">-2</text>
<text x="562.0" y="767.2" font-size="20" textLength="11.0" lengthAdjust="spacingAndGlyphs">0</text>
<text x="638.3" y="767.2" font-size="20" textLength="10.1" lengthAdjust="spacingAndGlyphs">2</text>
<text x="490.9" y="447.0" font-size="19.5" textLength="40.0" lengthAdjust="spacingAndGlyphs">&#215;10<tspan dy="-9.8" font-size="13.3">4</tspan></text>
<text x="606.7" y="791.6" font-size="19.5" textLength="40.0" lengthAdjust="spacingAndGlyphs">&#215;10<tspan dy="-9.8" font-size="13.3">4</tspan></text>
<text transform="translate(454.6,627.2) rotate(-90)" font-size="21" textLength="54.9" lengthAdjust="spacingAndGlyphs">z [km]</text>
<text x="537.9" y="792.2" font-size="21" textLength="59.3" lengthAdjust="spacingAndGlyphs">y [km]</text>
<text x="430.7" y="822.8" font-size="20" textLength="226.2" lengthAdjust="spacingAndGlyphs"><tspan font-weight="bold">(d)</tspan> Sun–Moon Rotating</text>
<text x="430.4" y="846.6" font-size="20" textLength="62.8" lengthAdjust="spacingAndGlyphs">Frame</text>
<text x="616.4" y="458.4" font-size="18" textLength="44.4" lengthAdjust="spacingAndGlyphs">Moon</text>
<line x1="611.5" y1="450.5" x2="590.8" y2="459.1" stroke="#000" stroke-width="0.8" />
<path d="M582.5 462.5 L592.3 453.5 L590.8 459.1 L595.8 462.0 Z" fill="#000"/>
<line x1="144.8" y1="1006.4" x2="442.9" y2="938.4" stroke="#e3e3e3" stroke-width="0.7" />
<line x1="186.9" y1="1036.2" x2="485.0" y2="968.2" stroke="#e3e3e3" stroke-width="0.7" />
<line x1="229.0" y1="1066.0" x2="527.1" y2="998.0" stroke="#e3e3e3" stroke-width="0.7" />
<line x1="271.1" y1="1095.8" x2="569.2" y2="1027.8" stroke="#e3e3e3" stroke-width="0.7" />
<line x1="313.2" y1="1125.6" x2="611.3" y2="1057.6" stroke="#e3e3e3" stroke-width="0.7" />
<line x1="117.5" y1="985.0" x2="329.1" y2="1134.7" stroke="#e3e3e3" stroke-width="0.7" />
<line x1="191.2" y1="968.2" x2="402.8" y2="1117.9" stroke="#e3e3e3" stroke-width="0.7" />
<line x1="264.9" y1="951.4" x2="476.5" y2="1101.1" stroke="#e3e3e3" stroke-width="0.7" />
<line x1="338.6" y1="934.6" x2="550.2" y2="1084.3" stroke="#e3e3e3" stroke-width="0.7" />
<line x1="412.3" y1="917.8" x2="623.9" y2="1067.5" stroke="#e3e3e3" stroke-width="0.7" />
<line x1="413.4" y1="917.5" x2="625.0" y2="1067.3" stroke="#e3e3e3" stroke-width="0.7" />
<line x1="117.5" y1="985.0" x2="117.5" y2="929.1" stroke="#e3e3e3" stroke-width="0.7" />
<line x1="191.2" y1="968.2" x2="191.2" y2="912.3" stroke="#e3e3e3" stroke-width="0.7" />
<line x1="264.9" y1="951.4" x2="264.9" y2="895.5" stroke="#e3e3e3" stroke-width="0.7" />
<line x1="338.6" y1="934.6" x2="338.6" y2="878.7" stroke="#e3e3e3" stroke-width="0.7" />
<line x1="412.3" y1="917.8" x2="412.3" y2="861.9" stroke="#e3e3e3" stroke-width="0.7" />
<line x1="115.3" y1="943.1" x2="413.4" y2="875.1" stroke="#e3e3e3" stroke-width="0.7" />
<line x1="115.3" y1="962.4" x2="413.4" y2="894.4" stroke="#e3e3e3" stroke-width="0.7" />
<line x1="115.3" y1="982.1" x2="413.4" y2="914.1" stroke="#e3e3e3" stroke-width="0.7" />
<line x1="413.4" y1="917.5" x2="413.4" y2="861.6" stroke="#e3e3e3" stroke-width="0.7" />
<line x1="115.3" y1="929.6" x2="413.4" y2="861.6" stroke="#e3e3e3" stroke-width="0.7" />
<line x1="442.9" y1="938.4" x2="442.9" y2="882.5" stroke="#e3e3e3" stroke-width="0.7" />
<line x1="485.0" y1="968.2" x2="485.0" y2="912.3" stroke="#e3e3e3" stroke-width="0.7" />
<line x1="527.1" y1="998.0" x2="527.1" y2="942.1" stroke="#e3e3e3" stroke-width="0.7" />
<line x1="569.2" y1="1027.8" x2="569.2" y2="971.9" stroke="#e3e3e3" stroke-width="0.7" />
<line x1="611.3" y1="1057.6" x2="611.3" y2="1001.7" stroke="#e3e3e3" stroke-width="0.7" />
<line x1="413.4" y1="875.1" x2="625.0" y2="1024.9" stroke="#e3e3e3" stroke-width="0.7" />
<line x1="413.4" y1="894.4" x2="625.0" y2="1044.2" stroke="#e3e3e3" stroke-width="0.7" />
<line x1="413.4" y1="914.1" x2="625.0" y2="1063.9" stroke="#e3e3e3" stroke-width="0.7" />
<line x1="625.0" y1="1067.3" x2="625.0" y2="1011.4" stroke="#e3e3e3" stroke-width="0.7" />
<line x1="413.4" y1="861.6" x2="625.0" y2="1011.4" stroke="#e3e3e3" stroke-width="0.7" />
<path d="M480.9 1004.7l2.4 -0.3l9.2 2.5l6.5 0.7l6.6 -0.6l5.9 -1.8l5.4 -3.3l4.3 -4.8l2.4 -5.7l0.8 -6.6l-0.7 -6.1l-1.9 -6.4l-3.3 -7.2l-4.3 -7.2l-5.8 -8.3l-7.8 -10l-17.3 -20.9l-3.8 -3.5" fill="none" stroke="#3a3ab8" stroke-width="2.4" stroke-opacity="0.68" stroke-linejoin="round"/>
<path d="M479.5 915.6l-2.6 -0.1l-8.3 3.6l-7.6 2.2l-17.7 2.7l-29.5 2.1l-44.8 1.4l-33.2 0.1l-24.8 -1.1l-16.2 -2.2l-7.5 -1.8l-9.6 -3.1l-3.4 -0.1" fill="none" stroke="#3a3ab8" stroke-width="2.4" stroke-opacity="0.68" stroke-linejoin="round"/>
<path d="M274.3 918.5l-4.2 2.6l-18 16l-34.5 29.1l-11.7 10.8l-8.5 8.7l-4.6 5.7l-3.1 4.8l-1.7 4.1l-0.2 3l1.2 1.8l2.4 0.3l3.1 -1l5.1 -3l1.5 0.3" fill="none" stroke="#3a3ab8" stroke-width="2.4" stroke-opacity="0.68" stroke-linejoin="round"/>
<path d="M201.1 1001.8l1.1 2.4l3.8 13.4l3.5 8.2l5.4 8.3l7.2 7.9l9 6.8l10.3 5.5l12.1 4.2l12.3 2.7l14.5 1.3l14.9 -0.2l14.6 -1.7l14.9 -3.2l13.4 -4.3l12.2 -5.2l11.5 -6.5l15.2 -10.2l4.5 -1.7" fill="none" stroke="#3a3ab8" stroke-width="2.4" stroke-opacity="0.68" stroke-linejoin="round"/>
<path d="M381.5 1029.5l3.2 0.6l13.6 6.4l9.4 3l12 2.3l13.3 0.8l13.6 -0.6l14 -2.4l12.7 -3.8l11.8 -5.2l9.5 -5.9l8.6 -7.4l6.6 -8.1l4.7 -8.3l3.4 -9.6l1.6 -10.2l0.2 -10.7l-1.2 -14.1" fill="none" stroke="#3a3ab8" stroke-width="2.4" stroke-opacity="0.68" stroke-linejoin="round"/>
<path d="M518.5 956.3l0.3 -0.5l0.7 1.6l-0.5 1.5l-4.7 -0.7l-76.1 -25.7l-25.5 -9.7l-11.7 -5.4l-14.6 -7.6l-4.6 -1.3" fill="none" stroke="#3a3ab8" stroke-width="2.4" stroke-opacity="0.68" stroke-linejoin="round"/>
<path d="M381.8 908.4l-3.8 1.1l-12.1 7.1l-9.8 4.9l-19.6 8.3l-30.1 10.4l-36.5 10.9l-28.4 7.4l-19.3 3.5l-6.1 0.3l-5 -0.4l-4 -1.3l-3.5 -2.6l-1 0.3" fill="none" stroke="#3a3ab8" stroke-width="2.4" stroke-opacity="0.68" stroke-linejoin="round"/>
<path d="M202.6 958.7l-4.2 8.4l-6.5 16.1l-3 9.7l-1.8 8.9l-0.2 7.6l1.1 6.6l2.5 6l4.2 5.2l6.1 4.5l7.6 3.2l9.3 1.8l9.7 0.2l9.4 -1l9.8 -2.4l8.9 -3.3l11.3 -5.8l2.7 -0.4" fill="none" stroke="#3a3ab8" stroke-width="2.4" stroke-opacity="0.68" stroke-linejoin="round"/>
<path d="M269.5 1023.8l3.4 1.8l12.3 10.1l8.6 5.4l11.6 5.4l12.5 4.2l14.6 3.3l16.4 1.9l16.2 0.2l16.6 -1.2l16.3 -2.7l15.4 -4l14 -5.2l13.1 -6.5l11.5 -7.4l9.5 -8l6.8 -7.3l9.3 -12.8l2.5 -2.3" fill="none" stroke="#3a3ab8" stroke-width="2.4" stroke-opacity="0.68" stroke-linejoin="round"/>
<path d="M480.1 998.1l2.3 0.1l8.7 3.7l6.5 1.7l6.6 0.5l5.9 -0.6l5.3 -1.9l4.2 -3.3l2.4 -4.2l0.6 -5.1l-0.8 -4.4l-2 -5.3l-3 -5.5l-3.9 -5.7l-10.2 -12.3l-23.1 -26.1l-2.8 -2.4" fill="none" stroke="#3a3ab8" stroke-width="2.4" stroke-opacity="0.68" stroke-linejoin="round"/>
<path d="M476.8 927.4l-2 0.1l-7.4 4.3l-6.9 2.7l-7.6 2.1l-9.8 1.7l-12.2 1.4l-15.4 1l-36.1 0.5l-35.7 -1.4l-29 -3.1l-10.5 -1.8l-9.2 -2.3l-8.7 -3l-9.5 -4.4l-2.8 -0.3" fill="none" stroke="#3a3ab8" stroke-width="2.4" stroke-opacity="0.68" stroke-linejoin="round"/>
<path d="M274 925.3l-2.5 1l-3.2 2.2l-22.5 18l-38.6 28.2l-13.3 10.5l-6.6 6.5l-1.6 2.3l-0.2 1.4l0.9 0.3l1.9 -0.6l7.4 -4.4l1.1 -0.1l1 0.5" fill="none" stroke="#3a3ab8" stroke-width="2.4" stroke-opacity="0.68" stroke-linejoin="round"/>
<path d="M197.8 991.1l1.2 2.4l4 12.7l3.7 7.9l5.4 8l7.4 7.6l9.2 6.6l10.4 5.4l12.2 4.3l13.7 3l14.6 1.6l15 0.2l15.9 -1.4l14.9 -2.8l13.2 -3.8l12 -4.7l11.4 -5.8l14.8 -9.4l4.7 -1.6" fill="none" stroke="#3a3ab8" stroke-width="2.4" stroke-opacity="0.68" stroke-linejoin="round"/>
<path d="M381.5 1021.5l4.5 0.9l14.3 6.9l11 4.1l11.3 2.8l12.1 1.9l13.1 0.6l13.4 -0.9l12.1 -2.2l11 -3.6l9 -4.4l8 -5.7l6.2 -6.6l4.7 -7.6l2.9 -8.3l1.4 -9.1l0 -9.9l-1.6 -13.7" fill="none" stroke="#3a3ab8" stroke-width="2.4" stroke-opacity="0.68" stroke-linejoin="round"/>
<path d="M514.9 966.6l0.1 -0.5l0.3 0.4l0.6 2.2l-0.6 2l-1.9 0.6l-3.6 -0.4l-13.7 -4.1l-28.6 -10l-26.1 -9.9l-20.4 -8.7l-17.6 -8.6l-17.7 -10.3l-4 -1.3" fill="none" stroke="#3a3ab8" stroke-width="2.4" stroke-opacity="0.68" stroke-linejoin="round"/>
<path d="M381.7 918.2l-4.2 0.9l-12.6 6l-9.8 4l-18.6 6l-27.6 6.8l-33.3 6.4l-31.5 4.5l-22.1 1.6l-7.3 -0.3l-5.3 -0.8l-4.5 -1.6l-4.3 -3.1l-1.3 0.3" fill="none" stroke="#3a3ab8" stroke-width="2.4" stroke-opacity="0.68" stroke-linejoin="round"/>
<path d="M199.3 948.8l-4.9 9l-6.7 14.5l-3.2 9l-1.7 7.8l-0.2 7.2l1.1 6.4l2.8 5.8l4.4 5.2l6.5 4.6l8.1 3.4l9.8 2.3l10.2 0.7l9.8 -0.6l10.1 -1.8l9.7 -3.1l11.1 -5l2.8 -0.4" fill="none" stroke="#3a3ab8" stroke-width="2.4" stroke-opacity="0.68" stroke-linejoin="round"/>
<path d="M269 1013.6l3.6 1.8l12.5 10.9l10 7l11.8 6.4l12.7 5.1l14.8 4.4l16.5 3.1l16.1 1.5l16.3 0l16 -1.4l14.9 -2.8l14.4 -4.3l12.3 -5.4l10.1 -6l8.8 -7.1l7 -7.6l8.4 -11.6l2.4 -1.9" fill="none" stroke="#3a3ab8" stroke-width="2.4" stroke-opacity="0.68" stroke-linejoin="round"/>
<path d="M477.6 1005.8l1.4 -0.3l1.9 0.4l10.3 4.5l6.8 2.2l5.7 0.9l5.2 0.1l5 -1.1l3.7 -2.3l2.3 -3.4l0.7 -4.5l-0.7 -4.5l-1.9 -5l-3.2 -6l-4.5 -6.8l-8.8 -11.4l-18.3 -21.7l-4.7 -5.3l-2.9 -2.1" fill="none" stroke="#3a3ab8" stroke-width="2.4" stroke-opacity="0.68" stroke-linejoin="round"/>
<path d="M475.6 939.3l-2.9 -0.2l-8.6 3.5l-7 1.9l-7.1 1.1l-8.9 0.8l-24.3 -0.1l-30.6 -2.5l-35.1 -4.7l-30.1 -5.9l-20.2 -5.5l-10.6 -3.9l-13.2 -5.9l-2.4 -0.6l-2.1 0.1" fill="none" stroke="#3a3ab8" stroke-width="2.4" stroke-opacity="0.68" stroke-linejoin="round"/>
<path d="M272.5 917.7l-4.3 2l-24.5 16.5l-39.8 23.8l-14.8 10.4l-4.5 4l-3 3.4l-1.4 2.9l0.2 1.9l1.5 0.9l2.5 -0.1l3.6 -1.1l6 -3l1.1 -0.1l0.8 0.4" fill="none" stroke="#3a3ab8" stroke-width="2.4" stroke-opacity="0.68" stroke-linejoin="round"/>
<path d="M195.9 979.3l1.2 2.2l4.3 12.7l4.2 8.6l5.9 8.6l7.8 8.3l9.5 7.5l10.8 6.4l12.4 5.4l13.9 4.3l14.7 3l16.2 1.5l15.8 -0.1l14.6 -1.5l12.9 -2.7l12.4 -3.9l10.7 -4.9l13.6 -7.8l4.2 -1.3" fill="none" stroke="#3a3ab8" stroke-width="2.4" stroke-opacity="0.68" stroke-linejoin="round"/>
<path d="M381 1025.4l4.9 1.1l14.9 7.7l11 4.6l11 3.4l10.7 2.3l12.4 1.4l12.6 0.1l11.3 -1.5l10.5 -2.7l8.4 -3.8l7.8 -5.2l6 -6l4.8 -7.3l3.2 -8.1l2 -9.1l0.6 -9.9l-0.5 -13.6" fill="none" stroke="#3a3ab8" stroke-width="2.4" stroke-opacity="0.68" stroke-linejoin="round"/>
<path d="M512.6 979.4l0.2 -0.5l0.4 1.6l-0.3 1.6l-1 0.5l-1.7 -0.2l-5.8 -2.3l-12.2 -6l-63.6 -33.2l-20.5 -12l-20.7 -13.6l-3 -1.5l-2.3 -0.6" fill="none" stroke="#3a3ab8" stroke-width="2.4" stroke-opacity="0.68" stroke-linejoin="round"/>
<path d="M382.1 913l-3.7 0.6l-10.2 4.3l-8.3 2.9l-17.4 4.5l-25.6 4.6l-33.9 4.6l-41.4 4.4l-23.2 1.4l-7.1 -0.2l-5.5 -0.8l-4.1 -1.6l-3.8 -2.8l-1.1 0.3" fill="none" stroke="#3a3ab8" stroke-width="2.4" stroke-opacity="0.68" stroke-linejoin="round"/>
<path d="M196.8 935.6l-4.2 8.1l-5.9 15l-2.8 10l-1.3 9l0.1 7.8l1.6 7.7l3 6.8l4.5 6.1l6.4 5.7l8.5 5l9.5 3.4l9.8 1.9l9.5 0.5l9.8 -0.7l9.1 -1.9l12 -3.9l3.7 -0.1" fill="none" stroke="#3a3ab8" stroke-width="2.4" stroke-opacity="0.68" stroke-linejoin="round"/>
<path d="M270.1 1015.3l2.6 1.7l11.7 11.9l8.6 6.9l11.5 7.4l13.6 6.7l14.9 5.5l16.7 4.3l16.3 2.5l16.5 1l16.1 -0.6l15.1 -2.2l13.5 -3.6l12.5 -5.1l10.9 -6.3l8.7 -7.1l6.5 -7.1l7.7 -11.5l1.7 -1.7" fill="none" stroke="#3a3ab8" stroke-width="2.4" stroke-opacity="0.68" stroke-linejoin="round"/>
<path d="M475.2 1018l3 0.1l9.5 4.4l6.5 2.1l5.9 0.9l5.6 -0.3l5 -1.7l3.9 -3.3l2.4 -4.5l0.7 -5.3l-0.5 -5.5l-1.8 -6.8l-2.9 -7.3l-4.6 -8.9l-7.8 -12.7l-11.9 -17.4l-7.8 -10.8l-3.5 -3.4" fill="none" stroke="#3a3ab8" stroke-width="2.4" stroke-opacity="0.68" stroke-linejoin="round"/>
<circle cx="353.3" cy="969.2" r="1.6" fill="#3535c4"/>
<line x1="353.6" y1="969.4" x2="476.5" y2="1055.2" stroke="#7c7c7c" stroke-width="5.2" stroke-linecap="round"/>
<line x1="353.6" y1="968.6" x2="476.5" y2="1054.4" stroke="#9a9a9a" stroke-width="1.6" stroke-linecap="round" opacity="0.6"/>
<line x1="115.3" y1="985.5" x2="115.3" y2="929.6" stroke="#333" stroke-width="0.8" />
<line x1="115.3" y1="985.5" x2="326.9" y2="1135.2" stroke="#333" stroke-width="0.8" />
<line x1="326.9" y1="1135.2" x2="625.0" y2="1067.3" stroke="#333" stroke-width="0.8" />
<line x1="115.3" y1="943.1" x2="109.2" y2="938.8" stroke="#333" stroke-width="0.8" />
<line x1="115.3" y1="962.4" x2="109.2" y2="958.1" stroke="#333" stroke-width="0.8" />
<line x1="115.3" y1="982.1" x2="109.2" y2="977.8" stroke="#333" stroke-width="0.8" />
<line x1="144.8" y1="1006.4" x2="137.5" y2="1008.0" stroke="#333" stroke-width="0.8" />
<line x1="186.9" y1="1036.2" x2="179.6" y2="1037.8" stroke="#333" stroke-width="0.8" />
<line x1="229.0" y1="1066.0" x2="221.7" y2="1067.6" stroke="#333" stroke-width="0.8" />
<line x1="271.1" y1="1095.8" x2="263.8" y2="1097.4" stroke="#333" stroke-width="0.8" />
<line x1="313.2" y1="1125.6" x2="305.9" y2="1127.2" stroke="#333" stroke-width="0.8" />
<line x1="329.1" y1="1134.7" x2="335.2" y2="1139.1" stroke="#333" stroke-width="0.8" />
<line x1="402.8" y1="1117.9" x2="408.9" y2="1122.3" stroke="#333" stroke-width="0.8" />
<line x1="476.5" y1="1101.1" x2="482.6" y2="1105.5" stroke="#333" stroke-width="0.8" />
<line x1="550.2" y1="1084.3" x2="556.3" y2="1088.7" stroke="#333" stroke-width="0.8" />
<line x1="623.9" y1="1067.5" x2="630.0" y2="1071.9" stroke="#333" stroke-width="0.8" />
<text transform="translate(53.8,992.0) rotate(-90)" font-size="26" textLength="66.8" lengthAdjust="spacingAndGlyphs">z [km]</text>
<text x="61.2" y="893.5" font-size="24" textLength="48.1" lengthAdjust="spacingAndGlyphs">&#215;10<tspan dy="-12.0" font-size="16.3">4</tspan></text>
<text x="89.7" y="940.8" font-size="24" textLength="12.6" lengthAdjust="spacingAndGlyphs">0</text>
<text x="76.9" y="960.2" font-size="24" textLength="25.4" lengthAdjust="spacingAndGlyphs">-5</text>
<text x="69.9" y="979.5" font-size="24" textLength="32.4" lengthAdjust="spacingAndGlyphs">-10</text>
<text x="75.8" y="1030.7" font-size="24" textLength="54.8" lengthAdjust="spacingAndGlyphs">1.494</text>
<text x="118.2" y="1059.9" font-size="24" textLength="54.7" lengthAdjust="spacingAndGlyphs">1.496</text>
<text x="160.5" y="1089.7" font-size="24" textLength="53.9" lengthAdjust="spacingAndGlyphs">1.498</text>
<text x="226.1" y="1118.2" font-size="24" textLength="30.7" lengthAdjust="spacingAndGlyphs">1.5</text>
<text x="244.5" y="1147.6" font-size="24" textLength="54.3" lengthAdjust="spacingAndGlyphs">1.502</text>
<text x="27.5" y="1078.6" font-size="24" textLength="49.3" lengthAdjust="spacingAndGlyphs">&#215;10<tspan dy="-12.0" font-size="16.3">8</tspan></text>
<text x="109.5" y="1152.8" font-size="26" textLength="72.8" lengthAdjust="spacingAndGlyphs">x [km]</text>
<text x="636.6" y="1093.8" font-size="24" textLength="13.1" lengthAdjust="spacingAndGlyphs">4</text>
<text x="562.2" y="1110.7" font-size="24" textLength="14.6" lengthAdjust="spacingAndGlyphs">2</text>
<text x="488.7" y="1127.1" font-size="24" textLength="13.6" lengthAdjust="spacingAndGlyphs">0</text>
<text x="414.3" y="1143.4" font-size="24" textLength="22.5" lengthAdjust="spacingAndGlyphs">-2</text>
<text x="339.8" y="1160.3" font-size="24" textLength="23.6" lengthAdjust="spacingAndGlyphs">-4</text>
<text x="607.2" y="1137.0" font-size="24" textLength="50.1" lengthAdjust="spacingAndGlyphs">&#215;10<tspan dy="-12.0" font-size="16.3">5</tspan></text>
<text x="455.4" y="1169.3" font-size="26" textLength="74.2" lengthAdjust="spacingAndGlyphs">y [km]</text>
<text x="196.0" y="1204.0" font-size="20" textLength="294.1" lengthAdjust="spacingAndGlyphs"><tspan font-weight="bold">(e)</tspan> Sun–Earth Rotating Frame</text>
<text x="326.4" y="884.3" font-size="22" textLength="48.6" lengthAdjust="spacingAndGlyphs">Earth</text>
<line x1="347.6" y1="888.5" x2="351.2" y2="956.3" stroke="#000" stroke-width="0.8" />
<path d="M351.8 967.4 L345.0 952.2 L351.2 956.3 L357.0 951.6 Z" fill="#000"/>
<text x="538.9" y="900.7" font-size="22" textLength="61.2" lengthAdjust="spacingAndGlyphs">Earth's</text>
<text x="533.9" y="925.8" font-size="22" textLength="70.9" lengthAdjust="spacingAndGlyphs">Shadow</text>
<line x1="527.0" y1="932.0" x2="425.2" y2="994.7" stroke="#000" stroke-width="0.8" />
<path d="M416.0 1000.4 L425.7 987.6 L425.2 994.7 L431.8 997.5 Z" fill="#000"/>
<line x1="256.0" y1="1070.5" x2="285.9" y2="1070.5" stroke="#000" stroke-width="0.8" />
<path d="M296.0 1070.5 L282.0 1076.0 L285.9 1070.5 L282.0 1065.0 Z" fill="#000"/>
<line x1="162.6" y1="1247.7" x2="162.6" y2="1323.4" stroke="#e3e3e3" stroke-width="0.7" />
<line x1="268.2" y1="1247.7" x2="268.2" y2="1323.4" stroke="#e3e3e3" stroke-width="0.7" />
<line x1="373.8" y1="1247.7" x2="373.8" y2="1323.4" stroke="#e3e3e3" stroke-width="0.7" />
<line x1="479.4" y1="1247.7" x2="479.4" y2="1323.4" stroke="#e3e3e3" stroke-width="0.7" />
<line x1="585.0" y1="1247.7" x2="585.0" y2="1323.4" stroke="#e3e3e3" stroke-width="0.7" />
<line x1="157.7" y1="1266.3" x2="586.0" y2="1266.3" stroke="#e3e3e3" stroke-width="0.7" />
<line x1="157.7" y1="1292.8" x2="586.0" y2="1292.8" stroke="#e3e3e3" stroke-width="0.7" />
<line x1="157.7" y1="1319.2" x2="586.0" y2="1319.2" stroke="#e3e3e3" stroke-width="0.7" />
<path d="M445 1255l2.1 0.2l2.7 1.1l14.9 8.4l11.5 5.3l11.5 4.4l12.1 3.7l15.3 3.7l15.7 2.7l14.8 1.5l12.2 0.1l8.4 -0.7l7.2 -1.8l4.8 -2.6l3 -3.6l1 -4.7l-0.8 -5.8l-3.6 -11.2l-2 -4.4l-1 -1.3" fill="none" stroke="#3a3ab8" stroke-width="2.4" stroke-opacity="0.68" stroke-linejoin="round"/>
<path d="M574.8 1250.6l-0.5 1l-2.1 10.8l-3.2 7.8l-5 7l-7.3 6.4l-9.4 5.5l-12.2 4.8l-13.6 3.5l-15.4 2.4l-16.6 1.3l-18.6 0l-18.3 -1.3l-18.3 -2.8l-15 -3.5l-13.5 -4.4l-11.9 -5.1l-15.4 -8.4l-4.7 -1.1" fill="none" stroke="#3a3ab8" stroke-width="2.4" stroke-opacity="0.68" stroke-linejoin="round"/>
<path d="M373.8 1273.3l-2.1 0.4l-2.6 1.3l-15.9 11l-13.2 7.7l-14 6.6l-15.4 6l-17.2 5.4l-18.2 4.3l-18.4 3l-16.3 1.3l-14.9 -0.2l-13 -1.5l-10.8 -2.9l-9.1 -4.2l-6.9 -5.5l-4.7 -6.4l-2.9 -7l-2.5 -11.6" fill="none" stroke="#3a3ab8" stroke-width="2.4" stroke-opacity="0.68" stroke-linejoin="round"/>
<path d="M175.7 1281.1l-1.1 1l-2.1 3.8l-5 11.4l-1.5 5.9l0.4 4l2.1 2.6l4.1 1.4l6.4 0.1l7.9 -1l11.5 -2.7l14.4 -4.4l14.3 -5.3l14.4 -6.1l13.5 -6.5l12.9 -7l28.7 -18.1l3.4 -1.6l2.8 -0.5" fill="none" stroke="#3a3ab8" stroke-width="2.4" stroke-opacity="0.68" stroke-linejoin="round"/>
<path d="M302.8 1258.1l3.5 0.9l13.2 8.2l11.9 5.6l14.6 4.9l15.8 3.9l20 3.3l20.8 2.1l22 0.9l22.1 -0.3l19.6 -1.3l19.4 -2.5l16.9 -3.5l13.8 -4.3l10.9 -4.9l9.1 -5.9l6.5 -6.1l7.1 -10.1l1.8 -1.1" fill="none" stroke="#3a3ab8" stroke-width="2.4" stroke-opacity="0.68" stroke-linejoin="round"/>
<path d="M551.8 1247.9l2.6 1.3l4.4 4.6l16.8 19.7l6.6 8.9l2.4 4.8l0.7 3.7l-1.1 3l-2.9 2.1l-5.7 1.3l-8.5 -0.2l-9.4 -1.6l-10.7 -2.9l-9 -3.4l-8.4 -3.8l-9.6 -5.2l-13.7 -8.9l-2.5 -1.1l-2.2 -0.4" fill="none" stroke="#3a3ab8" stroke-width="2.4" stroke-opacity="0.68" stroke-linejoin="round"/>
<path d="M501.6 1269.7l-3 1.4l-11.5 11.2l-11 8.4l-13 7.4l-14.2 6.3l-17 5.7l-19.4 4.6l-19.4 3.1l-20.1 1.7l-20.2 0.3l-19.3 -1.2l-19.3 -2.7l-16.9 -4l-14.2 -4.9l-12.8 -6.2l-10.9 -7.2l-11.3 -10.1l-2.8 -1.1" fill="none" stroke="#3a3ab8" stroke-width="2.4" stroke-opacity="0.68" stroke-linejoin="round"/>
<path d="M245.3 1282.9l-3.3 1.3l-11.4 8.8l-9.5 6.2l-8.9 4.8l-9.8 4.4l-11 3.8l-9.6 2.2l-8.7 0.7l-5.9 -1l-2.8 -1.8l-1.2 -2.7l0.4 -3.9l2 -4.7l5.9 -9.2l18.7 -25l2.9 -3.4l1.6 -1" fill="none" stroke="#3a3ab8" stroke-width="2.4" stroke-opacity="0.68" stroke-linejoin="round"/>
<path d="M194.7 1262.2l2 0.9l7.7 8.7l7.1 5.5l9.3 4.7l10.9 3.6l13.6 2.7l16.5 1.7l18.9 0.4l19.1 -0.7l21.5 -1.9l21.4 -3l20.4 -4l19.7 -5.1l14.6 -4.9l14.2 -5.7l12.9 -6.7l15.2 -9.7l2.6 -1.1l2.2 -0.4" fill="none" stroke="#3a3ab8" stroke-width="2.4" stroke-opacity="0.68" stroke-linejoin="round"/>
<path d="M444.5 1246.5l1.9 0.3l2.5 1.2l13.7 9.2l11 6.5l11.3 5.6l12 5.2l15.3 5.8l15.7 5l15.9 4.1l13.6 2.6l8 0.9l6.5 -0.1l4.2 -1.3l2.2 -2.2l0.5 -3.3l-1.1 -4.9l-4.9 -12l-2.2 -3.8" fill="none" stroke="#3a3ab8" stroke-width="2.4" stroke-opacity="0.68" stroke-linejoin="round"/>
<path d="M570.6 1265.3l-2.4 12.9l-3 8.5l-4.8 7.6l-7 7l-9.1 5.9l-10.9 4.5l-13 3.4l-15 2.1l-16.4 0.7l-18.4 -0.9l-18.3 -2.5l-17.1 -3.8l-15.3 -4.6l-14.7 -6l-12.6 -6.7l-14.9 -9.8l-3.9 -1.2" fill="none" stroke="#3a3ab8" stroke-width="2.4" stroke-opacity="0.68" stroke-linejoin="round"/>
<path d="M373.8 1282.9l-2.9 0.5l-3.6 1.4l-18.2 10.5l-13.9 6.7l-13.2 5l-14 4.2l-16.8 3.6l-17.8 2.3l-16.6 0.8l-16.1 -0.7l-14.8 -2l-13.2 -3.4l-11.1 -4.4l-9.7 -5.8l-7.6 -6.9l-5.5 -7.6l-3.6 -8l-3.1 -11.8l-0.8 -1.3" fill="none" stroke="#3a3ab8" stroke-width="2.4" stroke-opacity="0.68" stroke-linejoin="round"/>
<path d="M171.3 1266l-1 0.8l-1.8 3.2l-4.9 10.9l-1.3 5.4l0.6 3.7l2.6 2.4l4.5 1.3l6.7 0.1l8.3 -0.8l12.8 -2.5l14.9 -3.8l15.7 -4.8l14.5 -5.3l13.4 -5.7l12.8 -6.1l27.7 -16l3.1 -1.3l2.9 -0.5" fill="none" stroke="#3a3ab8" stroke-width="2.4" stroke-opacity="0.68" stroke-linejoin="round"/>
<path d="M302.8 1247.3l2.4 0.3l2.8 1.2l16.3 10l13.4 6.8l14.4 5.8l14.9 4.9l19.9 5.1l20.3 3.9l21.2 3l21.1 1.8l18.5 0.6l18.1 -0.6l14.5 -1.7l13 -2.7l10.2 -3.6l8.1 -4.5l6.7 -5.6l7.2 -8.9l2.2 -1.1" fill="none" stroke="#3a3ab8" stroke-width="2.4" stroke-opacity="0.68" stroke-linejoin="round"/>
<path d="M548 1261.8l2.5 1.6l4.2 4.9l16 21l6.8 10.3l2.4 5.2l0.7 4l-1 3.1l-2.4 1.9l-5.4 1l-7.4 -0.7l-8.8 -2.1l-10.3 -3.7l-8.8 -4l-8.8 -4.7l-9.2 -6l-13 -9.5l-2.3 -1.3l-2 -0.4" fill="none" stroke="#3a3ab8" stroke-width="2.4" stroke-opacity="0.68" stroke-linejoin="round"/>
<path d="M501.2 1282.7l-3.2 1.3l-12.3 10.4l-10.3 6.7l-11.8 5.7l-13.9 4.7l-16.6 3.9l-19 2.7l-19.3 1.1l-20.2 -0.2l-20.3 -1.7l-19.6 -3l-19.7 -4.6l-17.4 -5.5l-14.6 -6.2l-12.6 -6.8l-11.7 -8.2l-12.6 -11.2l-3.6 -1.5" fill="none" stroke="#3a3ab8" stroke-width="2.4" stroke-opacity="0.68" stroke-linejoin="round"/>
<path d="M242.5 1270.1l-3.1 1l-11.5 7.8l-9.1 5l-9 4l-10.1 3.6l-11.3 3l-10.8 1.7l-9 0.2l-6.4 -1.3l-2.4 -1.7l-1.1 -2.5l0.5 -3.2l2.1 -4l5.3 -6.7l23.5 -26.2l2.1 -2l1.4 -0.7" fill="none" stroke="#3a3ab8" stroke-width="2.4" stroke-opacity="0.68" stroke-linejoin="round"/>
<path d="M193.6 1247.8l2.4 1.2l8.3 10.1l7.5 6.5l8.9 5.5l11.2 4.9l14 4.3l16.7 3.5l19.1 2.5l19.1 1.3l21.4 0.3l21.1 -1l20 -2.1l17.9 -3.1l14.3 -3.5l13.9 -4.6l12.1 -5.4l16.2 -9l2.9 -1.1l2.5 -0.3" fill="none" stroke="#3a3ab8" stroke-width="2.4" stroke-opacity="0.68" stroke-linejoin="round"/>
<path d="M443.1 1258.1l2.6 0.5l3 1.4l27.9 18.3l12.5 7l14.1 6.9l15 6.5l13.8 5.1l12.9 4l11.1 2.6l7.7 0.9l6.2 -0.2l4.2 -1.5l2.2 -2.6l0.7 -4.1l-1.2 -5.9l-4.1 -10.8l-1.9 -3.9l-1.1 -1.1" fill="none" stroke="#3a3ab8" stroke-width="2.4" stroke-opacity="0.68" stroke-linejoin="round"/>
<path d="M568.7 1281l-0.6 1.1l-2.1 11l-2.8 7.2l-4.6 6.4l-6.1 5.2l-8.4 4.3l-10.1 2.9l-12.3 1.6l-14.1 0.2l-15.6 -1.3l-16.3 -2.7l-17.8 -4.2l-17 -5.4l-14.3 -5.5l-13.5 -6.3l-14.3 -7.8l-18.8 -12.1l-3.4 -1.5l-2.8 -0.5" fill="none" stroke="#3a3ab8" stroke-width="2.4" stroke-opacity="0.68" stroke-linejoin="round"/>
<path d="M373.8 1274l-5 1.2l-16 8.6l-13.3 5.6l-14.1 4.4l-15.6 3.6l-17.6 2.6l-18.9 1.4l-19.2 0.1l-18.5 -1.5l-15.7 -2.5l-13.6 -3.6l-11.2 -4.5l-9.4 -5.6l-7.1 -6.6l-4.7 -7.1l-2.8 -7.5l-1.7 -11.5l-0.5 -1" fill="none" stroke="#3a3ab8" stroke-width="2.4" stroke-opacity="0.68" stroke-linejoin="round"/>
<path d="M168.9 1249.6l-1.1 1.3l-2.1 4.5l-3.4 10.5l-0.6 6.3l1.3 4.7l3.3 3.8l5.2 2.6l7.5 1.8l9.7 0.9l12.5 -0.2l15.1 -1.5l14.7 -2.5l15.5 -3.7l12.2 -3.8l10.9 -4.1l12 -5.4l16.6 -9l3.1 -1.1l2.7 -0.4" fill="none" stroke="#3a3ab8" stroke-width="2.4" stroke-opacity="0.68" stroke-linejoin="round"/>
<path d="M304 1254l2.7 0.5l3.4 1.6l18 12l14 8l14.7 7l14.9 5.9l18.2 5.9l19.6 5.1l20.2 3.9l18.5 2.4l17.5 1.2l16.1 -0.2l14.1 -1.4l12.9 -2.8l10.4 -3.7l8.4 -4.7l7.2 -5.9l8.2 -9.2l2.4 -1.1" fill="none" stroke="#3a3ab8" stroke-width="2.4" stroke-opacity="0.68" stroke-linejoin="round"/>
<path d="M545.4 1279.2l2 0.9l2.7 2.8l24.6 30.7l2.2 3.5l1 2.6l-0.5 1.4l-1.9 0.4l-4.5 -1l-7.1 -2.8l-17.9 -9.7l-17.3 -11.8l-20.9 -17l-2.6 -1.5l-2.1 -0.5" fill="none" stroke="#3a3ab8" stroke-width="2.4" stroke-opacity="0.68" stroke-linejoin="round"/>
<path d="M503.1 1277l-2.8 1l-11.2 8.8l-9.9 5.6l-11.4 4.5l-13.7 3.6l-16.5 2.6l-19.2 1.5l-21.2 0l-20.8 -1.3l-20.9 -2.5l-22 -4l-20.2 -5.1l-19.1 -6.2l-14.7 -6.3l-13.3 -7.2l-10.7 -7.5l-12 -10.8l-3.1 -1.4" fill="none" stroke="#3a3ab8" stroke-width="2.4" stroke-opacity="0.68" stroke-linejoin="round"/>
<path d="M240.4 1252.8l-4.1 1.2l-19.5 12.5l-17.8 8.9l-10.4 4l-9.8 3.2l-8.8 2.2l-6 0.7l-2 -0.3l-0.8 -0.8l0.4 -1.3l1.7 -2.1l16.9 -15.1l12.2 -12.1l1.8 -1.4l1.6 -0.4" fill="none" stroke="#3a3ab8" stroke-width="2.4" stroke-opacity="0.68" stroke-linejoin="round"/>
<path d="M195.8 1251l1.9 1.4l7.9 12l6.5 6.9l9.6 7.4l11.2 6.4l14.2 5.9l17 5.2l19.4 4.1l19.4 2.7l20 1.4l21.4 0l20.2 -1.4l19.4 -3l15.4 -3.7l14.2 -5.1l11.6 -5.8l13.3 -8.8l3.4 -0.9" fill="none" stroke="#3a3ab8" stroke-width="2.4" stroke-opacity="0.68" stroke-linejoin="round"/>
<path d="M441.8 1275.6l2.5 0.5l3.1 1.6l17.2 12.1l12.7 7.8l10.8 5.7l11.9 5.4l13.8 5.3l13.8 4.1l13 2.6l10.8 1l8.2 -0.4l7.2 -1.8l5 -3.2l3.3 -4.5l1.4 -5.9l-0.2 -7.7l-2.7 -11.7l-1.8 -5.5l-1.1 -1.8" fill="none" stroke="#3a3ab8" stroke-width="2.4" stroke-opacity="0.68" stroke-linejoin="round"/>
<circle cx="373.8" cy="1266.1" r="3.3" fill="url(#gearth)"/>
<line x1="157.7" y1="1247.7" x2="157.7" y2="1323.4" stroke="#333" stroke-width="0.8" />
<line x1="157.7" y1="1323.4" x2="586.0" y2="1323.4" stroke="#333" stroke-width="0.8" />
<line x1="162.6" y1="1323.4" x2="162.6" y2="1320.0" stroke="#333" stroke-width="0.8" />
<line x1="268.2" y1="1323.4" x2="268.2" y2="1320.0" stroke="#333" stroke-width="0.8" />
<line x1="373.8" y1="1323.4" x2="373.8" y2="1320.0" stroke="#333" stroke-width="0.8" />
<line x1="479.4" y1="1323.4" x2="479.4" y2="1320.0" stroke="#333" stroke-width="0.8" />
<line x1="585.0" y1="1323.4" x2="585.0" y2="1320.0" stroke="#333" stroke-width="0.8" />
<line x1="157.7" y1="1266.3" x2="161.1" y2="1266.3" stroke="#333" stroke-width="0.8" />
<line x1="157.7" y1="1292.8" x2="161.1" y2="1292.8" stroke="#333" stroke-width="0.8" />
<line x1="157.7" y1="1319.2" x2="161.1" y2="1319.2" stroke="#333" stroke-width="0.8" />
<text x="159.4" y="1241.5" font-size="17.5" textLength="39.7" lengthAdjust="spacingAndGlyphs">&#215;10<tspan dy="-8.8" font-size="11.9">4</tspan></text>
<text x="140.8" y="1271.4" font-size="17.5" textLength="11.1" lengthAdjust="spacingAndGlyphs">0</text>
<text x="133.5" y="1297.9" font-size="17.5" textLength="18.4" lengthAdjust="spacingAndGlyphs">-5</text>
<text x="124.0" y="1324.0" font-size="17.5" textLength="27.9" lengthAdjust="spacingAndGlyphs">-10</text>
<text transform="translate(113.9,1314.9) rotate(-90)" font-size="19" textLength="56.7" lengthAdjust="spacingAndGlyphs">z [km]</text>
<text x="153.3" y="1347.2" font-size="17.5" textLength="17.5" lengthAdjust="spacingAndGlyphs">-4</text>
<text x="259.2" y="1347.2" font-size="17.5" textLength="16.7" lengthAdjust="spacingAndGlyphs">-2</text>
<text x="368.6" y="1347.2" font-size="17.5" textLength="10.3" lengthAdjust="spacingAndGlyphs">0</text>
<text x="474.2" y="1347.2" font-size="17.5" textLength="10.3" lengthAdjust="spacingAndGlyphs">2</text>
<text x="579.5" y="1347.2" font-size="17.5" textLength="10.7" lengthAdjust="spacingAndGlyphs">4</text>
<text x="340.1" y="1372.1" font-size="19" textLength="60.9" lengthAdjust="spacingAndGlyphs">y [km]</text>
<text x="544.3" y="1371.4" font-size="17.5" textLength="40.5" lengthAdjust="spacingAndGlyphs">&#215;10<tspan dy="-8.8" font-size="11.9">5</tspan></text>
<text x="196.8" y="1401.6" font-size="20" textLength="290.8" lengthAdjust="spacingAndGlyphs"><tspan font-weight="bold">(f)</tspan> Sun–Earth Rotating Frame</text>
<text x="409.7" y="1238.1" font-size="17.3" textLength="40.0" lengthAdjust="spacingAndGlyphs">Earth</text>
<line x1="404.1" y1="1241.6" x2="384.5" y2="1258.1" stroke="#000" stroke-width="0.8" />
<path d="M378.4 1263.2 L384.1 1252.8 L384.5 1258.1 L389.6 1259.4 Z" fill="#000"/>
</svg></body></html>
